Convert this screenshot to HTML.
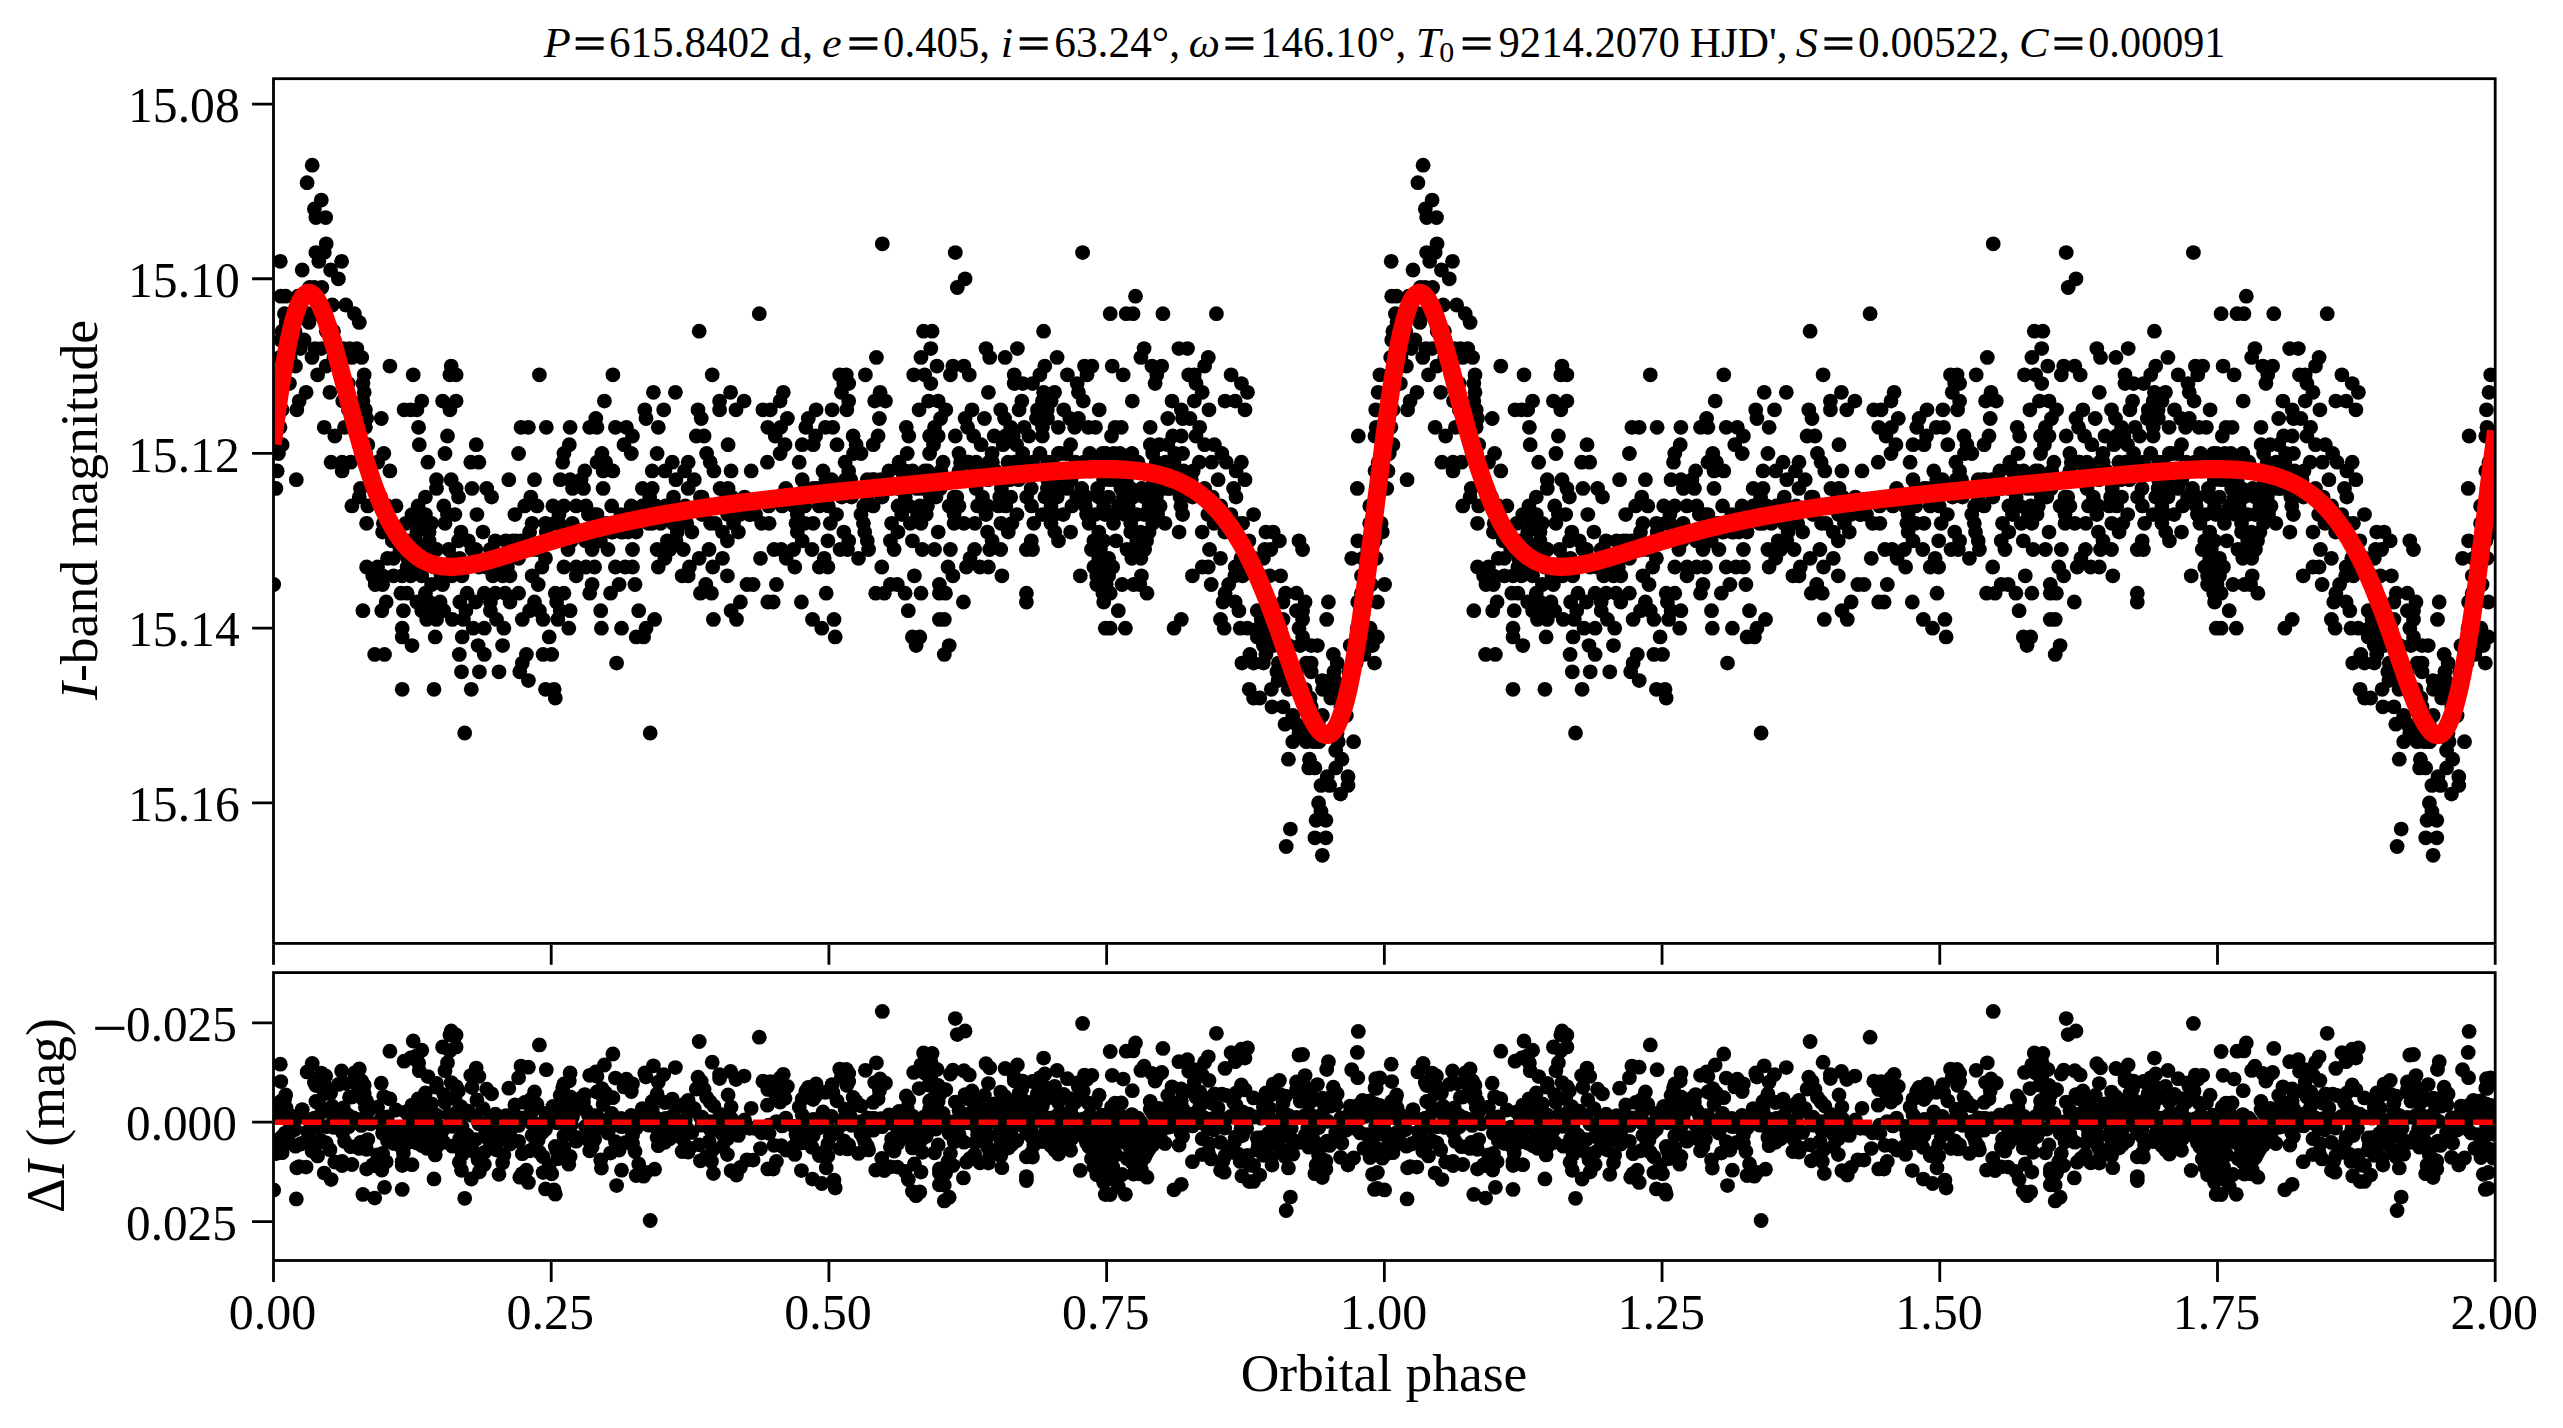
<!DOCTYPE html><html><head><meta charset="utf-8"><title>Light curve</title><style>html,body{margin:0;padding:0;background:#fff}svg{display:block}</style></head><body><svg width="2563" height="1428" viewBox="0 0 2563 1428">
<rect width="2563" height="1428" fill="#fff"/>
<defs><clipPath id="ct"><rect x="273.5" y="78.7" width="2221.7" height="864.6999999999999"/></clipPath><clipPath id="cb"><rect x="273.5" y="972.6" width="2221.7" height="287.9"/></clipPath></defs>
<g clip-path="url(#ct)" fill="#000"><circle cx="275.9" cy="488.4" r="7.4"/><circle cx="1386.8" cy="488.4" r="7.4"/><circle cx="273.7" cy="584.5" r="7.4"/><circle cx="1384.6" cy="584.5" r="7.4"/><circle cx="277.2" cy="470.9" r="7.4"/><circle cx="1388.0" cy="470.9" r="7.4"/><circle cx="278.4" cy="453.5" r="7.4"/><circle cx="1389.2" cy="453.5" r="7.4"/><circle cx="280.3" cy="261.3" r="7.4"/><circle cx="1391.2" cy="261.3" r="7.4"/><circle cx="280.8" cy="296.2" r="7.4"/><circle cx="1391.7" cy="296.2" r="7.4"/><circle cx="280.8" cy="339.9" r="7.4"/><circle cx="1391.7" cy="339.9" r="7.4"/><circle cx="282.1" cy="331.2" r="7.4"/><circle cx="1392.9" cy="331.2" r="7.4"/><circle cx="282.1" cy="444.7" r="7.4"/><circle cx="1392.9" cy="444.7" r="7.4"/><circle cx="284.5" cy="313.7" r="7.4"/><circle cx="1395.4" cy="313.7" r="7.4"/><circle cx="285.7" cy="296.2" r="7.4"/><circle cx="1396.6" cy="296.2" r="7.4"/><circle cx="289.4" cy="383.6" r="7.4"/><circle cx="1400.3" cy="383.6" r="7.4"/><circle cx="295.5" cy="366.1" r="7.4"/><circle cx="1406.4" cy="366.1" r="7.4"/><circle cx="296.3" cy="479.7" r="7.4"/><circle cx="1407.1" cy="479.7" r="7.4"/><circle cx="296.8" cy="409.8" r="7.4"/><circle cx="1407.6" cy="409.8" r="7.4"/><circle cx="299.2" cy="401.1" r="7.4"/><circle cx="1410.1" cy="401.1" r="7.4"/><circle cx="300.4" cy="348.6" r="7.4"/><circle cx="1411.3" cy="348.6" r="7.4"/><circle cx="302.2" cy="270.0" r="7.4"/><circle cx="1413.0" cy="270.0" r="7.4"/><circle cx="304.1" cy="339.9" r="7.4"/><circle cx="1415.0" cy="339.9" r="7.4"/><circle cx="306.1" cy="392.3" r="7.4"/><circle cx="1416.9" cy="392.3" r="7.4"/><circle cx="307.1" cy="182.7" r="7.4"/><circle cx="1417.9" cy="182.7" r="7.4"/><circle cx="307.8" cy="313.7" r="7.4"/><circle cx="1418.6" cy="313.7" r="7.4"/><circle cx="309.0" cy="322.4" r="7.4"/><circle cx="1419.9" cy="322.4" r="7.4"/><circle cx="312.0" cy="357.4" r="7.4"/><circle cx="1422.8" cy="357.4" r="7.4"/><circle cx="312.2" cy="165.2" r="7.4"/><circle cx="1423.1" cy="165.2" r="7.4"/><circle cx="314.4" cy="208.9" r="7.4"/><circle cx="1425.3" cy="208.9" r="7.4"/><circle cx="314.4" cy="287.5" r="7.4"/><circle cx="1425.3" cy="287.5" r="7.4"/><circle cx="315.1" cy="348.6" r="7.4"/><circle cx="1426.0" cy="348.6" r="7.4"/><circle cx="315.9" cy="217.6" r="7.4"/><circle cx="1426.7" cy="217.6" r="7.4"/><circle cx="315.9" cy="252.6" r="7.4"/><circle cx="1426.7" cy="252.6" r="7.4"/><circle cx="317.6" cy="374.8" r="7.4"/><circle cx="1428.5" cy="374.8" r="7.4"/><circle cx="318.8" cy="261.3" r="7.4"/><circle cx="1429.7" cy="261.3" r="7.4"/><circle cx="321.3" cy="200.1" r="7.4"/><circle cx="1432.1" cy="200.1" r="7.4"/><circle cx="321.3" cy="348.6" r="7.4"/><circle cx="1432.1" cy="348.6" r="7.4"/><circle cx="321.8" cy="287.5" r="7.4"/><circle cx="1432.6" cy="287.5" r="7.4"/><circle cx="324.2" cy="252.6" r="7.4"/><circle cx="1435.1" cy="252.6" r="7.4"/><circle cx="324.2" cy="427.3" r="7.4"/><circle cx="1435.1" cy="427.3" r="7.4"/><circle cx="325.7" cy="217.6" r="7.4"/><circle cx="1436.5" cy="217.6" r="7.4"/><circle cx="326.2" cy="243.8" r="7.4"/><circle cx="1437.0" cy="243.8" r="7.4"/><circle cx="326.2" cy="366.1" r="7.4"/><circle cx="1437.0" cy="366.1" r="7.4"/><circle cx="329.9" cy="392.3" r="7.4"/><circle cx="1440.7" cy="392.3" r="7.4"/><circle cx="330.6" cy="270.0" r="7.4"/><circle cx="1441.4" cy="270.0" r="7.4"/><circle cx="331.1" cy="462.2" r="7.4"/><circle cx="1441.9" cy="462.2" r="7.4"/><circle cx="332.3" cy="305.0" r="7.4"/><circle cx="1443.2" cy="305.0" r="7.4"/><circle cx="333.5" cy="331.2" r="7.4"/><circle cx="1444.4" cy="331.2" r="7.4"/><circle cx="334.8" cy="436.0" r="7.4"/><circle cx="1445.6" cy="436.0" r="7.4"/><circle cx="338.4" cy="278.8" r="7.4"/><circle cx="1449.3" cy="278.8" r="7.4"/><circle cx="341.6" cy="261.3" r="7.4"/><circle cx="1452.5" cy="261.3" r="7.4"/><circle cx="342.1" cy="462.2" r="7.4"/><circle cx="1453.0" cy="462.2" r="7.4"/><circle cx="342.1" cy="470.9" r="7.4"/><circle cx="1453.0" cy="470.9" r="7.4"/><circle cx="343.3" cy="348.6" r="7.4"/><circle cx="1454.2" cy="348.6" r="7.4"/><circle cx="344.6" cy="427.3" r="7.4"/><circle cx="1455.4" cy="427.3" r="7.4"/><circle cx="345.8" cy="305.0" r="7.4"/><circle cx="1456.6" cy="305.0" r="7.4"/><circle cx="348.2" cy="383.6" r="7.4"/><circle cx="1459.1" cy="383.6" r="7.4"/><circle cx="349.5" cy="348.6" r="7.4"/><circle cx="1460.3" cy="348.6" r="7.4"/><circle cx="350.7" cy="462.2" r="7.4"/><circle cx="1461.5" cy="462.2" r="7.4"/><circle cx="351.9" cy="357.4" r="7.4"/><circle cx="1462.8" cy="357.4" r="7.4"/><circle cx="351.9" cy="505.9" r="7.4"/><circle cx="1462.8" cy="505.9" r="7.4"/><circle cx="354.4" cy="313.7" r="7.4"/><circle cx="1465.2" cy="313.7" r="7.4"/><circle cx="356.8" cy="348.6" r="7.4"/><circle cx="1467.7" cy="348.6" r="7.4"/><circle cx="359.3" cy="322.4" r="7.4"/><circle cx="1470.1" cy="322.4" r="7.4"/><circle cx="359.3" cy="497.1" r="7.4"/><circle cx="1470.1" cy="497.1" r="7.4"/><circle cx="360.5" cy="488.4" r="7.4"/><circle cx="1471.3" cy="488.4" r="7.4"/><circle cx="361.7" cy="357.4" r="7.4"/><circle cx="1472.6" cy="357.4" r="7.4"/><circle cx="362.9" cy="383.6" r="7.4"/><circle cx="1473.8" cy="383.6" r="7.4"/><circle cx="362.9" cy="401.1" r="7.4"/><circle cx="1473.8" cy="401.1" r="7.4"/><circle cx="362.9" cy="610.7" r="7.4"/><circle cx="1473.8" cy="610.7" r="7.4"/><circle cx="364.2" cy="374.8" r="7.4"/><circle cx="1475.0" cy="374.8" r="7.4"/><circle cx="364.2" cy="392.3" r="7.4"/><circle cx="1475.0" cy="392.3" r="7.4"/><circle cx="365.4" cy="409.8" r="7.4"/><circle cx="1476.2" cy="409.8" r="7.4"/><circle cx="365.4" cy="427.3" r="7.4"/><circle cx="1476.2" cy="427.3" r="7.4"/><circle cx="366.6" cy="418.5" r="7.4"/><circle cx="1477.5" cy="418.5" r="7.4"/><circle cx="366.6" cy="523.3" r="7.4"/><circle cx="1477.5" cy="523.3" r="7.4"/><circle cx="366.6" cy="567.0" r="7.4"/><circle cx="1477.5" cy="567.0" r="7.4"/><circle cx="367.8" cy="444.7" r="7.4"/><circle cx="1478.7" cy="444.7" r="7.4"/><circle cx="367.8" cy="505.9" r="7.4"/><circle cx="1478.7" cy="505.9" r="7.4"/><circle cx="372.7" cy="575.8" r="7.4"/><circle cx="1483.6" cy="575.8" r="7.4"/><circle cx="374.7" cy="654.4" r="7.4"/><circle cx="1485.6" cy="654.4" r="7.4"/><circle cx="375.2" cy="584.5" r="7.4"/><circle cx="1486.0" cy="584.5" r="7.4"/><circle cx="377.6" cy="462.2" r="7.4"/><circle cx="1488.5" cy="462.2" r="7.4"/><circle cx="377.6" cy="567.0" r="7.4"/><circle cx="1488.5" cy="567.0" r="7.4"/><circle cx="381.3" cy="418.5" r="7.4"/><circle cx="1492.2" cy="418.5" r="7.4"/><circle cx="381.8" cy="610.7" r="7.4"/><circle cx="1492.7" cy="610.7" r="7.4"/><circle cx="382.6" cy="532.1" r="7.4"/><circle cx="1493.4" cy="532.1" r="7.4"/><circle cx="382.6" cy="575.8" r="7.4"/><circle cx="1493.4" cy="575.8" r="7.4"/><circle cx="382.6" cy="584.5" r="7.4"/><circle cx="1493.4" cy="584.5" r="7.4"/><circle cx="383.8" cy="453.5" r="7.4"/><circle cx="1494.6" cy="453.5" r="7.4"/><circle cx="384.5" cy="654.4" r="7.4"/><circle cx="1495.4" cy="654.4" r="7.4"/><circle cx="386.2" cy="602.0" r="7.4"/><circle cx="1497.1" cy="602.0" r="7.4"/><circle cx="387.5" cy="558.3" r="7.4"/><circle cx="1498.3" cy="558.3" r="7.4"/><circle cx="389.9" cy="366.1" r="7.4"/><circle cx="1500.8" cy="366.1" r="7.4"/><circle cx="389.9" cy="470.9" r="7.4"/><circle cx="1500.8" cy="470.9" r="7.4"/><circle cx="392.3" cy="540.8" r="7.4"/><circle cx="1503.2" cy="540.8" r="7.4"/><circle cx="393.6" cy="558.3" r="7.4"/><circle cx="1504.4" cy="558.3" r="7.4"/><circle cx="393.6" cy="575.8" r="7.4"/><circle cx="1504.4" cy="575.8" r="7.4"/><circle cx="396.0" cy="505.9" r="7.4"/><circle cx="1506.9" cy="505.9" r="7.4"/><circle cx="400.9" cy="593.2" r="7.4"/><circle cx="1511.8" cy="593.2" r="7.4"/><circle cx="402.2" cy="575.8" r="7.4"/><circle cx="1513.0" cy="575.8" r="7.4"/><circle cx="402.2" cy="628.2" r="7.4"/><circle cx="1513.0" cy="628.2" r="7.4"/><circle cx="402.2" cy="636.9" r="7.4"/><circle cx="1513.0" cy="636.9" r="7.4"/><circle cx="402.2" cy="689.3" r="7.4"/><circle cx="1513.0" cy="689.3" r="7.4"/><circle cx="403.4" cy="610.7" r="7.4"/><circle cx="1514.2" cy="610.7" r="7.4"/><circle cx="404.1" cy="409.8" r="7.4"/><circle cx="1515.0" cy="409.8" r="7.4"/><circle cx="405.8" cy="523.3" r="7.4"/><circle cx="1516.7" cy="523.3" r="7.4"/><circle cx="407.1" cy="567.0" r="7.4"/><circle cx="1517.9" cy="567.0" r="7.4"/><circle cx="407.1" cy="593.2" r="7.4"/><circle cx="1517.9" cy="593.2" r="7.4"/><circle cx="410.7" cy="409.8" r="7.4"/><circle cx="1521.6" cy="409.8" r="7.4"/><circle cx="410.7" cy="575.8" r="7.4"/><circle cx="1521.6" cy="575.8" r="7.4"/><circle cx="412.0" cy="514.6" r="7.4"/><circle cx="1522.8" cy="514.6" r="7.4"/><circle cx="412.0" cy="645.6" r="7.4"/><circle cx="1522.8" cy="645.6" r="7.4"/><circle cx="413.2" cy="374.8" r="7.4"/><circle cx="1524.0" cy="374.8" r="7.4"/><circle cx="416.9" cy="409.8" r="7.4"/><circle cx="1527.7" cy="409.8" r="7.4"/><circle cx="416.9" cy="532.1" r="7.4"/><circle cx="1527.7" cy="532.1" r="7.4"/><circle cx="416.9" cy="602.0" r="7.4"/><circle cx="1527.7" cy="602.0" r="7.4"/><circle cx="418.1" cy="505.9" r="7.4"/><circle cx="1528.9" cy="505.9" r="7.4"/><circle cx="418.6" cy="427.3" r="7.4"/><circle cx="1529.4" cy="427.3" r="7.4"/><circle cx="419.3" cy="444.7" r="7.4"/><circle cx="1530.2" cy="444.7" r="7.4"/><circle cx="419.3" cy="523.3" r="7.4"/><circle cx="1530.2" cy="523.3" r="7.4"/><circle cx="421.8" cy="401.1" r="7.4"/><circle cx="1532.6" cy="401.1" r="7.4"/><circle cx="421.8" cy="575.8" r="7.4"/><circle cx="1532.6" cy="575.8" r="7.4"/><circle cx="421.8" cy="610.7" r="7.4"/><circle cx="1532.6" cy="610.7" r="7.4"/><circle cx="425.4" cy="497.1" r="7.4"/><circle cx="1536.3" cy="497.1" r="7.4"/><circle cx="425.4" cy="514.6" r="7.4"/><circle cx="1536.3" cy="514.6" r="7.4"/><circle cx="425.4" cy="593.2" r="7.4"/><circle cx="1536.3" cy="593.2" r="7.4"/><circle cx="426.7" cy="619.4" r="7.4"/><circle cx="1537.5" cy="619.4" r="7.4"/><circle cx="427.9" cy="462.2" r="7.4"/><circle cx="1538.7" cy="462.2" r="7.4"/><circle cx="429.1" cy="532.1" r="7.4"/><circle cx="1540.0" cy="532.1" r="7.4"/><circle cx="429.1" cy="540.8" r="7.4"/><circle cx="1540.0" cy="540.8" r="7.4"/><circle cx="429.1" cy="602.0" r="7.4"/><circle cx="1540.0" cy="602.0" r="7.4"/><circle cx="431.6" cy="523.3" r="7.4"/><circle cx="1542.4" cy="523.3" r="7.4"/><circle cx="431.6" cy="584.5" r="7.4"/><circle cx="1542.4" cy="584.5" r="7.4"/><circle cx="432.8" cy="610.7" r="7.4"/><circle cx="1543.6" cy="610.7" r="7.4"/><circle cx="434.0" cy="689.3" r="7.4"/><circle cx="1544.9" cy="689.3" r="7.4"/><circle cx="435.2" cy="549.5" r="7.4"/><circle cx="1546.1" cy="549.5" r="7.4"/><circle cx="435.2" cy="636.9" r="7.4"/><circle cx="1546.1" cy="636.9" r="7.4"/><circle cx="436.5" cy="479.7" r="7.4"/><circle cx="1547.3" cy="479.7" r="7.4"/><circle cx="436.5" cy="488.4" r="7.4"/><circle cx="1547.3" cy="488.4" r="7.4"/><circle cx="436.5" cy="619.4" r="7.4"/><circle cx="1547.3" cy="619.4" r="7.4"/><circle cx="440.1" cy="602.0" r="7.4"/><circle cx="1551.0" cy="602.0" r="7.4"/><circle cx="442.6" cy="401.1" r="7.4"/><circle cx="1553.4" cy="401.1" r="7.4"/><circle cx="442.6" cy="584.5" r="7.4"/><circle cx="1553.4" cy="584.5" r="7.4"/><circle cx="443.8" cy="505.9" r="7.4"/><circle cx="1554.7" cy="505.9" r="7.4"/><circle cx="443.8" cy="610.7" r="7.4"/><circle cx="1554.7" cy="610.7" r="7.4"/><circle cx="445.0" cy="453.5" r="7.4"/><circle cx="1555.9" cy="453.5" r="7.4"/><circle cx="445.0" cy="523.3" r="7.4"/><circle cx="1555.9" cy="523.3" r="7.4"/><circle cx="447.5" cy="436.0" r="7.4"/><circle cx="1558.4" cy="436.0" r="7.4"/><circle cx="447.5" cy="514.6" r="7.4"/><circle cx="1558.4" cy="514.6" r="7.4"/><circle cx="448.7" cy="549.5" r="7.4"/><circle cx="1559.6" cy="549.5" r="7.4"/><circle cx="449.9" cy="374.8" r="7.4"/><circle cx="1560.8" cy="374.8" r="7.4"/><circle cx="449.9" cy="409.8" r="7.4"/><circle cx="1560.8" cy="409.8" r="7.4"/><circle cx="451.2" cy="366.1" r="7.4"/><circle cx="1562.0" cy="366.1" r="7.4"/><circle cx="451.2" cy="479.7" r="7.4"/><circle cx="1562.0" cy="479.7" r="7.4"/><circle cx="452.4" cy="619.4" r="7.4"/><circle cx="1563.3" cy="619.4" r="7.4"/><circle cx="454.9" cy="514.6" r="7.4"/><circle cx="1565.7" cy="514.6" r="7.4"/><circle cx="456.1" cy="374.8" r="7.4"/><circle cx="1566.9" cy="374.8" r="7.4"/><circle cx="456.1" cy="401.1" r="7.4"/><circle cx="1566.9" cy="401.1" r="7.4"/><circle cx="456.1" cy="488.4" r="7.4"/><circle cx="1566.9" cy="488.4" r="7.4"/><circle cx="458.5" cy="497.1" r="7.4"/><circle cx="1569.4" cy="497.1" r="7.4"/><circle cx="458.5" cy="540.8" r="7.4"/><circle cx="1569.4" cy="540.8" r="7.4"/><circle cx="459.3" cy="654.4" r="7.4"/><circle cx="1570.1" cy="654.4" r="7.4"/><circle cx="459.8" cy="602.0" r="7.4"/><circle cx="1570.6" cy="602.0" r="7.4"/><circle cx="461.0" cy="532.1" r="7.4"/><circle cx="1571.8" cy="532.1" r="7.4"/><circle cx="461.5" cy="671.8" r="7.4"/><circle cx="1572.3" cy="671.8" r="7.4"/><circle cx="462.2" cy="636.9" r="7.4"/><circle cx="1573.1" cy="636.9" r="7.4"/><circle cx="463.4" cy="619.4" r="7.4"/><circle cx="1574.3" cy="619.4" r="7.4"/><circle cx="464.7" cy="733.0" r="7.4"/><circle cx="1575.5" cy="733.0" r="7.4"/><circle cx="465.9" cy="610.7" r="7.4"/><circle cx="1576.7" cy="610.7" r="7.4"/><circle cx="467.1" cy="593.2" r="7.4"/><circle cx="1578.0" cy="593.2" r="7.4"/><circle cx="468.3" cy="540.8" r="7.4"/><circle cx="1579.2" cy="540.8" r="7.4"/><circle cx="470.8" cy="462.2" r="7.4"/><circle cx="1581.6" cy="462.2" r="7.4"/><circle cx="471.3" cy="689.3" r="7.4"/><circle cx="1582.1" cy="689.3" r="7.4"/><circle cx="472.0" cy="488.4" r="7.4"/><circle cx="1582.9" cy="488.4" r="7.4"/><circle cx="472.0" cy="549.5" r="7.4"/><circle cx="1582.9" cy="549.5" r="7.4"/><circle cx="473.2" cy="628.2" r="7.4"/><circle cx="1584.1" cy="628.2" r="7.4"/><circle cx="475.7" cy="602.0" r="7.4"/><circle cx="1586.5" cy="602.0" r="7.4"/><circle cx="476.2" cy="444.7" r="7.4"/><circle cx="1587.0" cy="444.7" r="7.4"/><circle cx="476.9" cy="514.6" r="7.4"/><circle cx="1587.8" cy="514.6" r="7.4"/><circle cx="478.1" cy="645.6" r="7.4"/><circle cx="1589.0" cy="645.6" r="7.4"/><circle cx="478.9" cy="462.2" r="7.4"/><circle cx="1589.7" cy="462.2" r="7.4"/><circle cx="479.4" cy="671.8" r="7.4"/><circle cx="1590.2" cy="671.8" r="7.4"/><circle cx="483.0" cy="532.1" r="7.4"/><circle cx="1593.9" cy="532.1" r="7.4"/><circle cx="484.3" cy="593.2" r="7.4"/><circle cx="1595.1" cy="593.2" r="7.4"/><circle cx="484.3" cy="628.2" r="7.4"/><circle cx="1595.1" cy="628.2" r="7.4"/><circle cx="484.3" cy="654.4" r="7.4"/><circle cx="1595.1" cy="654.4" r="7.4"/><circle cx="486.7" cy="488.4" r="7.4"/><circle cx="1597.6" cy="488.4" r="7.4"/><circle cx="490.4" cy="549.5" r="7.4"/><circle cx="1601.2" cy="549.5" r="7.4"/><circle cx="490.4" cy="602.0" r="7.4"/><circle cx="1601.2" cy="602.0" r="7.4"/><circle cx="490.4" cy="610.7" r="7.4"/><circle cx="1601.2" cy="610.7" r="7.4"/><circle cx="491.6" cy="497.1" r="7.4"/><circle cx="1602.5" cy="497.1" r="7.4"/><circle cx="492.8" cy="575.8" r="7.4"/><circle cx="1603.7" cy="575.8" r="7.4"/><circle cx="495.3" cy="540.8" r="7.4"/><circle cx="1606.1" cy="540.8" r="7.4"/><circle cx="495.3" cy="593.2" r="7.4"/><circle cx="1606.1" cy="593.2" r="7.4"/><circle cx="496.5" cy="619.4" r="7.4"/><circle cx="1607.4" cy="619.4" r="7.4"/><circle cx="499.0" cy="671.8" r="7.4"/><circle cx="1609.8" cy="671.8" r="7.4"/><circle cx="502.6" cy="575.8" r="7.4"/><circle cx="1613.5" cy="575.8" r="7.4"/><circle cx="502.6" cy="645.6" r="7.4"/><circle cx="1613.5" cy="645.6" r="7.4"/><circle cx="503.9" cy="628.2" r="7.4"/><circle cx="1614.7" cy="628.2" r="7.4"/><circle cx="505.1" cy="593.2" r="7.4"/><circle cx="1616.0" cy="593.2" r="7.4"/><circle cx="507.5" cy="567.0" r="7.4"/><circle cx="1618.4" cy="567.0" r="7.4"/><circle cx="508.8" cy="479.7" r="7.4"/><circle cx="1619.6" cy="479.7" r="7.4"/><circle cx="510.0" cy="575.8" r="7.4"/><circle cx="1620.8" cy="575.8" r="7.4"/><circle cx="510.0" cy="602.0" r="7.4"/><circle cx="1620.8" cy="602.0" r="7.4"/><circle cx="512.5" cy="540.8" r="7.4"/><circle cx="1623.3" cy="540.8" r="7.4"/><circle cx="514.9" cy="514.6" r="7.4"/><circle cx="1625.7" cy="514.6" r="7.4"/><circle cx="518.6" cy="453.5" r="7.4"/><circle cx="1629.4" cy="453.5" r="7.4"/><circle cx="518.6" cy="593.2" r="7.4"/><circle cx="1629.4" cy="593.2" r="7.4"/><circle cx="519.8" cy="671.8" r="7.4"/><circle cx="1630.7" cy="671.8" r="7.4"/><circle cx="521.0" cy="427.3" r="7.4"/><circle cx="1631.9" cy="427.3" r="7.4"/><circle cx="522.3" cy="619.4" r="7.4"/><circle cx="1633.1" cy="619.4" r="7.4"/><circle cx="522.3" cy="663.1" r="7.4"/><circle cx="1633.1" cy="663.1" r="7.4"/><circle cx="524.7" cy="505.9" r="7.4"/><circle cx="1635.6" cy="505.9" r="7.4"/><circle cx="526.4" cy="654.4" r="7.4"/><circle cx="1637.3" cy="654.4" r="7.4"/><circle cx="528.4" cy="427.3" r="7.4"/><circle cx="1639.2" cy="427.3" r="7.4"/><circle cx="528.4" cy="680.6" r="7.4"/><circle cx="1639.2" cy="680.6" r="7.4"/><circle cx="529.6" cy="532.1" r="7.4"/><circle cx="1640.5" cy="532.1" r="7.4"/><circle cx="529.6" cy="610.7" r="7.4"/><circle cx="1640.5" cy="610.7" r="7.4"/><circle cx="530.8" cy="497.1" r="7.4"/><circle cx="1641.7" cy="497.1" r="7.4"/><circle cx="532.1" cy="523.3" r="7.4"/><circle cx="1642.9" cy="523.3" r="7.4"/><circle cx="532.1" cy="575.8" r="7.4"/><circle cx="1642.9" cy="575.8" r="7.4"/><circle cx="534.5" cy="479.7" r="7.4"/><circle cx="1645.4" cy="479.7" r="7.4"/><circle cx="534.5" cy="602.0" r="7.4"/><circle cx="1645.4" cy="602.0" r="7.4"/><circle cx="537.0" cy="505.9" r="7.4"/><circle cx="1647.8" cy="505.9" r="7.4"/><circle cx="538.2" cy="584.5" r="7.4"/><circle cx="1649.0" cy="584.5" r="7.4"/><circle cx="539.4" cy="374.8" r="7.4"/><circle cx="1650.3" cy="374.8" r="7.4"/><circle cx="539.4" cy="610.7" r="7.4"/><circle cx="1650.3" cy="610.7" r="7.4"/><circle cx="541.9" cy="567.0" r="7.4"/><circle cx="1652.7" cy="567.0" r="7.4"/><circle cx="543.1" cy="619.4" r="7.4"/><circle cx="1653.9" cy="619.4" r="7.4"/><circle cx="543.1" cy="654.4" r="7.4"/><circle cx="1653.9" cy="654.4" r="7.4"/><circle cx="545.5" cy="523.3" r="7.4"/><circle cx="1656.4" cy="523.3" r="7.4"/><circle cx="545.5" cy="558.3" r="7.4"/><circle cx="1656.4" cy="558.3" r="7.4"/><circle cx="545.5" cy="689.3" r="7.4"/><circle cx="1656.4" cy="689.3" r="7.4"/><circle cx="546.3" cy="427.3" r="7.4"/><circle cx="1657.1" cy="427.3" r="7.4"/><circle cx="549.2" cy="636.9" r="7.4"/><circle cx="1660.1" cy="636.9" r="7.4"/><circle cx="551.7" cy="654.4" r="7.4"/><circle cx="1662.5" cy="654.4" r="7.4"/><circle cx="552.9" cy="505.9" r="7.4"/><circle cx="1663.7" cy="505.9" r="7.4"/><circle cx="554.1" cy="523.3" r="7.4"/><circle cx="1665.0" cy="523.3" r="7.4"/><circle cx="554.1" cy="689.3" r="7.4"/><circle cx="1665.0" cy="689.3" r="7.4"/><circle cx="555.3" cy="593.2" r="7.4"/><circle cx="1666.2" cy="593.2" r="7.4"/><circle cx="555.3" cy="698.0" r="7.4"/><circle cx="1666.2" cy="698.0" r="7.4"/><circle cx="556.6" cy="602.0" r="7.4"/><circle cx="1667.4" cy="602.0" r="7.4"/><circle cx="557.8" cy="619.4" r="7.4"/><circle cx="1668.6" cy="619.4" r="7.4"/><circle cx="559.0" cy="514.6" r="7.4"/><circle cx="1669.9" cy="514.6" r="7.4"/><circle cx="560.2" cy="479.7" r="7.4"/><circle cx="1671.1" cy="479.7" r="7.4"/><circle cx="560.2" cy="610.7" r="7.4"/><circle cx="1671.1" cy="610.7" r="7.4"/><circle cx="562.7" cy="462.2" r="7.4"/><circle cx="1673.5" cy="462.2" r="7.4"/><circle cx="563.9" cy="453.5" r="7.4"/><circle cx="1674.8" cy="453.5" r="7.4"/><circle cx="563.9" cy="505.9" r="7.4"/><circle cx="1674.8" cy="505.9" r="7.4"/><circle cx="563.9" cy="567.0" r="7.4"/><circle cx="1674.8" cy="567.0" r="7.4"/><circle cx="563.9" cy="593.2" r="7.4"/><circle cx="1674.8" cy="593.2" r="7.4"/><circle cx="568.8" cy="628.2" r="7.4"/><circle cx="1679.7" cy="628.2" r="7.4"/><circle cx="569.3" cy="444.7" r="7.4"/><circle cx="1680.2" cy="444.7" r="7.4"/><circle cx="570.1" cy="427.3" r="7.4"/><circle cx="1680.9" cy="427.3" r="7.4"/><circle cx="570.1" cy="479.7" r="7.4"/><circle cx="1680.9" cy="479.7" r="7.4"/><circle cx="570.1" cy="610.7" r="7.4"/><circle cx="1680.9" cy="610.7" r="7.4"/><circle cx="571.3" cy="540.8" r="7.4"/><circle cx="1682.1" cy="540.8" r="7.4"/><circle cx="572.5" cy="488.4" r="7.4"/><circle cx="1683.3" cy="488.4" r="7.4"/><circle cx="576.2" cy="505.9" r="7.4"/><circle cx="1687.0" cy="505.9" r="7.4"/><circle cx="576.2" cy="567.0" r="7.4"/><circle cx="1687.0" cy="567.0" r="7.4"/><circle cx="576.2" cy="575.8" r="7.4"/><circle cx="1687.0" cy="575.8" r="7.4"/><circle cx="581.1" cy="479.7" r="7.4"/><circle cx="1691.9" cy="479.7" r="7.4"/><circle cx="583.5" cy="488.4" r="7.4"/><circle cx="1694.4" cy="488.4" r="7.4"/><circle cx="584.8" cy="470.9" r="7.4"/><circle cx="1695.6" cy="470.9" r="7.4"/><circle cx="586.0" cy="505.9" r="7.4"/><circle cx="1696.8" cy="505.9" r="7.4"/><circle cx="586.0" cy="567.0" r="7.4"/><circle cx="1696.8" cy="567.0" r="7.4"/><circle cx="588.4" cy="514.6" r="7.4"/><circle cx="1699.3" cy="514.6" r="7.4"/><circle cx="588.4" cy="540.8" r="7.4"/><circle cx="1699.3" cy="540.8" r="7.4"/><circle cx="589.7" cy="427.3" r="7.4"/><circle cx="1700.5" cy="427.3" r="7.4"/><circle cx="589.7" cy="593.2" r="7.4"/><circle cx="1700.5" cy="593.2" r="7.4"/><circle cx="592.1" cy="549.5" r="7.4"/><circle cx="1703.0" cy="549.5" r="7.4"/><circle cx="592.1" cy="584.5" r="7.4"/><circle cx="1703.0" cy="584.5" r="7.4"/><circle cx="594.6" cy="567.0" r="7.4"/><circle cx="1705.4" cy="567.0" r="7.4"/><circle cx="595.8" cy="418.5" r="7.4"/><circle cx="1706.6" cy="418.5" r="7.4"/><circle cx="597.0" cy="427.3" r="7.4"/><circle cx="1707.9" cy="427.3" r="7.4"/><circle cx="597.0" cy="462.2" r="7.4"/><circle cx="1707.9" cy="462.2" r="7.4"/><circle cx="597.0" cy="514.6" r="7.4"/><circle cx="1707.9" cy="514.6" r="7.4"/><circle cx="600.7" cy="610.7" r="7.4"/><circle cx="1711.5" cy="610.7" r="7.4"/><circle cx="601.4" cy="628.2" r="7.4"/><circle cx="1712.3" cy="628.2" r="7.4"/><circle cx="601.9" cy="453.5" r="7.4"/><circle cx="1712.8" cy="453.5" r="7.4"/><circle cx="603.1" cy="470.9" r="7.4"/><circle cx="1714.0" cy="470.9" r="7.4"/><circle cx="603.1" cy="488.4" r="7.4"/><circle cx="1714.0" cy="488.4" r="7.4"/><circle cx="603.1" cy="532.1" r="7.4"/><circle cx="1714.0" cy="532.1" r="7.4"/><circle cx="604.4" cy="401.1" r="7.4"/><circle cx="1715.2" cy="401.1" r="7.4"/><circle cx="605.6" cy="462.2" r="7.4"/><circle cx="1716.4" cy="462.2" r="7.4"/><circle cx="608.0" cy="549.5" r="7.4"/><circle cx="1718.9" cy="549.5" r="7.4"/><circle cx="610.5" cy="593.2" r="7.4"/><circle cx="1721.3" cy="593.2" r="7.4"/><circle cx="611.7" cy="505.9" r="7.4"/><circle cx="1722.6" cy="505.9" r="7.4"/><circle cx="612.9" cy="374.8" r="7.4"/><circle cx="1723.8" cy="374.8" r="7.4"/><circle cx="612.9" cy="470.9" r="7.4"/><circle cx="1723.8" cy="470.9" r="7.4"/><circle cx="612.9" cy="532.1" r="7.4"/><circle cx="1723.8" cy="532.1" r="7.4"/><circle cx="615.4" cy="427.3" r="7.4"/><circle cx="1726.2" cy="427.3" r="7.4"/><circle cx="615.4" cy="567.0" r="7.4"/><circle cx="1726.2" cy="567.0" r="7.4"/><circle cx="616.6" cy="663.1" r="7.4"/><circle cx="1727.5" cy="663.1" r="7.4"/><circle cx="619.1" cy="584.5" r="7.4"/><circle cx="1729.9" cy="584.5" r="7.4"/><circle cx="621.5" cy="628.2" r="7.4"/><circle cx="1732.4" cy="628.2" r="7.4"/><circle cx="622.7" cy="532.1" r="7.4"/><circle cx="1733.6" cy="532.1" r="7.4"/><circle cx="624.0" cy="444.7" r="7.4"/><circle cx="1734.8" cy="444.7" r="7.4"/><circle cx="625.2" cy="567.0" r="7.4"/><circle cx="1736.0" cy="567.0" r="7.4"/><circle cx="626.4" cy="427.3" r="7.4"/><circle cx="1737.3" cy="427.3" r="7.4"/><circle cx="627.7" cy="514.6" r="7.4"/><circle cx="1738.5" cy="514.6" r="7.4"/><circle cx="631.3" cy="453.5" r="7.4"/><circle cx="1742.2" cy="453.5" r="7.4"/><circle cx="632.5" cy="436.0" r="7.4"/><circle cx="1743.4" cy="436.0" r="7.4"/><circle cx="632.5" cy="549.5" r="7.4"/><circle cx="1743.4" cy="549.5" r="7.4"/><circle cx="632.5" cy="567.0" r="7.4"/><circle cx="1743.4" cy="567.0" r="7.4"/><circle cx="635.0" cy="584.5" r="7.4"/><circle cx="1745.9" cy="584.5" r="7.4"/><circle cx="636.2" cy="532.1" r="7.4"/><circle cx="1747.1" cy="532.1" r="7.4"/><circle cx="636.2" cy="636.9" r="7.4"/><circle cx="1747.1" cy="636.9" r="7.4"/><circle cx="638.7" cy="610.7" r="7.4"/><circle cx="1749.5" cy="610.7" r="7.4"/><circle cx="642.4" cy="488.4" r="7.4"/><circle cx="1753.2" cy="488.4" r="7.4"/><circle cx="642.4" cy="505.9" r="7.4"/><circle cx="1753.2" cy="505.9" r="7.4"/><circle cx="643.6" cy="636.9" r="7.4"/><circle cx="1754.4" cy="636.9" r="7.4"/><circle cx="644.8" cy="409.8" r="7.4"/><circle cx="1755.7" cy="409.8" r="7.4"/><circle cx="646.0" cy="418.5" r="7.4"/><circle cx="1756.9" cy="418.5" r="7.4"/><circle cx="646.0" cy="628.2" r="7.4"/><circle cx="1756.9" cy="628.2" r="7.4"/><circle cx="649.7" cy="497.1" r="7.4"/><circle cx="1760.6" cy="497.1" r="7.4"/><circle cx="650.2" cy="733.0" r="7.4"/><circle cx="1761.1" cy="733.0" r="7.4"/><circle cx="652.2" cy="470.9" r="7.4"/><circle cx="1763.0" cy="470.9" r="7.4"/><circle cx="652.2" cy="488.4" r="7.4"/><circle cx="1763.0" cy="488.4" r="7.4"/><circle cx="652.2" cy="523.3" r="7.4"/><circle cx="1763.0" cy="523.3" r="7.4"/><circle cx="653.4" cy="392.3" r="7.4"/><circle cx="1764.2" cy="392.3" r="7.4"/><circle cx="654.6" cy="619.4" r="7.4"/><circle cx="1765.5" cy="619.4" r="7.4"/><circle cx="657.1" cy="453.5" r="7.4"/><circle cx="1767.9" cy="453.5" r="7.4"/><circle cx="657.1" cy="549.5" r="7.4"/><circle cx="1767.9" cy="549.5" r="7.4"/><circle cx="658.3" cy="427.3" r="7.4"/><circle cx="1769.1" cy="427.3" r="7.4"/><circle cx="658.3" cy="567.0" r="7.4"/><circle cx="1769.1" cy="567.0" r="7.4"/><circle cx="663.7" cy="409.8" r="7.4"/><circle cx="1774.5" cy="409.8" r="7.4"/><circle cx="664.9" cy="470.9" r="7.4"/><circle cx="1775.7" cy="470.9" r="7.4"/><circle cx="664.9" cy="558.3" r="7.4"/><circle cx="1775.7" cy="558.3" r="7.4"/><circle cx="667.4" cy="540.8" r="7.4"/><circle cx="1778.2" cy="540.8" r="7.4"/><circle cx="669.8" cy="549.5" r="7.4"/><circle cx="1780.7" cy="549.5" r="7.4"/><circle cx="672.3" cy="462.2" r="7.4"/><circle cx="1783.1" cy="462.2" r="7.4"/><circle cx="673.5" cy="497.1" r="7.4"/><circle cx="1784.3" cy="497.1" r="7.4"/><circle cx="675.4" cy="392.3" r="7.4"/><circle cx="1786.3" cy="392.3" r="7.4"/><circle cx="675.9" cy="479.7" r="7.4"/><circle cx="1786.8" cy="479.7" r="7.4"/><circle cx="675.9" cy="540.8" r="7.4"/><circle cx="1786.8" cy="540.8" r="7.4"/><circle cx="677.2" cy="532.1" r="7.4"/><circle cx="1788.0" cy="532.1" r="7.4"/><circle cx="682.1" cy="575.8" r="7.4"/><circle cx="1792.9" cy="575.8" r="7.4"/><circle cx="683.3" cy="549.5" r="7.4"/><circle cx="1794.1" cy="549.5" r="7.4"/><circle cx="684.5" cy="470.9" r="7.4"/><circle cx="1795.4" cy="470.9" r="7.4"/><circle cx="688.2" cy="462.2" r="7.4"/><circle cx="1799.0" cy="462.2" r="7.4"/><circle cx="688.2" cy="488.4" r="7.4"/><circle cx="1799.0" cy="488.4" r="7.4"/><circle cx="688.2" cy="575.8" r="7.4"/><circle cx="1799.0" cy="575.8" r="7.4"/><circle cx="689.4" cy="567.0" r="7.4"/><circle cx="1800.3" cy="567.0" r="7.4"/><circle cx="691.9" cy="532.1" r="7.4"/><circle cx="1802.7" cy="532.1" r="7.4"/><circle cx="694.3" cy="479.7" r="7.4"/><circle cx="1805.2" cy="479.7" r="7.4"/><circle cx="696.3" cy="436.0" r="7.4"/><circle cx="1807.1" cy="436.0" r="7.4"/><circle cx="698.0" cy="409.8" r="7.4"/><circle cx="1808.8" cy="409.8" r="7.4"/><circle cx="699.2" cy="331.2" r="7.4"/><circle cx="1810.1" cy="331.2" r="7.4"/><circle cx="699.2" cy="558.3" r="7.4"/><circle cx="1810.1" cy="558.3" r="7.4"/><circle cx="700.4" cy="497.1" r="7.4"/><circle cx="1811.3" cy="497.1" r="7.4"/><circle cx="700.4" cy="593.2" r="7.4"/><circle cx="1811.3" cy="593.2" r="7.4"/><circle cx="701.2" cy="418.5" r="7.4"/><circle cx="1812.0" cy="418.5" r="7.4"/><circle cx="704.1" cy="436.0" r="7.4"/><circle cx="1815.0" cy="436.0" r="7.4"/><circle cx="705.8" cy="584.5" r="7.4"/><circle cx="1816.7" cy="584.5" r="7.4"/><circle cx="706.6" cy="453.5" r="7.4"/><circle cx="1817.4" cy="453.5" r="7.4"/><circle cx="709.0" cy="549.5" r="7.4"/><circle cx="1819.9" cy="549.5" r="7.4"/><circle cx="710.2" cy="462.2" r="7.4"/><circle cx="1821.1" cy="462.2" r="7.4"/><circle cx="711.5" cy="593.2" r="7.4"/><circle cx="1822.3" cy="593.2" r="7.4"/><circle cx="712.2" cy="374.8" r="7.4"/><circle cx="1823.1" cy="374.8" r="7.4"/><circle cx="712.7" cy="567.0" r="7.4"/><circle cx="1823.5" cy="567.0" r="7.4"/><circle cx="713.4" cy="619.4" r="7.4"/><circle cx="1824.3" cy="619.4" r="7.4"/><circle cx="713.9" cy="470.9" r="7.4"/><circle cx="1824.8" cy="470.9" r="7.4"/><circle cx="715.2" cy="523.3" r="7.4"/><circle cx="1826.0" cy="523.3" r="7.4"/><circle cx="719.6" cy="401.1" r="7.4"/><circle cx="1830.4" cy="401.1" r="7.4"/><circle cx="719.6" cy="409.8" r="7.4"/><circle cx="1830.4" cy="409.8" r="7.4"/><circle cx="720.1" cy="488.4" r="7.4"/><circle cx="1830.9" cy="488.4" r="7.4"/><circle cx="722.5" cy="532.1" r="7.4"/><circle cx="1833.3" cy="532.1" r="7.4"/><circle cx="722.5" cy="558.3" r="7.4"/><circle cx="1833.3" cy="558.3" r="7.4"/><circle cx="727.4" cy="540.8" r="7.4"/><circle cx="1838.3" cy="540.8" r="7.4"/><circle cx="727.4" cy="575.8" r="7.4"/><circle cx="1838.3" cy="575.8" r="7.4"/><circle cx="728.1" cy="444.7" r="7.4"/><circle cx="1839.0" cy="444.7" r="7.4"/><circle cx="728.1" cy="488.4" r="7.4"/><circle cx="1839.0" cy="488.4" r="7.4"/><circle cx="730.6" cy="392.3" r="7.4"/><circle cx="1841.4" cy="392.3" r="7.4"/><circle cx="731.1" cy="470.9" r="7.4"/><circle cx="1841.9" cy="470.9" r="7.4"/><circle cx="731.1" cy="610.7" r="7.4"/><circle cx="1841.9" cy="610.7" r="7.4"/><circle cx="733.5" cy="523.3" r="7.4"/><circle cx="1844.4" cy="523.3" r="7.4"/><circle cx="736.0" cy="409.8" r="7.4"/><circle cx="1846.8" cy="409.8" r="7.4"/><circle cx="736.5" cy="619.4" r="7.4"/><circle cx="1847.3" cy="619.4" r="7.4"/><circle cx="738.4" cy="532.1" r="7.4"/><circle cx="1849.3" cy="532.1" r="7.4"/><circle cx="740.4" cy="602.0" r="7.4"/><circle cx="1851.2" cy="602.0" r="7.4"/><circle cx="744.1" cy="401.1" r="7.4"/><circle cx="1854.9" cy="401.1" r="7.4"/><circle cx="744.6" cy="497.1" r="7.4"/><circle cx="1855.4" cy="497.1" r="7.4"/><circle cx="747.0" cy="584.5" r="7.4"/><circle cx="1857.9" cy="584.5" r="7.4"/><circle cx="749.5" cy="514.6" r="7.4"/><circle cx="1860.3" cy="514.6" r="7.4"/><circle cx="751.2" cy="470.9" r="7.4"/><circle cx="1862.0" cy="470.9" r="7.4"/><circle cx="753.1" cy="584.5" r="7.4"/><circle cx="1864.0" cy="584.5" r="7.4"/><circle cx="759.3" cy="313.7" r="7.4"/><circle cx="1870.1" cy="313.7" r="7.4"/><circle cx="760.5" cy="558.3" r="7.4"/><circle cx="1871.3" cy="558.3" r="7.4"/><circle cx="761.7" cy="523.3" r="7.4"/><circle cx="1872.6" cy="523.3" r="7.4"/><circle cx="762.9" cy="409.8" r="7.4"/><circle cx="1873.8" cy="409.8" r="7.4"/><circle cx="767.4" cy="462.2" r="7.4"/><circle cx="1878.2" cy="462.2" r="7.4"/><circle cx="767.8" cy="427.3" r="7.4"/><circle cx="1878.7" cy="427.3" r="7.4"/><circle cx="767.8" cy="602.0" r="7.4"/><circle cx="1878.7" cy="602.0" r="7.4"/><circle cx="769.1" cy="523.3" r="7.4"/><circle cx="1879.9" cy="523.3" r="7.4"/><circle cx="770.3" cy="409.8" r="7.4"/><circle cx="1881.1" cy="409.8" r="7.4"/><circle cx="773.2" cy="602.0" r="7.4"/><circle cx="1884.1" cy="602.0" r="7.4"/><circle cx="774.0" cy="549.5" r="7.4"/><circle cx="1884.8" cy="549.5" r="7.4"/><circle cx="775.2" cy="436.0" r="7.4"/><circle cx="1886.0" cy="436.0" r="7.4"/><circle cx="776.4" cy="584.5" r="7.4"/><circle cx="1887.3" cy="584.5" r="7.4"/><circle cx="780.1" cy="401.1" r="7.4"/><circle cx="1891.0" cy="401.1" r="7.4"/><circle cx="780.1" cy="453.5" r="7.4"/><circle cx="1891.0" cy="453.5" r="7.4"/><circle cx="780.6" cy="427.3" r="7.4"/><circle cx="1891.4" cy="427.3" r="7.4"/><circle cx="781.3" cy="549.5" r="7.4"/><circle cx="1892.2" cy="549.5" r="7.4"/><circle cx="783.3" cy="392.3" r="7.4"/><circle cx="1894.1" cy="392.3" r="7.4"/><circle cx="785.0" cy="444.7" r="7.4"/><circle cx="1895.9" cy="444.7" r="7.4"/><circle cx="786.2" cy="558.3" r="7.4"/><circle cx="1897.1" cy="558.3" r="7.4"/><circle cx="787.4" cy="418.5" r="7.4"/><circle cx="1898.3" cy="418.5" r="7.4"/><circle cx="793.6" cy="549.5" r="7.4"/><circle cx="1904.4" cy="549.5" r="7.4"/><circle cx="794.8" cy="567.0" r="7.4"/><circle cx="1905.6" cy="567.0" r="7.4"/><circle cx="796.0" cy="523.3" r="7.4"/><circle cx="1906.9" cy="523.3" r="7.4"/><circle cx="797.3" cy="514.6" r="7.4"/><circle cx="1908.1" cy="514.6" r="7.4"/><circle cx="797.3" cy="532.1" r="7.4"/><circle cx="1908.1" cy="532.1" r="7.4"/><circle cx="799.2" cy="462.2" r="7.4"/><circle cx="1910.1" cy="462.2" r="7.4"/><circle cx="801.4" cy="602.0" r="7.4"/><circle cx="1912.3" cy="602.0" r="7.4"/><circle cx="802.2" cy="444.7" r="7.4"/><circle cx="1913.0" cy="444.7" r="7.4"/><circle cx="802.2" cy="479.7" r="7.4"/><circle cx="1913.0" cy="479.7" r="7.4"/><circle cx="802.2" cy="540.8" r="7.4"/><circle cx="1913.0" cy="540.8" r="7.4"/><circle cx="804.6" cy="523.3" r="7.4"/><circle cx="1915.5" cy="523.3" r="7.4"/><circle cx="805.8" cy="427.3" r="7.4"/><circle cx="1916.7" cy="427.3" r="7.4"/><circle cx="808.3" cy="418.5" r="7.4"/><circle cx="1919.1" cy="418.5" r="7.4"/><circle cx="812.0" cy="549.5" r="7.4"/><circle cx="1922.8" cy="549.5" r="7.4"/><circle cx="812.5" cy="619.4" r="7.4"/><circle cx="1923.3" cy="619.4" r="7.4"/><circle cx="813.2" cy="444.7" r="7.4"/><circle cx="1924.0" cy="444.7" r="7.4"/><circle cx="813.2" cy="523.3" r="7.4"/><circle cx="1924.0" cy="523.3" r="7.4"/><circle cx="815.6" cy="436.0" r="7.4"/><circle cx="1926.5" cy="436.0" r="7.4"/><circle cx="816.1" cy="409.8" r="7.4"/><circle cx="1927.0" cy="409.8" r="7.4"/><circle cx="816.9" cy="488.4" r="7.4"/><circle cx="1927.7" cy="488.4" r="7.4"/><circle cx="819.3" cy="505.9" r="7.4"/><circle cx="1930.2" cy="505.9" r="7.4"/><circle cx="819.3" cy="567.0" r="7.4"/><circle cx="1930.2" cy="567.0" r="7.4"/><circle cx="821.8" cy="628.2" r="7.4"/><circle cx="1932.6" cy="628.2" r="7.4"/><circle cx="823.0" cy="470.9" r="7.4"/><circle cx="1933.8" cy="470.9" r="7.4"/><circle cx="824.2" cy="558.3" r="7.4"/><circle cx="1935.1" cy="558.3" r="7.4"/><circle cx="825.4" cy="427.3" r="7.4"/><circle cx="1936.3" cy="427.3" r="7.4"/><circle cx="826.2" cy="593.2" r="7.4"/><circle cx="1937.0" cy="593.2" r="7.4"/><circle cx="827.9" cy="540.8" r="7.4"/><circle cx="1938.7" cy="540.8" r="7.4"/><circle cx="827.9" cy="567.0" r="7.4"/><circle cx="1938.7" cy="567.0" r="7.4"/><circle cx="830.3" cy="523.3" r="7.4"/><circle cx="1941.2" cy="523.3" r="7.4"/><circle cx="831.6" cy="479.7" r="7.4"/><circle cx="1942.4" cy="479.7" r="7.4"/><circle cx="832.1" cy="409.8" r="7.4"/><circle cx="1942.9" cy="409.8" r="7.4"/><circle cx="832.8" cy="427.3" r="7.4"/><circle cx="1943.6" cy="427.3" r="7.4"/><circle cx="834.0" cy="619.4" r="7.4"/><circle cx="1944.9" cy="619.4" r="7.4"/><circle cx="835.2" cy="636.9" r="7.4"/><circle cx="1946.1" cy="636.9" r="7.4"/><circle cx="836.5" cy="514.6" r="7.4"/><circle cx="1947.3" cy="514.6" r="7.4"/><circle cx="837.0" cy="444.7" r="7.4"/><circle cx="1947.8" cy="444.7" r="7.4"/><circle cx="839.7" cy="374.8" r="7.4"/><circle cx="1950.5" cy="374.8" r="7.4"/><circle cx="840.1" cy="549.5" r="7.4"/><circle cx="1951.0" cy="549.5" r="7.4"/><circle cx="841.4" cy="392.3" r="7.4"/><circle cx="1952.2" cy="392.3" r="7.4"/><circle cx="843.8" cy="383.6" r="7.4"/><circle cx="1954.7" cy="383.6" r="7.4"/><circle cx="843.8" cy="532.1" r="7.4"/><circle cx="1954.7" cy="532.1" r="7.4"/><circle cx="845.1" cy="462.2" r="7.4"/><circle cx="1955.9" cy="462.2" r="7.4"/><circle cx="846.3" cy="374.8" r="7.4"/><circle cx="1957.1" cy="374.8" r="7.4"/><circle cx="846.8" cy="409.8" r="7.4"/><circle cx="1957.6" cy="409.8" r="7.4"/><circle cx="847.5" cy="549.5" r="7.4"/><circle cx="1958.3" cy="549.5" r="7.4"/><circle cx="848.7" cy="383.6" r="7.4"/><circle cx="1959.6" cy="383.6" r="7.4"/><circle cx="848.7" cy="401.1" r="7.4"/><circle cx="1959.6" cy="401.1" r="7.4"/><circle cx="848.7" cy="470.9" r="7.4"/><circle cx="1959.6" cy="470.9" r="7.4"/><circle cx="848.7" cy="540.8" r="7.4"/><circle cx="1959.6" cy="540.8" r="7.4"/><circle cx="853.1" cy="436.0" r="7.4"/><circle cx="1964.0" cy="436.0" r="7.4"/><circle cx="853.6" cy="453.5" r="7.4"/><circle cx="1964.5" cy="453.5" r="7.4"/><circle cx="856.1" cy="444.7" r="7.4"/><circle cx="1966.9" cy="444.7" r="7.4"/><circle cx="858.5" cy="558.3" r="7.4"/><circle cx="1969.4" cy="558.3" r="7.4"/><circle cx="861.0" cy="453.5" r="7.4"/><circle cx="1971.8" cy="453.5" r="7.4"/><circle cx="861.0" cy="514.6" r="7.4"/><circle cx="1971.8" cy="514.6" r="7.4"/><circle cx="863.4" cy="523.3" r="7.4"/><circle cx="1974.3" cy="523.3" r="7.4"/><circle cx="863.7" cy="505.9" r="7.4"/><circle cx="1974.5" cy="505.9" r="7.4"/><circle cx="864.7" cy="532.1" r="7.4"/><circle cx="1975.5" cy="532.1" r="7.4"/><circle cx="865.4" cy="374.8" r="7.4"/><circle cx="1976.2" cy="374.8" r="7.4"/><circle cx="867.3" cy="479.7" r="7.4"/><circle cx="1978.2" cy="479.7" r="7.4"/><circle cx="867.3" cy="540.8" r="7.4"/><circle cx="1978.2" cy="540.8" r="7.4"/><circle cx="868.6" cy="549.5" r="7.4"/><circle cx="1979.4" cy="549.5" r="7.4"/><circle cx="872.3" cy="479.7" r="7.4"/><circle cx="1983.1" cy="479.7" r="7.4"/><circle cx="873.2" cy="444.7" r="7.4"/><circle cx="1984.1" cy="444.7" r="7.4"/><circle cx="873.2" cy="505.9" r="7.4"/><circle cx="1984.1" cy="505.9" r="7.4"/><circle cx="874.7" cy="401.1" r="7.4"/><circle cx="1985.6" cy="401.1" r="7.4"/><circle cx="875.7" cy="593.2" r="7.4"/><circle cx="1986.5" cy="593.2" r="7.4"/><circle cx="876.4" cy="357.4" r="7.4"/><circle cx="1987.3" cy="357.4" r="7.4"/><circle cx="878.1" cy="436.0" r="7.4"/><circle cx="1989.0" cy="436.0" r="7.4"/><circle cx="879.4" cy="418.5" r="7.4"/><circle cx="1990.2" cy="418.5" r="7.4"/><circle cx="880.1" cy="392.3" r="7.4"/><circle cx="1991.0" cy="392.3" r="7.4"/><circle cx="881.8" cy="567.0" r="7.4"/><circle cx="1992.7" cy="567.0" r="7.4"/><circle cx="882.1" cy="497.1" r="7.4"/><circle cx="1992.9" cy="497.1" r="7.4"/><circle cx="882.3" cy="243.8" r="7.4"/><circle cx="1993.2" cy="243.8" r="7.4"/><circle cx="884.3" cy="593.2" r="7.4"/><circle cx="1995.1" cy="593.2" r="7.4"/><circle cx="885.5" cy="401.1" r="7.4"/><circle cx="1996.3" cy="401.1" r="7.4"/><circle cx="885.5" cy="479.7" r="7.4"/><circle cx="1996.3" cy="479.7" r="7.4"/><circle cx="890.4" cy="540.8" r="7.4"/><circle cx="2001.2" cy="540.8" r="7.4"/><circle cx="890.4" cy="584.5" r="7.4"/><circle cx="2001.2" cy="584.5" r="7.4"/><circle cx="891.6" cy="523.3" r="7.4"/><circle cx="2002.5" cy="523.3" r="7.4"/><circle cx="894.1" cy="549.5" r="7.4"/><circle cx="2004.9" cy="549.5" r="7.4"/><circle cx="897.3" cy="584.5" r="7.4"/><circle cx="2008.1" cy="584.5" r="7.4"/><circle cx="898.0" cy="505.9" r="7.4"/><circle cx="2008.8" cy="505.9" r="7.4"/><circle cx="898.0" cy="532.1" r="7.4"/><circle cx="2008.8" cy="532.1" r="7.4"/><circle cx="899.0" cy="462.2" r="7.4"/><circle cx="2009.8" cy="462.2" r="7.4"/><circle cx="901.4" cy="470.9" r="7.4"/><circle cx="2012.3" cy="470.9" r="7.4"/><circle cx="901.7" cy="514.6" r="7.4"/><circle cx="2012.5" cy="514.6" r="7.4"/><circle cx="905.1" cy="593.2" r="7.4"/><circle cx="2015.9" cy="593.2" r="7.4"/><circle cx="905.3" cy="497.1" r="7.4"/><circle cx="2016.2" cy="497.1" r="7.4"/><circle cx="906.3" cy="427.3" r="7.4"/><circle cx="2017.2" cy="427.3" r="7.4"/><circle cx="907.2" cy="453.5" r="7.4"/><circle cx="2018.0" cy="453.5" r="7.4"/><circle cx="908.3" cy="610.7" r="7.4"/><circle cx="2019.1" cy="610.7" r="7.4"/><circle cx="908.8" cy="436.0" r="7.4"/><circle cx="2019.6" cy="436.0" r="7.4"/><circle cx="909.0" cy="505.9" r="7.4"/><circle cx="2019.9" cy="505.9" r="7.4"/><circle cx="910.3" cy="523.3" r="7.4"/><circle cx="2021.1" cy="523.3" r="7.4"/><circle cx="912.4" cy="540.8" r="7.4"/><circle cx="2023.3" cy="540.8" r="7.4"/><circle cx="912.4" cy="636.9" r="7.4"/><circle cx="2023.3" cy="636.9" r="7.4"/><circle cx="913.7" cy="374.8" r="7.4"/><circle cx="2024.5" cy="374.8" r="7.4"/><circle cx="914.4" cy="575.8" r="7.4"/><circle cx="2025.3" cy="575.8" r="7.4"/><circle cx="916.1" cy="645.6" r="7.4"/><circle cx="2027.0" cy="645.6" r="7.4"/><circle cx="917.6" cy="514.6" r="7.4"/><circle cx="2028.4" cy="514.6" r="7.4"/><circle cx="919.1" cy="409.8" r="7.4"/><circle cx="2029.9" cy="409.8" r="7.4"/><circle cx="919.8" cy="505.9" r="7.4"/><circle cx="2030.7" cy="505.9" r="7.4"/><circle cx="919.8" cy="636.9" r="7.4"/><circle cx="2030.7" cy="636.9" r="7.4"/><circle cx="921.0" cy="357.4" r="7.4"/><circle cx="2031.9" cy="357.4" r="7.4"/><circle cx="921.0" cy="523.3" r="7.4"/><circle cx="2031.9" cy="523.3" r="7.4"/><circle cx="921.0" cy="593.2" r="7.4"/><circle cx="2031.9" cy="593.2" r="7.4"/><circle cx="922.3" cy="549.5" r="7.4"/><circle cx="2033.1" cy="549.5" r="7.4"/><circle cx="923.5" cy="331.2" r="7.4"/><circle cx="2034.3" cy="331.2" r="7.4"/><circle cx="924.7" cy="374.8" r="7.4"/><circle cx="2035.6" cy="374.8" r="7.4"/><circle cx="924.7" cy="470.9" r="7.4"/><circle cx="2035.6" cy="470.9" r="7.4"/><circle cx="926.2" cy="514.6" r="7.4"/><circle cx="2037.0" cy="514.6" r="7.4"/><circle cx="927.4" cy="505.9" r="7.4"/><circle cx="2038.3" cy="505.9" r="7.4"/><circle cx="928.6" cy="401.1" r="7.4"/><circle cx="2039.5" cy="401.1" r="7.4"/><circle cx="929.6" cy="436.0" r="7.4"/><circle cx="2040.5" cy="436.0" r="7.4"/><circle cx="929.6" cy="453.5" r="7.4"/><circle cx="2040.5" cy="453.5" r="7.4"/><circle cx="930.8" cy="348.6" r="7.4"/><circle cx="2041.7" cy="348.6" r="7.4"/><circle cx="930.8" cy="383.6" r="7.4"/><circle cx="2041.7" cy="383.6" r="7.4"/><circle cx="932.1" cy="331.2" r="7.4"/><circle cx="2042.9" cy="331.2" r="7.4"/><circle cx="933.5" cy="444.7" r="7.4"/><circle cx="2044.4" cy="444.7" r="7.4"/><circle cx="934.5" cy="427.3" r="7.4"/><circle cx="2045.4" cy="427.3" r="7.4"/><circle cx="934.5" cy="549.5" r="7.4"/><circle cx="2045.4" cy="549.5" r="7.4"/><circle cx="936.0" cy="497.1" r="7.4"/><circle cx="2046.8" cy="497.1" r="7.4"/><circle cx="937.0" cy="366.1" r="7.4"/><circle cx="2047.8" cy="366.1" r="7.4"/><circle cx="938.2" cy="401.1" r="7.4"/><circle cx="2049.0" cy="401.1" r="7.4"/><circle cx="938.2" cy="436.0" r="7.4"/><circle cx="2049.0" cy="436.0" r="7.4"/><circle cx="938.2" cy="532.1" r="7.4"/><circle cx="2049.0" cy="532.1" r="7.4"/><circle cx="939.4" cy="584.5" r="7.4"/><circle cx="2050.3" cy="584.5" r="7.4"/><circle cx="939.4" cy="593.2" r="7.4"/><circle cx="2050.3" cy="593.2" r="7.4"/><circle cx="939.4" cy="619.4" r="7.4"/><circle cx="2050.3" cy="619.4" r="7.4"/><circle cx="940.6" cy="418.5" r="7.4"/><circle cx="2051.5" cy="418.5" r="7.4"/><circle cx="943.1" cy="462.2" r="7.4"/><circle cx="2053.9" cy="462.2" r="7.4"/><circle cx="944.3" cy="619.4" r="7.4"/><circle cx="2055.2" cy="619.4" r="7.4"/><circle cx="944.3" cy="654.4" r="7.4"/><circle cx="2055.2" cy="654.4" r="7.4"/><circle cx="945.5" cy="593.2" r="7.4"/><circle cx="2056.4" cy="593.2" r="7.4"/><circle cx="945.8" cy="409.8" r="7.4"/><circle cx="2056.6" cy="409.8" r="7.4"/><circle cx="948.0" cy="567.0" r="7.4"/><circle cx="2058.8" cy="567.0" r="7.4"/><circle cx="949.2" cy="505.9" r="7.4"/><circle cx="2060.1" cy="505.9" r="7.4"/><circle cx="949.2" cy="645.6" r="7.4"/><circle cx="2060.1" cy="645.6" r="7.4"/><circle cx="950.4" cy="374.8" r="7.4"/><circle cx="2061.3" cy="374.8" r="7.4"/><circle cx="950.4" cy="549.5" r="7.4"/><circle cx="2061.3" cy="549.5" r="7.4"/><circle cx="952.9" cy="366.1" r="7.4"/><circle cx="2063.7" cy="366.1" r="7.4"/><circle cx="952.9" cy="575.8" r="7.4"/><circle cx="2063.7" cy="575.8" r="7.4"/><circle cx="954.1" cy="514.6" r="7.4"/><circle cx="2065.0" cy="514.6" r="7.4"/><circle cx="954.1" cy="523.3" r="7.4"/><circle cx="2065.0" cy="523.3" r="7.4"/><circle cx="955.3" cy="252.6" r="7.4"/><circle cx="2066.2" cy="252.6" r="7.4"/><circle cx="955.3" cy="436.0" r="7.4"/><circle cx="2066.2" cy="436.0" r="7.4"/><circle cx="956.8" cy="497.1" r="7.4"/><circle cx="2067.7" cy="497.1" r="7.4"/><circle cx="957.3" cy="287.5" r="7.4"/><circle cx="2068.2" cy="287.5" r="7.4"/><circle cx="959.0" cy="453.5" r="7.4"/><circle cx="2069.9" cy="453.5" r="7.4"/><circle cx="959.0" cy="505.9" r="7.4"/><circle cx="2069.9" cy="505.9" r="7.4"/><circle cx="960.5" cy="462.2" r="7.4"/><circle cx="2071.3" cy="462.2" r="7.4"/><circle cx="963.4" cy="602.0" r="7.4"/><circle cx="2074.3" cy="602.0" r="7.4"/><circle cx="963.9" cy="366.1" r="7.4"/><circle cx="2074.8" cy="366.1" r="7.4"/><circle cx="963.9" cy="523.3" r="7.4"/><circle cx="2074.8" cy="523.3" r="7.4"/><circle cx="965.1" cy="278.8" r="7.4"/><circle cx="2076.0" cy="278.8" r="7.4"/><circle cx="965.1" cy="418.5" r="7.4"/><circle cx="2076.0" cy="418.5" r="7.4"/><circle cx="966.4" cy="479.7" r="7.4"/><circle cx="2077.2" cy="479.7" r="7.4"/><circle cx="966.4" cy="567.0" r="7.4"/><circle cx="2077.2" cy="567.0" r="7.4"/><circle cx="967.6" cy="427.3" r="7.4"/><circle cx="2078.5" cy="427.3" r="7.4"/><circle cx="967.8" cy="462.2" r="7.4"/><circle cx="2078.7" cy="462.2" r="7.4"/><circle cx="969.3" cy="374.8" r="7.4"/><circle cx="2080.2" cy="374.8" r="7.4"/><circle cx="970.0" cy="558.3" r="7.4"/><circle cx="2080.9" cy="558.3" r="7.4"/><circle cx="972.0" cy="409.8" r="7.4"/><circle cx="2082.9" cy="409.8" r="7.4"/><circle cx="973.7" cy="436.0" r="7.4"/><circle cx="2084.6" cy="436.0" r="7.4"/><circle cx="974.6" cy="549.5" r="7.4"/><circle cx="2085.4" cy="549.5" r="7.4"/><circle cx="974.9" cy="523.3" r="7.4"/><circle cx="2085.8" cy="523.3" r="7.4"/><circle cx="976.2" cy="462.2" r="7.4"/><circle cx="2087.0" cy="462.2" r="7.4"/><circle cx="977.6" cy="505.9" r="7.4"/><circle cx="2088.5" cy="505.9" r="7.4"/><circle cx="979.9" cy="567.0" r="7.4"/><circle cx="2090.7" cy="567.0" r="7.4"/><circle cx="981.1" cy="444.7" r="7.4"/><circle cx="2091.9" cy="444.7" r="7.4"/><circle cx="982.5" cy="497.1" r="7.4"/><circle cx="2093.4" cy="497.1" r="7.4"/><circle cx="984.4" cy="418.5" r="7.4"/><circle cx="2095.2" cy="418.5" r="7.4"/><circle cx="986.0" cy="348.6" r="7.4"/><circle cx="2096.8" cy="348.6" r="7.4"/><circle cx="986.0" cy="470.9" r="7.4"/><circle cx="2096.8" cy="470.9" r="7.4"/><circle cx="986.0" cy="514.6" r="7.4"/><circle cx="2096.8" cy="514.6" r="7.4"/><circle cx="987.5" cy="505.9" r="7.4"/><circle cx="2098.3" cy="505.9" r="7.4"/><circle cx="987.5" cy="532.1" r="7.4"/><circle cx="2098.3" cy="532.1" r="7.4"/><circle cx="988.4" cy="392.3" r="7.4"/><circle cx="2099.3" cy="392.3" r="7.4"/><circle cx="988.4" cy="567.0" r="7.4"/><circle cx="2099.3" cy="567.0" r="7.4"/><circle cx="989.7" cy="357.4" r="7.4"/><circle cx="2100.5" cy="357.4" r="7.4"/><circle cx="989.7" cy="549.5" r="7.4"/><circle cx="2100.5" cy="549.5" r="7.4"/><circle cx="992.1" cy="453.5" r="7.4"/><circle cx="2103.0" cy="453.5" r="7.4"/><circle cx="992.1" cy="540.8" r="7.4"/><circle cx="2103.0" cy="540.8" r="7.4"/><circle cx="992.4" cy="462.2" r="7.4"/><circle cx="2103.2" cy="462.2" r="7.4"/><circle cx="994.2" cy="436.0" r="7.4"/><circle cx="2105.0" cy="436.0" r="7.4"/><circle cx="998.5" cy="505.9" r="7.4"/><circle cx="2109.3" cy="505.9" r="7.4"/><circle cx="999.7" cy="497.1" r="7.4"/><circle cx="2110.6" cy="497.1" r="7.4"/><circle cx="1000.7" cy="409.8" r="7.4"/><circle cx="2111.5" cy="409.8" r="7.4"/><circle cx="1000.7" cy="549.5" r="7.4"/><circle cx="2111.5" cy="549.5" r="7.4"/><circle cx="1000.9" cy="523.3" r="7.4"/><circle cx="2111.8" cy="523.3" r="7.4"/><circle cx="1001.9" cy="575.8" r="7.4"/><circle cx="2112.8" cy="575.8" r="7.4"/><circle cx="1003.1" cy="444.7" r="7.4"/><circle cx="2114.0" cy="444.7" r="7.4"/><circle cx="1004.6" cy="418.5" r="7.4"/><circle cx="2115.5" cy="418.5" r="7.4"/><circle cx="1005.1" cy="357.4" r="7.4"/><circle cx="2115.9" cy="357.4" r="7.4"/><circle cx="1005.6" cy="436.0" r="7.4"/><circle cx="2116.4" cy="436.0" r="7.4"/><circle cx="1005.8" cy="505.9" r="7.4"/><circle cx="2116.7" cy="505.9" r="7.4"/><circle cx="1008.0" cy="462.2" r="7.4"/><circle cx="2118.9" cy="462.2" r="7.4"/><circle cx="1008.3" cy="532.1" r="7.4"/><circle cx="2119.1" cy="532.1" r="7.4"/><circle cx="1010.7" cy="427.3" r="7.4"/><circle cx="2121.6" cy="427.3" r="7.4"/><circle cx="1010.7" cy="497.1" r="7.4"/><circle cx="2121.6" cy="497.1" r="7.4"/><circle cx="1012.0" cy="523.3" r="7.4"/><circle cx="2122.8" cy="523.3" r="7.4"/><circle cx="1013.2" cy="436.0" r="7.4"/><circle cx="2124.0" cy="436.0" r="7.4"/><circle cx="1014.2" cy="374.8" r="7.4"/><circle cx="2125.0" cy="374.8" r="7.4"/><circle cx="1014.2" cy="383.6" r="7.4"/><circle cx="2125.0" cy="383.6" r="7.4"/><circle cx="1016.6" cy="444.7" r="7.4"/><circle cx="2127.5" cy="444.7" r="7.4"/><circle cx="1016.9" cy="514.6" r="7.4"/><circle cx="2127.7" cy="514.6" r="7.4"/><circle cx="1017.4" cy="348.6" r="7.4"/><circle cx="2128.2" cy="348.6" r="7.4"/><circle cx="1017.8" cy="470.9" r="7.4"/><circle cx="2128.7" cy="470.9" r="7.4"/><circle cx="1019.1" cy="409.8" r="7.4"/><circle cx="2129.9" cy="409.8" r="7.4"/><circle cx="1021.8" cy="401.1" r="7.4"/><circle cx="2132.6" cy="401.1" r="7.4"/><circle cx="1022.7" cy="383.6" r="7.4"/><circle cx="2133.6" cy="383.6" r="7.4"/><circle cx="1022.7" cy="453.5" r="7.4"/><circle cx="2133.6" cy="453.5" r="7.4"/><circle cx="1023.0" cy="462.2" r="7.4"/><circle cx="2133.8" cy="462.2" r="7.4"/><circle cx="1024.2" cy="427.3" r="7.4"/><circle cx="2135.1" cy="427.3" r="7.4"/><circle cx="1026.4" cy="549.5" r="7.4"/><circle cx="2137.3" cy="549.5" r="7.4"/><circle cx="1026.4" cy="593.2" r="7.4"/><circle cx="2137.3" cy="593.2" r="7.4"/><circle cx="1026.4" cy="602.0" r="7.4"/><circle cx="2137.3" cy="602.0" r="7.4"/><circle cx="1026.7" cy="497.1" r="7.4"/><circle cx="2137.5" cy="497.1" r="7.4"/><circle cx="1028.9" cy="436.0" r="7.4"/><circle cx="2139.7" cy="436.0" r="7.4"/><circle cx="1031.3" cy="540.8" r="7.4"/><circle cx="2142.2" cy="540.8" r="7.4"/><circle cx="1031.6" cy="505.9" r="7.4"/><circle cx="2142.4" cy="505.9" r="7.4"/><circle cx="1032.5" cy="383.6" r="7.4"/><circle cx="2143.4" cy="383.6" r="7.4"/><circle cx="1032.5" cy="549.5" r="7.4"/><circle cx="2143.4" cy="549.5" r="7.4"/><circle cx="1033.8" cy="523.3" r="7.4"/><circle cx="2144.6" cy="523.3" r="7.4"/><circle cx="1036.5" cy="418.5" r="7.4"/><circle cx="2147.3" cy="418.5" r="7.4"/><circle cx="1037.5" cy="409.8" r="7.4"/><circle cx="2148.3" cy="409.8" r="7.4"/><circle cx="1039.9" cy="374.8" r="7.4"/><circle cx="2150.7" cy="374.8" r="7.4"/><circle cx="1039.9" cy="453.5" r="7.4"/><circle cx="2150.7" cy="453.5" r="7.4"/><circle cx="1042.4" cy="401.1" r="7.4"/><circle cx="2153.2" cy="401.1" r="7.4"/><circle cx="1042.4" cy="427.3" r="7.4"/><circle cx="2153.2" cy="427.3" r="7.4"/><circle cx="1042.4" cy="436.0" r="7.4"/><circle cx="2153.2" cy="436.0" r="7.4"/><circle cx="1042.4" cy="514.6" r="7.4"/><circle cx="2153.2" cy="514.6" r="7.4"/><circle cx="1043.6" cy="331.2" r="7.4"/><circle cx="2154.4" cy="331.2" r="7.4"/><circle cx="1043.6" cy="392.3" r="7.4"/><circle cx="2154.4" cy="392.3" r="7.4"/><circle cx="1044.8" cy="366.1" r="7.4"/><circle cx="2155.7" cy="366.1" r="7.4"/><circle cx="1044.9" cy="497.1" r="7.4"/><circle cx="2155.7" cy="497.1" r="7.4"/><circle cx="1047.3" cy="409.8" r="7.4"/><circle cx="2158.1" cy="409.8" r="7.4"/><circle cx="1047.4" cy="488.4" r="7.4"/><circle cx="2158.2" cy="488.4" r="7.4"/><circle cx="1047.5" cy="418.5" r="7.4"/><circle cx="2158.3" cy="418.5" r="7.4"/><circle cx="1051.0" cy="505.9" r="7.4"/><circle cx="2161.9" cy="505.9" r="7.4"/><circle cx="1051.0" cy="523.3" r="7.4"/><circle cx="2161.9" cy="523.3" r="7.4"/><circle cx="1051.2" cy="401.1" r="7.4"/><circle cx="2162.0" cy="401.1" r="7.4"/><circle cx="1052.4" cy="462.2" r="7.4"/><circle cx="2163.3" cy="462.2" r="7.4"/><circle cx="1054.6" cy="392.3" r="7.4"/><circle cx="2165.5" cy="392.3" r="7.4"/><circle cx="1054.7" cy="514.6" r="7.4"/><circle cx="2165.6" cy="514.6" r="7.4"/><circle cx="1054.8" cy="532.1" r="7.4"/><circle cx="2165.7" cy="532.1" r="7.4"/><circle cx="1057.1" cy="357.4" r="7.4"/><circle cx="2167.9" cy="357.4" r="7.4"/><circle cx="1057.2" cy="497.1" r="7.4"/><circle cx="2168.0" cy="497.1" r="7.4"/><circle cx="1058.3" cy="427.3" r="7.4"/><circle cx="2169.1" cy="427.3" r="7.4"/><circle cx="1058.4" cy="488.4" r="7.4"/><circle cx="2169.2" cy="488.4" r="7.4"/><circle cx="1058.5" cy="453.5" r="7.4"/><circle cx="2169.4" cy="453.5" r="7.4"/><circle cx="1058.5" cy="540.8" r="7.4"/><circle cx="2169.4" cy="540.8" r="7.4"/><circle cx="1063.3" cy="514.6" r="7.4"/><circle cx="2174.1" cy="514.6" r="7.4"/><circle cx="1063.7" cy="409.8" r="7.4"/><circle cx="2174.5" cy="409.8" r="7.4"/><circle cx="1067.0" cy="488.4" r="7.4"/><circle cx="2177.8" cy="488.4" r="7.4"/><circle cx="1067.4" cy="374.8" r="7.4"/><circle cx="2178.2" cy="374.8" r="7.4"/><circle cx="1069.8" cy="418.5" r="7.4"/><circle cx="2180.7" cy="418.5" r="7.4"/><circle cx="1070.6" cy="444.7" r="7.4"/><circle cx="2181.5" cy="444.7" r="7.4"/><circle cx="1070.6" cy="532.1" r="7.4"/><circle cx="2181.5" cy="532.1" r="7.4"/><circle cx="1071.9" cy="505.9" r="7.4"/><circle cx="2182.7" cy="505.9" r="7.4"/><circle cx="1074.7" cy="427.3" r="7.4"/><circle cx="2185.6" cy="427.3" r="7.4"/><circle cx="1075.5" cy="462.2" r="7.4"/><circle cx="2186.4" cy="462.2" r="7.4"/><circle cx="1076.8" cy="497.1" r="7.4"/><circle cx="2187.6" cy="497.1" r="7.4"/><circle cx="1077.2" cy="383.6" r="7.4"/><circle cx="2188.0" cy="383.6" r="7.4"/><circle cx="1078.4" cy="392.3" r="7.4"/><circle cx="2189.2" cy="392.3" r="7.4"/><circle cx="1078.4" cy="418.5" r="7.4"/><circle cx="2189.2" cy="418.5" r="7.4"/><circle cx="1080.3" cy="575.8" r="7.4"/><circle cx="2191.2" cy="575.8" r="7.4"/><circle cx="1081.7" cy="488.4" r="7.4"/><circle cx="2192.5" cy="488.4" r="7.4"/><circle cx="1082.6" cy="252.6" r="7.4"/><circle cx="2193.4" cy="252.6" r="7.4"/><circle cx="1083.3" cy="401.1" r="7.4"/><circle cx="2194.1" cy="401.1" r="7.4"/><circle cx="1084.5" cy="366.1" r="7.4"/><circle cx="2195.4" cy="366.1" r="7.4"/><circle cx="1085.3" cy="505.9" r="7.4"/><circle cx="2196.2" cy="505.9" r="7.4"/><circle cx="1086.6" cy="497.1" r="7.4"/><circle cx="2197.4" cy="497.1" r="7.4"/><circle cx="1086.6" cy="514.6" r="7.4"/><circle cx="2197.4" cy="514.6" r="7.4"/><circle cx="1087.0" cy="374.8" r="7.4"/><circle cx="2197.8" cy="374.8" r="7.4"/><circle cx="1088.2" cy="427.3" r="7.4"/><circle cx="2199.0" cy="427.3" r="7.4"/><circle cx="1089.0" cy="523.3" r="7.4"/><circle cx="2199.9" cy="523.3" r="7.4"/><circle cx="1091.5" cy="549.5" r="7.4"/><circle cx="2202.3" cy="549.5" r="7.4"/><circle cx="1091.9" cy="366.1" r="7.4"/><circle cx="2202.7" cy="366.1" r="7.4"/><circle cx="1093.9" cy="540.8" r="7.4"/><circle cx="2204.8" cy="540.8" r="7.4"/><circle cx="1093.9" cy="567.0" r="7.4"/><circle cx="2204.8" cy="567.0" r="7.4"/><circle cx="1095.2" cy="514.6" r="7.4"/><circle cx="2206.0" cy="514.6" r="7.4"/><circle cx="1095.5" cy="427.3" r="7.4"/><circle cx="2206.4" cy="427.3" r="7.4"/><circle cx="1096.8" cy="575.8" r="7.4"/><circle cx="2207.6" cy="575.8" r="7.4"/><circle cx="1096.8" cy="584.5" r="7.4"/><circle cx="2207.6" cy="584.5" r="7.4"/><circle cx="1097.6" cy="488.4" r="7.4"/><circle cx="2208.4" cy="488.4" r="7.4"/><circle cx="1098.8" cy="497.1" r="7.4"/><circle cx="2209.7" cy="497.1" r="7.4"/><circle cx="1098.8" cy="532.1" r="7.4"/><circle cx="2209.7" cy="532.1" r="7.4"/><circle cx="1098.8" cy="558.3" r="7.4"/><circle cx="2209.7" cy="558.3" r="7.4"/><circle cx="1099.2" cy="409.8" r="7.4"/><circle cx="2210.1" cy="409.8" r="7.4"/><circle cx="1100.4" cy="549.5" r="7.4"/><circle cx="2211.3" cy="549.5" r="7.4"/><circle cx="1102.5" cy="453.5" r="7.4"/><circle cx="2213.4" cy="453.5" r="7.4"/><circle cx="1102.9" cy="593.2" r="7.4"/><circle cx="2213.7" cy="593.2" r="7.4"/><circle cx="1103.7" cy="505.9" r="7.4"/><circle cx="2214.6" cy="505.9" r="7.4"/><circle cx="1103.7" cy="540.8" r="7.4"/><circle cx="2214.6" cy="540.8" r="7.4"/><circle cx="1103.7" cy="567.0" r="7.4"/><circle cx="2214.6" cy="567.0" r="7.4"/><circle cx="1103.7" cy="602.0" r="7.4"/><circle cx="2214.6" cy="602.0" r="7.4"/><circle cx="1104.9" cy="514.6" r="7.4"/><circle cx="2215.8" cy="514.6" r="7.4"/><circle cx="1105.3" cy="628.2" r="7.4"/><circle cx="2216.2" cy="628.2" r="7.4"/><circle cx="1106.2" cy="584.5" r="7.4"/><circle cx="2217.0" cy="584.5" r="7.4"/><circle cx="1108.6" cy="497.1" r="7.4"/><circle cx="2219.5" cy="497.1" r="7.4"/><circle cx="1108.6" cy="558.3" r="7.4"/><circle cx="2219.5" cy="558.3" r="7.4"/><circle cx="1108.6" cy="575.8" r="7.4"/><circle cx="2219.5" cy="575.8" r="7.4"/><circle cx="1110.2" cy="313.7" r="7.4"/><circle cx="2221.1" cy="313.7" r="7.4"/><circle cx="1110.2" cy="593.2" r="7.4"/><circle cx="2221.1" cy="593.2" r="7.4"/><circle cx="1110.2" cy="628.2" r="7.4"/><circle cx="2221.1" cy="628.2" r="7.4"/><circle cx="1111.5" cy="436.0" r="7.4"/><circle cx="2222.3" cy="436.0" r="7.4"/><circle cx="1112.2" cy="366.1" r="7.4"/><circle cx="2223.1" cy="366.1" r="7.4"/><circle cx="1112.7" cy="567.0" r="7.4"/><circle cx="2223.5" cy="567.0" r="7.4"/><circle cx="1113.5" cy="514.6" r="7.4"/><circle cx="2224.4" cy="514.6" r="7.4"/><circle cx="1113.5" cy="523.3" r="7.4"/><circle cx="2224.4" cy="523.3" r="7.4"/><circle cx="1113.9" cy="453.5" r="7.4"/><circle cx="2224.8" cy="453.5" r="7.4"/><circle cx="1115.1" cy="427.3" r="7.4"/><circle cx="2226.0" cy="427.3" r="7.4"/><circle cx="1116.0" cy="540.8" r="7.4"/><circle cx="2226.8" cy="540.8" r="7.4"/><circle cx="1118.3" cy="610.7" r="7.4"/><circle cx="2229.2" cy="610.7" r="7.4"/><circle cx="1118.4" cy="505.9" r="7.4"/><circle cx="2229.3" cy="505.9" r="7.4"/><circle cx="1120.0" cy="453.5" r="7.4"/><circle cx="2230.9" cy="453.5" r="7.4"/><circle cx="1120.9" cy="488.4" r="7.4"/><circle cx="2231.7" cy="488.4" r="7.4"/><circle cx="1121.3" cy="427.3" r="7.4"/><circle cx="2232.1" cy="427.3" r="7.4"/><circle cx="1122.1" cy="584.5" r="7.4"/><circle cx="2233.0" cy="584.5" r="7.4"/><circle cx="1123.2" cy="374.8" r="7.4"/><circle cx="2234.1" cy="374.8" r="7.4"/><circle cx="1123.3" cy="497.1" r="7.4"/><circle cx="2234.2" cy="497.1" r="7.4"/><circle cx="1124.6" cy="514.6" r="7.4"/><circle cx="2235.4" cy="514.6" r="7.4"/><circle cx="1125.4" cy="628.2" r="7.4"/><circle cx="2236.3" cy="628.2" r="7.4"/><circle cx="1126.2" cy="313.7" r="7.4"/><circle cx="2237.0" cy="313.7" r="7.4"/><circle cx="1127.0" cy="549.5" r="7.4"/><circle cx="2237.9" cy="549.5" r="7.4"/><circle cx="1128.2" cy="505.9" r="7.4"/><circle cx="2239.1" cy="505.9" r="7.4"/><circle cx="1130.7" cy="488.4" r="7.4"/><circle cx="2241.5" cy="488.4" r="7.4"/><circle cx="1130.7" cy="523.3" r="7.4"/><circle cx="2241.5" cy="523.3" r="7.4"/><circle cx="1130.7" cy="532.1" r="7.4"/><circle cx="2241.5" cy="532.1" r="7.4"/><circle cx="1131.9" cy="453.5" r="7.4"/><circle cx="2242.8" cy="453.5" r="7.4"/><circle cx="1131.9" cy="558.3" r="7.4"/><circle cx="2242.8" cy="558.3" r="7.4"/><circle cx="1132.3" cy="401.1" r="7.4"/><circle cx="2243.2" cy="401.1" r="7.4"/><circle cx="1133.0" cy="313.7" r="7.4"/><circle cx="2243.9" cy="313.7" r="7.4"/><circle cx="1133.1" cy="497.1" r="7.4"/><circle cx="2244.0" cy="497.1" r="7.4"/><circle cx="1133.5" cy="584.5" r="7.4"/><circle cx="2244.4" cy="584.5" r="7.4"/><circle cx="1135.5" cy="296.2" r="7.4"/><circle cx="2246.3" cy="296.2" r="7.4"/><circle cx="1136.0" cy="549.5" r="7.4"/><circle cx="2246.8" cy="549.5" r="7.4"/><circle cx="1136.8" cy="514.6" r="7.4"/><circle cx="2247.7" cy="514.6" r="7.4"/><circle cx="1136.8" cy="540.8" r="7.4"/><circle cx="2247.7" cy="540.8" r="7.4"/><circle cx="1138.0" cy="462.2" r="7.4"/><circle cx="2248.9" cy="462.2" r="7.4"/><circle cx="1139.7" cy="584.5" r="7.4"/><circle cx="2250.5" cy="584.5" r="7.4"/><circle cx="1140.5" cy="532.1" r="7.4"/><circle cx="2251.3" cy="532.1" r="7.4"/><circle cx="1140.9" cy="357.4" r="7.4"/><circle cx="2251.7" cy="357.4" r="7.4"/><circle cx="1140.9" cy="558.3" r="7.4"/><circle cx="2251.7" cy="558.3" r="7.4"/><circle cx="1141.4" cy="575.8" r="7.4"/><circle cx="2252.2" cy="575.8" r="7.4"/><circle cx="1141.7" cy="488.4" r="7.4"/><circle cx="2252.6" cy="488.4" r="7.4"/><circle cx="1144.1" cy="348.6" r="7.4"/><circle cx="2254.9" cy="348.6" r="7.4"/><circle cx="1144.2" cy="497.1" r="7.4"/><circle cx="2255.0" cy="497.1" r="7.4"/><circle cx="1144.2" cy="514.6" r="7.4"/><circle cx="2255.0" cy="514.6" r="7.4"/><circle cx="1144.6" cy="549.5" r="7.4"/><circle cx="2255.4" cy="549.5" r="7.4"/><circle cx="1146.6" cy="540.8" r="7.4"/><circle cx="2257.5" cy="540.8" r="7.4"/><circle cx="1147.0" cy="593.2" r="7.4"/><circle cx="2257.9" cy="593.2" r="7.4"/><circle cx="1149.1" cy="505.9" r="7.4"/><circle cx="2259.9" cy="505.9" r="7.4"/><circle cx="1149.1" cy="532.1" r="7.4"/><circle cx="2259.9" cy="532.1" r="7.4"/><circle cx="1150.2" cy="427.3" r="7.4"/><circle cx="2261.0" cy="427.3" r="7.4"/><circle cx="1150.3" cy="444.7" r="7.4"/><circle cx="2261.1" cy="444.7" r="7.4"/><circle cx="1150.3" cy="488.4" r="7.4"/><circle cx="2261.1" cy="488.4" r="7.4"/><circle cx="1151.9" cy="366.1" r="7.4"/><circle cx="2262.8" cy="366.1" r="7.4"/><circle cx="1152.7" cy="453.5" r="7.4"/><circle cx="2263.6" cy="453.5" r="7.4"/><circle cx="1152.7" cy="523.3" r="7.4"/><circle cx="2263.6" cy="523.3" r="7.4"/><circle cx="1155.1" cy="383.6" r="7.4"/><circle cx="2265.9" cy="383.6" r="7.4"/><circle cx="1156.4" cy="497.1" r="7.4"/><circle cx="2267.3" cy="497.1" r="7.4"/><circle cx="1156.8" cy="374.8" r="7.4"/><circle cx="2267.7" cy="374.8" r="7.4"/><circle cx="1157.6" cy="514.6" r="7.4"/><circle cx="2268.5" cy="514.6" r="7.4"/><circle cx="1159.3" cy="444.7" r="7.4"/><circle cx="2270.1" cy="444.7" r="7.4"/><circle cx="1160.1" cy="505.9" r="7.4"/><circle cx="2271.0" cy="505.9" r="7.4"/><circle cx="1161.7" cy="366.1" r="7.4"/><circle cx="2272.6" cy="366.1" r="7.4"/><circle cx="1162.9" cy="313.7" r="7.4"/><circle cx="2273.8" cy="313.7" r="7.4"/><circle cx="1165.0" cy="523.3" r="7.4"/><circle cx="2275.9" cy="523.3" r="7.4"/><circle cx="1165.4" cy="462.2" r="7.4"/><circle cx="2276.2" cy="462.2" r="7.4"/><circle cx="1167.4" cy="488.4" r="7.4"/><circle cx="2278.3" cy="488.4" r="7.4"/><circle cx="1167.8" cy="418.5" r="7.4"/><circle cx="2278.7" cy="418.5" r="7.4"/><circle cx="1167.8" cy="444.7" r="7.4"/><circle cx="2278.7" cy="444.7" r="7.4"/><circle cx="1172.0" cy="401.1" r="7.4"/><circle cx="2282.9" cy="401.1" r="7.4"/><circle cx="1172.7" cy="436.0" r="7.4"/><circle cx="2283.6" cy="436.0" r="7.4"/><circle cx="1174.0" cy="462.2" r="7.4"/><circle cx="2284.8" cy="462.2" r="7.4"/><circle cx="1174.0" cy="628.2" r="7.4"/><circle cx="2284.8" cy="628.2" r="7.4"/><circle cx="1174.8" cy="453.5" r="7.4"/><circle cx="2285.6" cy="453.5" r="7.4"/><circle cx="1178.9" cy="348.6" r="7.4"/><circle cx="2289.7" cy="348.6" r="7.4"/><circle cx="1179.1" cy="532.1" r="7.4"/><circle cx="2289.9" cy="532.1" r="7.4"/><circle cx="1180.1" cy="497.1" r="7.4"/><circle cx="2290.9" cy="497.1" r="7.4"/><circle cx="1180.9" cy="505.9" r="7.4"/><circle cx="2291.8" cy="505.9" r="7.4"/><circle cx="1181.3" cy="409.8" r="7.4"/><circle cx="2292.2" cy="409.8" r="7.4"/><circle cx="1181.3" cy="436.0" r="7.4"/><circle cx="2292.2" cy="436.0" r="7.4"/><circle cx="1181.3" cy="619.4" r="7.4"/><circle cx="2292.2" cy="619.4" r="7.4"/><circle cx="1182.6" cy="418.5" r="7.4"/><circle cx="2293.4" cy="418.5" r="7.4"/><circle cx="1182.6" cy="453.5" r="7.4"/><circle cx="2293.4" cy="453.5" r="7.4"/><circle cx="1182.6" cy="514.6" r="7.4"/><circle cx="2293.4" cy="514.6" r="7.4"/><circle cx="1187.5" cy="348.6" r="7.4"/><circle cx="2298.3" cy="348.6" r="7.4"/><circle cx="1188.7" cy="374.8" r="7.4"/><circle cx="2299.5" cy="374.8" r="7.4"/><circle cx="1189.9" cy="418.5" r="7.4"/><circle cx="2300.8" cy="418.5" r="7.4"/><circle cx="1192.4" cy="575.8" r="7.4"/><circle cx="2303.2" cy="575.8" r="7.4"/><circle cx="1193.2" cy="470.9" r="7.4"/><circle cx="2304.0" cy="470.9" r="7.4"/><circle cx="1194.3" cy="374.8" r="7.4"/><circle cx="2305.2" cy="374.8" r="7.4"/><circle cx="1194.3" cy="401.1" r="7.4"/><circle cx="2305.2" cy="401.1" r="7.4"/><circle cx="1196.0" cy="383.6" r="7.4"/><circle cx="2306.9" cy="383.6" r="7.4"/><circle cx="1196.0" cy="436.0" r="7.4"/><circle cx="2306.9" cy="436.0" r="7.4"/><circle cx="1199.3" cy="462.2" r="7.4"/><circle cx="2310.2" cy="462.2" r="7.4"/><circle cx="1199.7" cy="427.3" r="7.4"/><circle cx="2310.6" cy="427.3" r="7.4"/><circle cx="1202.2" cy="392.3" r="7.4"/><circle cx="2313.0" cy="392.3" r="7.4"/><circle cx="1202.2" cy="532.1" r="7.4"/><circle cx="2313.0" cy="532.1" r="7.4"/><circle cx="1202.2" cy="567.0" r="7.4"/><circle cx="2313.0" cy="567.0" r="7.4"/><circle cx="1204.6" cy="366.1" r="7.4"/><circle cx="2315.5" cy="366.1" r="7.4"/><circle cx="1204.6" cy="444.7" r="7.4"/><circle cx="2315.5" cy="444.7" r="7.4"/><circle cx="1204.6" cy="488.4" r="7.4"/><circle cx="2315.5" cy="488.4" r="7.4"/><circle cx="1207.9" cy="514.6" r="7.4"/><circle cx="2318.7" cy="514.6" r="7.4"/><circle cx="1208.3" cy="357.4" r="7.4"/><circle cx="2319.1" cy="357.4" r="7.4"/><circle cx="1208.3" cy="567.0" r="7.4"/><circle cx="2319.1" cy="567.0" r="7.4"/><circle cx="1209.0" cy="409.8" r="7.4"/><circle cx="2319.9" cy="409.8" r="7.4"/><circle cx="1209.5" cy="549.5" r="7.4"/><circle cx="2320.4" cy="549.5" r="7.4"/><circle cx="1211.2" cy="584.5" r="7.4"/><circle cx="2322.1" cy="584.5" r="7.4"/><circle cx="1211.6" cy="462.2" r="7.4"/><circle cx="2322.4" cy="462.2" r="7.4"/><circle cx="1214.0" cy="523.3" r="7.4"/><circle cx="2324.9" cy="523.3" r="7.4"/><circle cx="1214.4" cy="444.7" r="7.4"/><circle cx="2325.3" cy="444.7" r="7.4"/><circle cx="1216.4" cy="313.7" r="7.4"/><circle cx="2327.2" cy="313.7" r="7.4"/><circle cx="1218.1" cy="479.7" r="7.4"/><circle cx="2328.9" cy="479.7" r="7.4"/><circle cx="1220.5" cy="558.3" r="7.4"/><circle cx="2331.4" cy="558.3" r="7.4"/><circle cx="1220.5" cy="619.4" r="7.4"/><circle cx="2331.4" cy="619.4" r="7.4"/><circle cx="1221.8" cy="453.5" r="7.4"/><circle cx="2332.6" cy="453.5" r="7.4"/><circle cx="1223.0" cy="602.0" r="7.4"/><circle cx="2333.8" cy="602.0" r="7.4"/><circle cx="1224.2" cy="628.2" r="7.4"/><circle cx="2335.1" cy="628.2" r="7.4"/><circle cx="1225.0" cy="401.1" r="7.4"/><circle cx="2335.8" cy="401.1" r="7.4"/><circle cx="1225.1" cy="593.2" r="7.4"/><circle cx="2335.9" cy="593.2" r="7.4"/><circle cx="1226.3" cy="462.2" r="7.4"/><circle cx="2337.1" cy="462.2" r="7.4"/><circle cx="1228.7" cy="584.5" r="7.4"/><circle cx="2339.6" cy="584.5" r="7.4"/><circle cx="1231.1" cy="374.8" r="7.4"/><circle cx="2341.9" cy="374.8" r="7.4"/><circle cx="1233.6" cy="488.4" r="7.4"/><circle cx="2344.5" cy="488.4" r="7.4"/><circle cx="1234.9" cy="575.8" r="7.4"/><circle cx="2345.7" cy="575.8" r="7.4"/><circle cx="1235.2" cy="401.1" r="7.4"/><circle cx="2346.1" cy="401.1" r="7.4"/><circle cx="1235.2" cy="567.0" r="7.4"/><circle cx="2346.1" cy="567.0" r="7.4"/><circle cx="1235.2" cy="602.0" r="7.4"/><circle cx="2346.1" cy="602.0" r="7.4"/><circle cx="1236.0" cy="497.1" r="7.4"/><circle cx="2346.8" cy="497.1" r="7.4"/><circle cx="1236.1" cy="470.9" r="7.4"/><circle cx="2346.9" cy="470.9" r="7.4"/><circle cx="1238.9" cy="610.7" r="7.4"/><circle cx="2349.8" cy="610.7" r="7.4"/><circle cx="1240.2" cy="628.2" r="7.4"/><circle cx="2351.0" cy="628.2" r="7.4"/><circle cx="1241.4" cy="383.6" r="7.4"/><circle cx="2352.2" cy="383.6" r="7.4"/><circle cx="1241.4" cy="462.2" r="7.4"/><circle cx="2352.2" cy="462.2" r="7.4"/><circle cx="1241.9" cy="663.1" r="7.4"/><circle cx="2352.7" cy="663.1" r="7.4"/><circle cx="1242.6" cy="523.3" r="7.4"/><circle cx="2353.4" cy="523.3" r="7.4"/><circle cx="1242.6" cy="575.8" r="7.4"/><circle cx="2353.4" cy="575.8" r="7.4"/><circle cx="1245.0" cy="409.8" r="7.4"/><circle cx="2355.9" cy="409.8" r="7.4"/><circle cx="1245.0" cy="479.7" r="7.4"/><circle cx="2355.9" cy="479.7" r="7.4"/><circle cx="1247.5" cy="392.3" r="7.4"/><circle cx="2358.4" cy="392.3" r="7.4"/><circle cx="1247.5" cy="628.2" r="7.4"/><circle cx="2358.4" cy="628.2" r="7.4"/><circle cx="1249.2" cy="689.3" r="7.4"/><circle cx="2360.1" cy="689.3" r="7.4"/><circle cx="1249.9" cy="654.4" r="7.4"/><circle cx="2360.8" cy="654.4" r="7.4"/><circle cx="1253.6" cy="514.6" r="7.4"/><circle cx="2364.5" cy="514.6" r="7.4"/><circle cx="1253.6" cy="663.1" r="7.4"/><circle cx="2364.5" cy="663.1" r="7.4"/><circle cx="1253.6" cy="698.0" r="7.4"/><circle cx="2364.5" cy="698.0" r="7.4"/><circle cx="1257.3" cy="610.7" r="7.4"/><circle cx="2368.2" cy="610.7" r="7.4"/><circle cx="1257.3" cy="636.9" r="7.4"/><circle cx="2368.2" cy="636.9" r="7.4"/><circle cx="1258.5" cy="628.2" r="7.4"/><circle cx="2369.4" cy="628.2" r="7.4"/><circle cx="1259.8" cy="698.0" r="7.4"/><circle cx="2370.6" cy="698.0" r="7.4"/><circle cx="1261.3" cy="619.4" r="7.4"/><circle cx="2372.1" cy="619.4" r="7.4"/><circle cx="1263.4" cy="558.3" r="7.4"/><circle cx="2374.3" cy="558.3" r="7.4"/><circle cx="1263.4" cy="645.6" r="7.4"/><circle cx="2374.3" cy="645.6" r="7.4"/><circle cx="1263.4" cy="663.1" r="7.4"/><circle cx="2374.3" cy="663.1" r="7.4"/><circle cx="1264.7" cy="549.5" r="7.4"/><circle cx="2375.5" cy="549.5" r="7.4"/><circle cx="1265.9" cy="532.1" r="7.4"/><circle cx="2376.7" cy="532.1" r="7.4"/><circle cx="1265.9" cy="654.4" r="7.4"/><circle cx="2376.7" cy="654.4" r="7.4"/><circle cx="1266.2" cy="636.9" r="7.4"/><circle cx="2377.0" cy="636.9" r="7.4"/><circle cx="1268.6" cy="628.2" r="7.4"/><circle cx="2379.5" cy="628.2" r="7.4"/><circle cx="1269.6" cy="575.8" r="7.4"/><circle cx="2380.4" cy="575.8" r="7.4"/><circle cx="1270.8" cy="549.5" r="7.4"/><circle cx="2381.6" cy="549.5" r="7.4"/><circle cx="1271.3" cy="689.3" r="7.4"/><circle cx="2382.1" cy="689.3" r="7.4"/><circle cx="1272.0" cy="706.8" r="7.4"/><circle cx="2382.9" cy="706.8" r="7.4"/><circle cx="1273.2" cy="532.1" r="7.4"/><circle cx="2384.1" cy="532.1" r="7.4"/><circle cx="1273.5" cy="645.6" r="7.4"/><circle cx="2384.4" cy="645.6" r="7.4"/><circle cx="1276.9" cy="671.8" r="7.4"/><circle cx="2387.8" cy="671.8" r="7.4"/><circle cx="1278.1" cy="680.6" r="7.4"/><circle cx="2389.0" cy="680.6" r="7.4"/><circle cx="1278.4" cy="663.1" r="7.4"/><circle cx="2389.3" cy="663.1" r="7.4"/><circle cx="1279.4" cy="540.8" r="7.4"/><circle cx="2390.2" cy="540.8" r="7.4"/><circle cx="1280.6" cy="575.8" r="7.4"/><circle cx="2391.4" cy="575.8" r="7.4"/><circle cx="1283.0" cy="602.0" r="7.4"/><circle cx="2393.9" cy="602.0" r="7.4"/><circle cx="1283.0" cy="619.4" r="7.4"/><circle cx="2393.9" cy="619.4" r="7.4"/><circle cx="1283.0" cy="706.8" r="7.4"/><circle cx="2393.9" cy="706.8" r="7.4"/><circle cx="1284.6" cy="671.8" r="7.4"/><circle cx="2395.4" cy="671.8" r="7.4"/><circle cx="1285.0" cy="724.2" r="7.4"/><circle cx="2395.8" cy="724.2" r="7.4"/><circle cx="1285.5" cy="593.2" r="7.4"/><circle cx="2396.3" cy="593.2" r="7.4"/><circle cx="1285.8" cy="680.6" r="7.4"/><circle cx="2396.6" cy="680.6" r="7.4"/><circle cx="1286.2" cy="846.5" r="7.4"/><circle cx="2397.1" cy="846.5" r="7.4"/><circle cx="1288.2" cy="689.3" r="7.4"/><circle cx="2399.1" cy="689.3" r="7.4"/><circle cx="1288.4" cy="759.2" r="7.4"/><circle cx="2399.3" cy="759.2" r="7.4"/><circle cx="1290.4" cy="829.1" r="7.4"/><circle cx="2401.2" cy="829.1" r="7.4"/><circle cx="1292.8" cy="715.5" r="7.4"/><circle cx="2403.7" cy="715.5" r="7.4"/><circle cx="1292.8" cy="741.7" r="7.4"/><circle cx="2403.7" cy="741.7" r="7.4"/><circle cx="1296.5" cy="593.2" r="7.4"/><circle cx="2407.4" cy="593.2" r="7.4"/><circle cx="1296.5" cy="610.7" r="7.4"/><circle cx="2407.4" cy="610.7" r="7.4"/><circle cx="1296.5" cy="724.2" r="7.4"/><circle cx="2407.4" cy="724.2" r="7.4"/><circle cx="1299.0" cy="540.8" r="7.4"/><circle cx="2409.8" cy="540.8" r="7.4"/><circle cx="1299.0" cy="628.2" r="7.4"/><circle cx="2409.8" cy="628.2" r="7.4"/><circle cx="1299.0" cy="733.0" r="7.4"/><circle cx="2409.8" cy="733.0" r="7.4"/><circle cx="1300.2" cy="645.6" r="7.4"/><circle cx="2411.0" cy="645.6" r="7.4"/><circle cx="1302.6" cy="549.5" r="7.4"/><circle cx="2413.5" cy="549.5" r="7.4"/><circle cx="1302.6" cy="610.7" r="7.4"/><circle cx="2413.5" cy="610.7" r="7.4"/><circle cx="1302.6" cy="619.4" r="7.4"/><circle cx="2413.5" cy="619.4" r="7.4"/><circle cx="1302.6" cy="636.9" r="7.4"/><circle cx="2413.5" cy="636.9" r="7.4"/><circle cx="1305.1" cy="602.0" r="7.4"/><circle cx="2416.0" cy="602.0" r="7.4"/><circle cx="1305.1" cy="689.3" r="7.4"/><circle cx="2416.0" cy="689.3" r="7.4"/><circle cx="1305.1" cy="733.0" r="7.4"/><circle cx="2416.0" cy="733.0" r="7.4"/><circle cx="1306.3" cy="663.1" r="7.4"/><circle cx="2417.2" cy="663.1" r="7.4"/><circle cx="1306.3" cy="741.7" r="7.4"/><circle cx="2417.2" cy="741.7" r="7.4"/><circle cx="1308.8" cy="767.9" r="7.4"/><circle cx="2419.6" cy="767.9" r="7.4"/><circle cx="1309.5" cy="759.2" r="7.4"/><circle cx="2420.4" cy="759.2" r="7.4"/><circle cx="1311.2" cy="645.6" r="7.4"/><circle cx="2422.1" cy="645.6" r="7.4"/><circle cx="1311.2" cy="663.1" r="7.4"/><circle cx="2422.1" cy="663.1" r="7.4"/><circle cx="1311.2" cy="671.8" r="7.4"/><circle cx="2422.1" cy="671.8" r="7.4"/><circle cx="1311.2" cy="706.8" r="7.4"/><circle cx="2422.1" cy="706.8" r="7.4"/><circle cx="1313.7" cy="741.7" r="7.4"/><circle cx="2424.5" cy="741.7" r="7.4"/><circle cx="1314.9" cy="767.9" r="7.4"/><circle cx="2425.7" cy="767.9" r="7.4"/><circle cx="1314.9" cy="837.8" r="7.4"/><circle cx="2425.7" cy="837.8" r="7.4"/><circle cx="1316.1" cy="820.3" r="7.4"/><circle cx="2427.0" cy="820.3" r="7.4"/><circle cx="1317.4" cy="645.6" r="7.4"/><circle cx="2428.2" cy="645.6" r="7.4"/><circle cx="1318.6" cy="802.9" r="7.4"/><circle cx="2429.4" cy="802.9" r="7.4"/><circle cx="1321.0" cy="785.4" r="7.4"/><circle cx="2431.9" cy="785.4" r="7.4"/><circle cx="1321.0" cy="811.6" r="7.4"/><circle cx="2431.9" cy="811.6" r="7.4"/><circle cx="1322.3" cy="680.6" r="7.4"/><circle cx="2433.1" cy="680.6" r="7.4"/><circle cx="1322.3" cy="715.5" r="7.4"/><circle cx="2433.1" cy="715.5" r="7.4"/><circle cx="1322.3" cy="855.3" r="7.4"/><circle cx="2433.1" cy="855.3" r="7.4"/><circle cx="1322.6" cy="689.3" r="7.4"/><circle cx="2433.4" cy="689.3" r="7.4"/><circle cx="1325.9" cy="820.3" r="7.4"/><circle cx="2436.8" cy="820.3" r="7.4"/><circle cx="1325.9" cy="837.8" r="7.4"/><circle cx="2436.8" cy="837.8" r="7.4"/><circle cx="1326.7" cy="619.4" r="7.4"/><circle cx="2437.5" cy="619.4" r="7.4"/><circle cx="1327.2" cy="776.7" r="7.4"/><circle cx="2438.0" cy="776.7" r="7.4"/><circle cx="1328.4" cy="602.0" r="7.4"/><circle cx="2439.2" cy="602.0" r="7.4"/><circle cx="1329.6" cy="785.4" r="7.4"/><circle cx="2440.5" cy="785.4" r="7.4"/><circle cx="1329.9" cy="680.6" r="7.4"/><circle cx="2440.8" cy="680.6" r="7.4"/><circle cx="1330.8" cy="698.0" r="7.4"/><circle cx="2441.7" cy="698.0" r="7.4"/><circle cx="1333.3" cy="654.4" r="7.4"/><circle cx="2444.1" cy="654.4" r="7.4"/><circle cx="1334.0" cy="671.8" r="7.4"/><circle cx="2444.9" cy="671.8" r="7.4"/><circle cx="1334.8" cy="680.6" r="7.4"/><circle cx="2445.7" cy="680.6" r="7.4"/><circle cx="1335.7" cy="750.4" r="7.4"/><circle cx="2446.6" cy="750.4" r="7.4"/><circle cx="1335.7" cy="767.9" r="7.4"/><circle cx="2446.6" cy="767.9" r="7.4"/><circle cx="1336.0" cy="689.3" r="7.4"/><circle cx="2446.9" cy="689.3" r="7.4"/><circle cx="1337.2" cy="663.1" r="7.4"/><circle cx="2448.1" cy="663.1" r="7.4"/><circle cx="1338.2" cy="741.7" r="7.4"/><circle cx="2449.0" cy="741.7" r="7.4"/><circle cx="1340.6" cy="794.1" r="7.4"/><circle cx="2451.5" cy="794.1" r="7.4"/><circle cx="1341.9" cy="759.2" r="7.4"/><circle cx="2452.7" cy="759.2" r="7.4"/><circle cx="1348.0" cy="776.7" r="7.4"/><circle cx="2458.8" cy="776.7" r="7.4"/><circle cx="1348.0" cy="785.4" r="7.4"/><circle cx="2458.8" cy="785.4" r="7.4"/><circle cx="1351.7" cy="558.3" r="7.4"/><circle cx="2462.5" cy="558.3" r="7.4"/><circle cx="1353.6" cy="741.7" r="7.4"/><circle cx="2464.5" cy="741.7" r="7.4"/><circle cx="1357.3" cy="488.4" r="7.4"/><circle cx="2468.2" cy="488.4" r="7.4"/><circle cx="1357.8" cy="540.8" r="7.4"/><circle cx="2468.6" cy="540.8" r="7.4"/><circle cx="1357.8" cy="602.0" r="7.4"/><circle cx="2468.6" cy="602.0" r="7.4"/><circle cx="1358.3" cy="436.0" r="7.4"/><circle cx="2469.1" cy="436.0" r="7.4"/><circle cx="1361.5" cy="575.8" r="7.4"/><circle cx="2472.3" cy="575.8" r="7.4"/><circle cx="1363.9" cy="654.4" r="7.4"/><circle cx="2474.8" cy="654.4" r="7.4"/><circle cx="1366.4" cy="636.9" r="7.4"/><circle cx="2477.2" cy="636.9" r="7.4"/><circle cx="1370.1" cy="628.2" r="7.4"/><circle cx="2480.9" cy="628.2" r="7.4"/><circle cx="1371.3" cy="584.5" r="7.4"/><circle cx="2482.1" cy="584.5" r="7.4"/><circle cx="1372.5" cy="645.6" r="7.4"/><circle cx="2483.3" cy="645.6" r="7.4"/><circle cx="1374.5" cy="663.1" r="7.4"/><circle cx="2485.3" cy="663.1" r="7.4"/><circle cx="1375.0" cy="436.0" r="7.4"/><circle cx="2485.8" cy="436.0" r="7.4"/><circle cx="1375.0" cy="470.9" r="7.4"/><circle cx="2485.8" cy="470.9" r="7.4"/><circle cx="1375.7" cy="409.8" r="7.4"/><circle cx="2486.5" cy="409.8" r="7.4"/><circle cx="1376.2" cy="427.3" r="7.4"/><circle cx="2487.0" cy="427.3" r="7.4"/><circle cx="1376.2" cy="558.3" r="7.4"/><circle cx="2487.0" cy="558.3" r="7.4"/><circle cx="1377.4" cy="602.0" r="7.4"/><circle cx="2488.3" cy="602.0" r="7.4"/><circle cx="1377.4" cy="636.9" r="7.4"/><circle cx="2488.3" cy="636.9" r="7.4"/><circle cx="1378.1" cy="392.3" r="7.4"/><circle cx="2489.0" cy="392.3" r="7.4"/><circle cx="1379.9" cy="374.8" r="7.4"/><circle cx="2490.7" cy="374.8" r="7.4"/><circle cx="1381.1" cy="523.3" r="7.4"/><circle cx="2491.9" cy="523.3" r="7.4"/><circle cx="1382.3" cy="532.1" r="7.4"/><circle cx="2493.2" cy="532.1" r="7.4"/><circle cx="1383.5" cy="470.9" r="7.4"/><circle cx="2494.4" cy="470.9" r="7.4"/><circle cx="1313.4" cy="715.5" r="7.4"/><circle cx="2424.2" cy="715.5" r="7.4"/><circle cx="1009.9" cy="479.7" r="7.4"/><circle cx="2120.7" cy="479.7" r="7.4"/><circle cx="1071.0" cy="479.7" r="7.4"/><circle cx="2181.8" cy="479.7" r="7.4"/><circle cx="1273.5" cy="628.2" r="7.4"/><circle cx="2384.3" cy="628.2" r="7.4"/><circle cx="968.7" cy="462.2" r="7.4"/><circle cx="2079.5" cy="462.2" r="7.4"/><circle cx="1140.7" cy="470.9" r="7.4"/><circle cx="2251.6" cy="470.9" r="7.4"/><circle cx="1201.8" cy="497.1" r="7.4"/><circle cx="2312.7" cy="497.1" r="7.4"/><circle cx="537.2" cy="549.5" r="7.4"/><circle cx="1648.0" cy="549.5" r="7.4"/><circle cx="621.0" cy="514.6" r="7.4"/><circle cx="1731.9" cy="514.6" r="7.4"/><circle cx="606.3" cy="523.3" r="7.4"/><circle cx="1717.2" cy="523.3" r="7.4"/><circle cx="1248.9" cy="540.8" r="7.4"/><circle cx="2359.8" cy="540.8" r="7.4"/><circle cx="1288.8" cy="645.6" r="7.4"/><circle cx="2399.7" cy="645.6" r="7.4"/><circle cx="890.7" cy="488.4" r="7.4"/><circle cx="2001.5" cy="488.4" r="7.4"/><circle cx="1191.2" cy="479.7" r="7.4"/><circle cx="2302.0" cy="479.7" r="7.4"/><circle cx="426.3" cy="549.5" r="7.4"/><circle cx="1537.2" cy="549.5" r="7.4"/><circle cx="1165.2" cy="470.9" r="7.4"/><circle cx="2276.1" cy="470.9" r="7.4"/><circle cx="420.9" cy="549.5" r="7.4"/><circle cx="1531.7" cy="549.5" r="7.4"/><circle cx="850.7" cy="479.7" r="7.4"/><circle cx="1961.5" cy="479.7" r="7.4"/><circle cx="1182.1" cy="497.1" r="7.4"/><circle cx="2292.9" cy="497.1" r="7.4"/><circle cx="675.2" cy="505.9" r="7.4"/><circle cx="1786.1" cy="505.9" r="7.4"/><circle cx="591.6" cy="532.1" r="7.4"/><circle cx="1702.5" cy="532.1" r="7.4"/><circle cx="1105.9" cy="453.5" r="7.4"/><circle cx="2216.8" cy="453.5" r="7.4"/><circle cx="564.3" cy="532.1" r="7.4"/><circle cx="1675.1" cy="532.1" r="7.4"/><circle cx="828.3" cy="505.9" r="7.4"/><circle cx="1939.2" cy="505.9" r="7.4"/><circle cx="867.4" cy="497.1" r="7.4"/><circle cx="1978.2" cy="497.1" r="7.4"/><circle cx="897.9" cy="488.4" r="7.4"/><circle cx="2008.8" cy="488.4" r="7.4"/><circle cx="948.0" cy="479.7" r="7.4"/><circle cx="2058.9" cy="479.7" r="7.4"/><circle cx="905.3" cy="470.9" r="7.4"/><circle cx="2016.2" cy="470.9" r="7.4"/><circle cx="1177.1" cy="470.9" r="7.4"/><circle cx="2288.0" cy="470.9" r="7.4"/><circle cx="1083.8" cy="462.2" r="7.4"/><circle cx="2194.7" cy="462.2" r="7.4"/><circle cx="845.4" cy="479.7" r="7.4"/><circle cx="1956.2" cy="479.7" r="7.4"/><circle cx="518.6" cy="558.3" r="7.4"/><circle cx="1629.5" cy="558.3" r="7.4"/><circle cx="1220.7" cy="505.9" r="7.4"/><circle cx="2331.6" cy="505.9" r="7.4"/><circle cx="452.7" cy="558.3" r="7.4"/><circle cx="1563.5" cy="558.3" r="7.4"/><circle cx="1230.8" cy="514.6" r="7.4"/><circle cx="2341.6" cy="514.6" r="7.4"/><circle cx="1001.4" cy="488.4" r="7.4"/><circle cx="2112.2" cy="488.4" r="7.4"/><circle cx="434.0" cy="567.0" r="7.4"/><circle cx="1544.8" cy="567.0" r="7.4"/><circle cx="912.6" cy="470.9" r="7.4"/><circle cx="2023.5" cy="470.9" r="7.4"/><circle cx="1291.2" cy="680.6" r="7.4"/><circle cx="2402.0" cy="680.6" r="7.4"/><circle cx="1192.6" cy="497.1" r="7.4"/><circle cx="2303.5" cy="497.1" r="7.4"/><circle cx="1018.6" cy="479.7" r="7.4"/><circle cx="2129.4" cy="479.7" r="7.4"/><circle cx="822.6" cy="497.1" r="7.4"/><circle cx="1933.4" cy="497.1" r="7.4"/><circle cx="585.5" cy="540.8" r="7.4"/><circle cx="1696.3" cy="540.8" r="7.4"/><circle cx="888.9" cy="470.9" r="7.4"/><circle cx="1999.8" cy="470.9" r="7.4"/><circle cx="731.8" cy="497.1" r="7.4"/><circle cx="1842.7" cy="497.1" r="7.4"/><circle cx="556.8" cy="540.8" r="7.4"/><circle cx="1667.6" cy="540.8" r="7.4"/><circle cx="390.3" cy="532.1" r="7.4"/><circle cx="1501.1" cy="532.1" r="7.4"/><circle cx="486.2" cy="567.0" r="7.4"/><circle cx="1597.1" cy="567.0" r="7.4"/><circle cx="1077.0" cy="470.9" r="7.4"/><circle cx="2187.8" cy="470.9" r="7.4"/><circle cx="1254.4" cy="558.3" r="7.4"/><circle cx="2365.3" cy="558.3" r="7.4"/><circle cx="505.8" cy="540.8" r="7.4"/><circle cx="1616.7" cy="540.8" r="7.4"/><circle cx="1103.6" cy="479.7" r="7.4"/><circle cx="2214.4" cy="479.7" r="7.4"/><circle cx="710.6" cy="523.3" r="7.4"/><circle cx="1821.5" cy="523.3" r="7.4"/><circle cx="880.9" cy="479.7" r="7.4"/><circle cx="1991.7" cy="479.7" r="7.4"/><circle cx="1047.6" cy="462.2" r="7.4"/><circle cx="2158.5" cy="462.2" r="7.4"/><circle cx="927.7" cy="470.9" r="7.4"/><circle cx="2038.6" cy="470.9" r="7.4"/><circle cx="903.1" cy="488.4" r="7.4"/><circle cx="2013.9" cy="488.4" r="7.4"/><circle cx="1307.8" cy="724.2" r="7.4"/><circle cx="2418.6" cy="724.2" r="7.4"/><circle cx="1224.8" cy="532.1" r="7.4"/><circle cx="2335.6" cy="532.1" r="7.4"/><circle cx="1099.1" cy="462.2" r="7.4"/><circle cx="2209.9" cy="462.2" r="7.4"/><circle cx="1024.0" cy="470.9" r="7.4"/><circle cx="2134.9" cy="470.9" r="7.4"/><circle cx="1115.7" cy="479.7" r="7.4"/><circle cx="2226.6" cy="479.7" r="7.4"/><circle cx="861.0" cy="488.4" r="7.4"/><circle cx="1971.9" cy="488.4" r="7.4"/><circle cx="387.4" cy="505.9" r="7.4"/><circle cx="1498.3" cy="505.9" r="7.4"/><circle cx="559.0" cy="523.3" r="7.4"/><circle cx="1669.9" cy="523.3" r="7.4"/><circle cx="930.4" cy="497.1" r="7.4"/><circle cx="2041.3" cy="497.1" r="7.4"/><circle cx="1240.3" cy="540.8" r="7.4"/><circle cx="2351.1" cy="540.8" r="7.4"/><circle cx="1031.2" cy="488.4" r="7.4"/><circle cx="2142.0" cy="488.4" r="7.4"/><circle cx="988.9" cy="462.2" r="7.4"/><circle cx="2099.7" cy="462.2" r="7.4"/><circle cx="409.4" cy="540.8" r="7.4"/><circle cx="1520.2" cy="540.8" r="7.4"/><circle cx="740.0" cy="514.6" r="7.4"/><circle cx="1850.9" cy="514.6" r="7.4"/><circle cx="988.1" cy="479.7" r="7.4"/><circle cx="2098.9" cy="479.7" r="7.4"/><circle cx="648.4" cy="523.3" r="7.4"/><circle cx="1759.3" cy="523.3" r="7.4"/><circle cx="531.6" cy="549.5" r="7.4"/><circle cx="1642.4" cy="549.5" r="7.4"/><circle cx="727.6" cy="514.6" r="7.4"/><circle cx="1838.5" cy="514.6" r="7.4"/><circle cx="768.7" cy="505.9" r="7.4"/><circle cx="1879.6" cy="505.9" r="7.4"/><circle cx="726.6" cy="497.1" r="7.4"/><circle cx="1837.5" cy="497.1" r="7.4"/><circle cx="967.8" cy="479.7" r="7.4"/><circle cx="2078.7" cy="479.7" r="7.4"/><circle cx="749.6" cy="514.6" r="7.4"/><circle cx="1860.4" cy="514.6" r="7.4"/><circle cx="825.9" cy="479.7" r="7.4"/><circle cx="1936.8" cy="479.7" r="7.4"/><circle cx="940.9" cy="470.9" r="7.4"/><circle cx="2051.7" cy="470.9" r="7.4"/><circle cx="1060.3" cy="453.5" r="7.4"/><circle cx="2171.2" cy="453.5" r="7.4"/><circle cx="1327.9" cy="733.0" r="7.4"/><circle cx="2438.8" cy="733.0" r="7.4"/><circle cx="702.1" cy="514.6" r="7.4"/><circle cx="1813.0" cy="514.6" r="7.4"/><circle cx="776.4" cy="497.1" r="7.4"/><circle cx="1887.2" cy="497.1" r="7.4"/><circle cx="621.0" cy="532.1" r="7.4"/><circle cx="1731.9" cy="532.1" r="7.4"/><circle cx="1212.3" cy="497.1" r="7.4"/><circle cx="2323.1" cy="497.1" r="7.4"/><circle cx="874.4" cy="479.7" r="7.4"/><circle cx="1985.3" cy="479.7" r="7.4"/><circle cx="1280.2" cy="628.2" r="7.4"/><circle cx="2391.0" cy="628.2" r="7.4"/><circle cx="954.1" cy="497.1" r="7.4"/><circle cx="2065.0" cy="497.1" r="7.4"/><circle cx="600.4" cy="540.8" r="7.4"/><circle cx="1711.2" cy="540.8" r="7.4"/><circle cx="441.1" cy="575.8" r="7.4"/><circle cx="1552.0" cy="575.8" r="7.4"/><circle cx="492.6" cy="549.5" r="7.4"/><circle cx="1603.5" cy="549.5" r="7.4"/><circle cx="1126.4" cy="479.7" r="7.4"/><circle cx="2237.2" cy="479.7" r="7.4"/><circle cx="1303.1" cy="689.3" r="7.4"/><circle cx="2414.0" cy="689.3" r="7.4"/><circle cx="940.3" cy="488.4" r="7.4"/><circle cx="2051.2" cy="488.4" r="7.4"/><circle cx="479.0" cy="567.0" r="7.4"/><circle cx="1589.9" cy="567.0" r="7.4"/><circle cx="1261.0" cy="575.8" r="7.4"/><circle cx="2371.9" cy="575.8" r="7.4"/><circle cx="959.0" cy="470.9" r="7.4"/><circle cx="2069.8" cy="470.9" r="7.4"/><circle cx="1132.1" cy="470.9" r="7.4"/><circle cx="2242.9" cy="470.9" r="7.4"/><circle cx="650.2" cy="505.9" r="7.4"/><circle cx="1761.1" cy="505.9" r="7.4"/><circle cx="1127.0" cy="462.2" r="7.4"/><circle cx="2237.9" cy="462.2" r="7.4"/><circle cx="717.7" cy="505.9" r="7.4"/><circle cx="1828.6" cy="505.9" r="7.4"/><circle cx="1170.2" cy="488.4" r="7.4"/><circle cx="2281.0" cy="488.4" r="7.4"/><circle cx="420.5" cy="567.0" r="7.4"/><circle cx="1531.3" cy="567.0" r="7.4"/><circle cx="785.8" cy="488.4" r="7.4"/><circle cx="1896.6" cy="488.4" r="7.4"/><circle cx="407.8" cy="558.3" r="7.4"/><circle cx="1518.6" cy="558.3" r="7.4"/><circle cx="804.7" cy="505.9" r="7.4"/><circle cx="1915.6" cy="505.9" r="7.4"/><circle cx="370.7" cy="479.7" r="7.4"/><circle cx="1481.5" cy="479.7" r="7.4"/><circle cx="813.1" cy="488.4" r="7.4"/><circle cx="1924.0" cy="488.4" r="7.4"/><circle cx="1246.7" cy="567.0" r="7.4"/><circle cx="2357.5" cy="567.0" r="7.4"/><circle cx="1066.0" cy="453.5" r="7.4"/><circle cx="2176.9" cy="453.5" r="7.4"/><circle cx="685.3" cy="505.9" r="7.4"/><circle cx="1796.2" cy="505.9" r="7.4"/><circle cx="976.1" cy="488.4" r="7.4"/><circle cx="2087.0" cy="488.4" r="7.4"/><circle cx="594.3" cy="514.6" r="7.4"/><circle cx="1705.2" cy="514.6" r="7.4"/><circle cx="702.1" cy="497.1" r="7.4"/><circle cx="1813.0" cy="497.1" r="7.4"/><circle cx="916.8" cy="488.4" r="7.4"/><circle cx="2027.6" cy="488.4" r="7.4"/><circle cx="1153.1" cy="479.7" r="7.4"/><circle cx="2264.0" cy="479.7" r="7.4"/><circle cx="1281.9" cy="645.6" r="7.4"/><circle cx="2392.8" cy="645.6" r="7.4"/><circle cx="633.4" cy="523.3" r="7.4"/><circle cx="1744.2" cy="523.3" r="7.4"/><circle cx="1120.1" cy="462.2" r="7.4"/><circle cx="2230.9" cy="462.2" r="7.4"/><circle cx="1032.6" cy="462.2" r="7.4"/><circle cx="2143.4" cy="462.2" r="7.4"/><circle cx="793.9" cy="505.9" r="7.4"/><circle cx="1904.7" cy="505.9" r="7.4"/><circle cx="1318.4" cy="724.2" r="7.4"/><circle cx="2429.3" cy="724.2" r="7.4"/><circle cx="1284.9" cy="663.1" r="7.4"/><circle cx="2395.7" cy="663.1" r="7.4"/><circle cx="710.3" cy="505.9" r="7.4"/><circle cx="1821.2" cy="505.9" r="7.4"/><circle cx="755.5" cy="514.6" r="7.4"/><circle cx="1866.4" cy="514.6" r="7.4"/><circle cx="686.7" cy="523.3" r="7.4"/><circle cx="1797.6" cy="523.3" r="7.4"/><circle cx="631.2" cy="505.9" r="7.4"/><circle cx="1742.0" cy="505.9" r="7.4"/><circle cx="1318.9" cy="741.7" r="7.4"/><circle cx="2429.7" cy="741.7" r="7.4"/><circle cx="436.5" cy="549.5" r="7.4"/><circle cx="1547.3" cy="549.5" r="7.4"/><circle cx="380.6" cy="497.1" r="7.4"/><circle cx="1491.4" cy="497.1" r="7.4"/><circle cx="526.5" cy="540.8" r="7.4"/><circle cx="1637.3" cy="540.8" r="7.4"/><circle cx="499.7" cy="567.0" r="7.4"/><circle cx="1610.5" cy="567.0" r="7.4"/><circle cx="451.9" cy="575.8" r="7.4"/><circle cx="1562.7" cy="575.8" r="7.4"/><circle cx="1270.2" cy="602.0" r="7.4"/><circle cx="2381.1" cy="602.0" r="7.4"/><circle cx="805.0" cy="488.4" r="7.4"/><circle cx="1915.8" cy="488.4" r="7.4"/><circle cx="782.1" cy="505.9" r="7.4"/><circle cx="1892.9" cy="505.9" r="7.4"/><circle cx="365.4" cy="453.5" r="7.4"/><circle cx="1476.2" cy="453.5" r="7.4"/><circle cx="462.0" cy="575.8" r="7.4"/><circle cx="1572.8" cy="575.8" r="7.4"/><circle cx="1156.3" cy="462.2" r="7.4"/><circle cx="2267.1" cy="462.2" r="7.4"/><circle cx="1060.1" cy="479.7" r="7.4"/><circle cx="2171.0" cy="479.7" r="7.4"/><circle cx="1296.6" cy="671.8" r="7.4"/><circle cx="2407.5" cy="671.8" r="7.4"/><circle cx="665.4" cy="505.9" r="7.4"/><circle cx="1776.2" cy="505.9" r="7.4"/><circle cx="459.7" cy="558.3" r="7.4"/><circle cx="1570.5" cy="558.3" r="7.4"/><circle cx="982.7" cy="470.9" r="7.4"/><circle cx="2093.5" cy="470.9" r="7.4"/><circle cx="415.1" cy="540.8" r="7.4"/><circle cx="1526.0" cy="540.8" r="7.4"/><circle cx="841.8" cy="497.1" r="7.4"/><circle cx="1952.6" cy="497.1" r="7.4"/><circle cx="1042.3" cy="470.9" r="7.4"/><circle cx="2153.1" cy="470.9" r="7.4"/><circle cx="851.5" cy="497.1" r="7.4"/><circle cx="1962.4" cy="497.1" r="7.4"/><circle cx="475.7" cy="549.5" r="7.4"/><circle cx="1586.5" cy="549.5" r="7.4"/><circle cx="1110.2" cy="479.7" r="7.4"/><circle cx="2221.1" cy="479.7" r="7.4"/><circle cx="1089.8" cy="453.5" r="7.4"/><circle cx="2200.6" cy="453.5" r="7.4"/><circle cx="1213.4" cy="514.6" r="7.4"/><circle cx="2324.2" cy="514.6" r="7.4"/><circle cx="921.9" cy="488.4" r="7.4"/><circle cx="2032.7" cy="488.4" r="7.4"/><circle cx="568.0" cy="549.5" r="7.4"/><circle cx="1678.9" cy="549.5" r="7.4"/><circle cx="1090.0" cy="470.9" r="7.4"/><circle cx="2200.9" cy="470.9" r="7.4"/><circle cx="953.3" cy="479.7" r="7.4"/><circle cx="2064.2" cy="479.7" r="7.4"/><circle cx="974.3" cy="470.9" r="7.4"/><circle cx="2085.2" cy="470.9" r="7.4"/><circle cx="383.4" cy="523.3" r="7.4"/><circle cx="1494.2" cy="523.3" r="7.4"/><circle cx="628.2" cy="532.1" r="7.4"/><circle cx="1739.0" cy="532.1" r="7.4"/><circle cx="1310.1" cy="698.0" r="7.4"/><circle cx="2420.9" cy="698.0" r="7.4"/><circle cx="1183.7" cy="470.9" r="7.4"/><circle cx="2294.6" cy="470.9" r="7.4"/><circle cx="546.2" cy="532.1" r="7.4"/><circle cx="1657.1" cy="532.1" r="7.4"/><circle cx="673.0" cy="523.3" r="7.4"/><circle cx="1783.8" cy="523.3" r="7.4"/><circle cx="640.6" cy="514.6" r="7.4"/><circle cx="1751.5" cy="514.6" r="7.4"/><circle cx="1014.6" cy="462.2" r="7.4"/><circle cx="2125.4" cy="462.2" r="7.4"/><circle cx="1162.1" cy="488.4" r="7.4"/><circle cx="2272.9" cy="488.4" r="7.4"/><circle cx="1047.7" cy="479.7" r="7.4"/><circle cx="2158.6" cy="479.7" r="7.4"/><circle cx="1237.6" cy="523.3" r="7.4"/><circle cx="2348.5" cy="523.3" r="7.4"/><circle cx="492.5" cy="567.0" r="7.4"/><circle cx="1603.3" cy="567.0" r="7.4"/><circle cx="572.4" cy="523.3" r="7.4"/><circle cx="1683.2" cy="523.3" r="7.4"/><circle cx="995.6" cy="470.9" r="7.4"/><circle cx="2106.4" cy="470.9" r="7.4"/><circle cx="655.9" cy="505.9" r="7.4"/><circle cx="1766.7" cy="505.9" r="7.4"/><circle cx="1241.0" cy="558.3" r="7.4"/><circle cx="2351.8" cy="558.3" r="7.4"/><circle cx="521.0" cy="540.8" r="7.4"/><circle cx="1631.8" cy="540.8" r="7.4"/><circle cx="400.0" cy="549.5" r="7.4"/><circle cx="1510.8" cy="549.5" r="7.4"/><circle cx="611.4" cy="532.1" r="7.4"/><circle cx="1722.3" cy="532.1" r="7.4"/><circle cx="515.9" cy="540.8" r="7.4"/><circle cx="1626.7" cy="540.8" r="7.4"/><circle cx="660.6" cy="523.3" r="7.4"/><circle cx="1771.4" cy="523.3" r="7.4"/><circle cx="1375.0" cy="540.8" r="7.4"/><circle cx="2485.8" cy="540.8" r="7.4"/><circle cx="361.3" cy="453.5" r="7.4"/><circle cx="1472.2" cy="453.5" r="7.4"/><circle cx="326.3" cy="331.2" r="7.4"/><circle cx="1437.2" cy="331.2" r="7.4"/><circle cx="1365.1" cy="575.8" r="7.4"/><circle cx="2475.9" cy="575.8" r="7.4"/><circle cx="1376.3" cy="488.4" r="7.4"/><circle cx="2487.1" cy="488.4" r="7.4"/><circle cx="285.1" cy="383.6" r="7.4"/><circle cx="1396.0" cy="383.6" r="7.4"/><circle cx="317.0" cy="296.2" r="7.4"/><circle cx="1427.8" cy="296.2" r="7.4"/><circle cx="1360.6" cy="610.7" r="7.4"/><circle cx="2471.4" cy="610.7" r="7.4"/><circle cx="1346.9" cy="689.3" r="7.4"/><circle cx="2457.7" cy="689.3" r="7.4"/><circle cx="1366.9" cy="602.0" r="7.4"/><circle cx="2477.8" cy="602.0" r="7.4"/><circle cx="340.1" cy="374.8" r="7.4"/><circle cx="1451.0" cy="374.8" r="7.4"/><circle cx="1360.3" cy="645.6" r="7.4"/><circle cx="2471.2" cy="645.6" r="7.4"/><circle cx="1375.7" cy="514.6" r="7.4"/><circle cx="2486.6" cy="514.6" r="7.4"/><circle cx="1379.7" cy="436.0" r="7.4"/><circle cx="2490.6" cy="436.0" r="7.4"/><circle cx="291.8" cy="313.7" r="7.4"/><circle cx="1402.6" cy="313.7" r="7.4"/><circle cx="282.0" cy="409.8" r="7.4"/><circle cx="1392.9" cy="409.8" r="7.4"/><circle cx="318.1" cy="313.7" r="7.4"/><circle cx="1429.0" cy="313.7" r="7.4"/><circle cx="278.1" cy="444.7" r="7.4"/><circle cx="1388.9" cy="444.7" r="7.4"/><circle cx="1346.3" cy="715.5" r="7.4"/><circle cx="2457.1" cy="715.5" r="7.4"/><circle cx="334.3" cy="339.9" r="7.4"/><circle cx="1445.1" cy="339.9" r="7.4"/><circle cx="1361.4" cy="593.2" r="7.4"/><circle cx="2472.2" cy="593.2" r="7.4"/><circle cx="1348.8" cy="671.8" r="7.4"/><circle cx="2459.6" cy="671.8" r="7.4"/><circle cx="280.0" cy="427.3" r="7.4"/><circle cx="1390.9" cy="427.3" r="7.4"/><circle cx="297.9" cy="296.2" r="7.4"/><circle cx="1408.7" cy="296.2" r="7.4"/><circle cx="277.8" cy="392.3" r="7.4"/><circle cx="1388.7" cy="392.3" r="7.4"/><circle cx="1383.7" cy="453.5" r="7.4"/><circle cx="2494.5" cy="453.5" r="7.4"/><circle cx="343.5" cy="357.4" r="7.4"/><circle cx="1454.4" cy="357.4" r="7.4"/><circle cx="334.0" cy="357.4" r="7.4"/><circle cx="1444.8" cy="357.4" r="7.4"/><circle cx="286.2" cy="322.4" r="7.4"/><circle cx="1397.1" cy="322.4" r="7.4"/><circle cx="357.6" cy="427.3" r="7.4"/><circle cx="1468.5" cy="427.3" r="7.4"/><circle cx="342.7" cy="401.1" r="7.4"/><circle cx="1453.5" cy="401.1" r="7.4"/><circle cx="1357.2" cy="628.2" r="7.4"/><circle cx="2468.0" cy="628.2" r="7.4"/><circle cx="1378.2" cy="462.2" r="7.4"/><circle cx="2489.0" cy="462.2" r="7.4"/><circle cx="309.5" cy="287.5" r="7.4"/><circle cx="1420.3" cy="287.5" r="7.4"/><circle cx="1356.2" cy="663.1" r="7.4"/><circle cx="2467.0" cy="663.1" r="7.4"/><circle cx="1369.7" cy="523.3" r="7.4"/><circle cx="2480.5" cy="523.3" r="7.4"/><circle cx="1337.1" cy="733.0" r="7.4"/><circle cx="2448.0" cy="733.0" r="7.4"/><circle cx="295.0" cy="331.2" r="7.4"/><circle cx="1405.8" cy="331.2" r="7.4"/><circle cx="1340.9" cy="706.8" r="7.4"/><circle cx="2451.8" cy="706.8" r="7.4"/><circle cx="1369.8" cy="505.9" r="7.4"/><circle cx="2480.6" cy="505.9" r="7.4"/><circle cx="290.1" cy="357.4" r="7.4"/><circle cx="1400.9" cy="357.4" r="7.4"/><circle cx="287.8" cy="339.9" r="7.4"/><circle cx="1398.7" cy="339.9" r="7.4"/><circle cx="279.9" cy="357.4" r="7.4"/><circle cx="1390.7" cy="357.4" r="7.4"/><circle cx="1350.2" cy="645.6" r="7.4"/><circle cx="2461.0" cy="645.6" r="7.4"/><circle cx="1367.7" cy="549.5" r="7.4"/><circle cx="2478.6" cy="549.5" r="7.4"/><circle cx="353.6" cy="409.8" r="7.4"/><circle cx="1464.5" cy="409.8" r="7.4"/><circle cx="1362.6" cy="558.3" r="7.4"/><circle cx="2473.4" cy="558.3" r="7.4"/><circle cx="348.5" cy="409.8" r="7.4"/><circle cx="1459.3" cy="409.8" r="7.4"/></g>
<g clip-path="url(#cb)" fill="#000"><circle cx="275.9" cy="1153.6" r="7.4"/><circle cx="1386.8" cy="1153.6" r="7.4"/><circle cx="273.7" cy="1189.9" r="7.4"/><circle cx="1384.6" cy="1189.9" r="7.4"/><circle cx="277.2" cy="1149.7" r="7.4"/><circle cx="1388.0" cy="1149.7" r="7.4"/><circle cx="278.4" cy="1145.6" r="7.4"/><circle cx="1389.2" cy="1145.6" r="7.4"/><circle cx="280.3" cy="1064.2" r="7.4"/><circle cx="1391.2" cy="1064.2" r="7.4"/><circle cx="280.8" cy="1081.6" r="7.4"/><circle cx="1391.7" cy="1081.6" r="7.4"/><circle cx="280.8" cy="1101.4" r="7.4"/><circle cx="1391.7" cy="1101.4" r="7.4"/><circle cx="282.1" cy="1101.0" r="7.4"/><circle cx="1392.9" cy="1101.0" r="7.4"/><circle cx="282.1" cy="1152.7" r="7.4"/><circle cx="1392.9" cy="1152.7" r="7.4"/><circle cx="284.5" cy="1099.8" r="7.4"/><circle cx="1395.4" cy="1099.8" r="7.4"/><circle cx="285.7" cy="1094.9" r="7.4"/><circle cx="1396.6" cy="1094.9" r="7.4"/><circle cx="289.4" cy="1143.2" r="7.4"/><circle cx="1400.3" cy="1143.2" r="7.4"/><circle cx="295.5" cy="1146.2" r="7.4"/><circle cx="1406.4" cy="1146.2" r="7.4"/><circle cx="296.3" cy="1198.9" r="7.4"/><circle cx="1407.1" cy="1198.9" r="7.4"/><circle cx="296.8" cy="1167.8" r="7.4"/><circle cx="1407.6" cy="1167.8" r="7.4"/><circle cx="299.2" cy="1166.6" r="7.4"/><circle cx="1410.1" cy="1166.6" r="7.4"/><circle cx="300.4" cy="1144.0" r="7.4"/><circle cx="1411.3" cy="1144.0" r="7.4"/><circle cx="302.2" cy="1109.6" r="7.4"/><circle cx="1413.0" cy="1109.6" r="7.4"/><circle cx="304.1" cy="1142.5" r="7.4"/><circle cx="1415.0" cy="1142.5" r="7.4"/><circle cx="306.1" cy="1167.1" r="7.4"/><circle cx="1416.9" cy="1167.1" r="7.4"/><circle cx="307.1" cy="1071.9" r="7.4"/><circle cx="1417.9" cy="1071.9" r="7.4"/><circle cx="307.8" cy="1131.6" r="7.4"/><circle cx="1418.6" cy="1131.6" r="7.4"/><circle cx="309.0" cy="1135.6" r="7.4"/><circle cx="1419.9" cy="1135.6" r="7.4"/><circle cx="312.0" cy="1151.1" r="7.4"/><circle cx="1422.8" cy="1151.1" r="7.4"/><circle cx="312.2" cy="1063.5" r="7.4"/><circle cx="1423.1" cy="1063.5" r="7.4"/><circle cx="314.4" cy="1082.5" r="7.4"/><circle cx="1425.3" cy="1082.5" r="7.4"/><circle cx="314.4" cy="1118.2" r="7.4"/><circle cx="1425.3" cy="1118.2" r="7.4"/><circle cx="315.1" cy="1145.7" r="7.4"/><circle cx="1426.0" cy="1145.7" r="7.4"/><circle cx="315.9" cy="1085.6" r="7.4"/><circle cx="1426.7" cy="1085.6" r="7.4"/><circle cx="315.9" cy="1101.5" r="7.4"/><circle cx="1426.7" cy="1101.5" r="7.4"/><circle cx="317.6" cy="1155.9" r="7.4"/><circle cx="1428.5" cy="1155.9" r="7.4"/><circle cx="318.8" cy="1103.2" r="7.4"/><circle cx="1429.7" cy="1103.2" r="7.4"/><circle cx="321.3" cy="1073.1" r="7.4"/><circle cx="1432.1" cy="1073.1" r="7.4"/><circle cx="321.3" cy="1140.7" r="7.4"/><circle cx="1432.1" cy="1140.7" r="7.4"/><circle cx="321.8" cy="1112.3" r="7.4"/><circle cx="1432.6" cy="1112.3" r="7.4"/><circle cx="324.2" cy="1093.7" r="7.4"/><circle cx="1435.1" cy="1093.7" r="7.4"/><circle cx="324.2" cy="1173.1" r="7.4"/><circle cx="1435.1" cy="1173.1" r="7.4"/><circle cx="325.7" cy="1075.9" r="7.4"/><circle cx="1436.5" cy="1075.9" r="7.4"/><circle cx="326.2" cy="1087.2" r="7.4"/><circle cx="1437.0" cy="1087.2" r="7.4"/><circle cx="326.2" cy="1142.9" r="7.4"/><circle cx="1437.0" cy="1142.9" r="7.4"/><circle cx="329.9" cy="1149.7" r="7.4"/><circle cx="1440.7" cy="1149.7" r="7.4"/><circle cx="330.6" cy="1092.9" r="7.4"/><circle cx="1441.4" cy="1092.9" r="7.4"/><circle cx="331.1" cy="1179.6" r="7.4"/><circle cx="1441.9" cy="1179.6" r="7.4"/><circle cx="332.3" cy="1106.2" r="7.4"/><circle cx="1443.2" cy="1106.2" r="7.4"/><circle cx="333.5" cy="1116.2" r="7.4"/><circle cx="1444.4" cy="1116.2" r="7.4"/><circle cx="334.8" cy="1162.0" r="7.4"/><circle cx="1445.6" cy="1162.0" r="7.4"/><circle cx="338.4" cy="1084.4" r="7.4"/><circle cx="1449.3" cy="1084.4" r="7.4"/><circle cx="341.6" cy="1071.0" r="7.4"/><circle cx="1452.5" cy="1071.0" r="7.4"/><circle cx="342.1" cy="1161.5" r="7.4"/><circle cx="1453.0" cy="1161.5" r="7.4"/><circle cx="342.1" cy="1165.5" r="7.4"/><circle cx="1453.0" cy="1165.5" r="7.4"/><circle cx="343.3" cy="1107.8" r="7.4"/><circle cx="1454.2" cy="1107.8" r="7.4"/><circle cx="344.6" cy="1141.4" r="7.4"/><circle cx="1455.4" cy="1141.4" r="7.4"/><circle cx="345.8" cy="1083.6" r="7.4"/><circle cx="1456.6" cy="1083.6" r="7.4"/><circle cx="348.2" cy="1115.2" r="7.4"/><circle cx="1459.1" cy="1115.2" r="7.4"/><circle cx="349.5" cy="1097.2" r="7.4"/><circle cx="1460.3" cy="1097.2" r="7.4"/><circle cx="350.7" cy="1146.7" r="7.4"/><circle cx="1461.5" cy="1146.7" r="7.4"/><circle cx="351.9" cy="1096.9" r="7.4"/><circle cx="1462.8" cy="1096.9" r="7.4"/><circle cx="351.9" cy="1164.5" r="7.4"/><circle cx="1462.8" cy="1164.5" r="7.4"/><circle cx="354.4" cy="1073.0" r="7.4"/><circle cx="1465.2" cy="1073.0" r="7.4"/><circle cx="356.8" cy="1084.8" r="7.4"/><circle cx="1467.7" cy="1084.8" r="7.4"/><circle cx="359.3" cy="1069.0" r="7.4"/><circle cx="1470.1" cy="1069.0" r="7.4"/><circle cx="359.3" cy="1148.4" r="7.4"/><circle cx="1470.1" cy="1148.4" r="7.4"/><circle cx="360.5" cy="1142.5" r="7.4"/><circle cx="1471.3" cy="1142.5" r="7.4"/><circle cx="361.7" cy="1081.0" r="7.4"/><circle cx="1472.6" cy="1081.0" r="7.4"/><circle cx="362.9" cy="1091.1" r="7.4"/><circle cx="1473.8" cy="1091.1" r="7.4"/><circle cx="362.9" cy="1099.0" r="7.4"/><circle cx="1473.8" cy="1099.0" r="7.4"/><circle cx="362.9" cy="1194.4" r="7.4"/><circle cx="1473.8" cy="1194.4" r="7.4"/><circle cx="364.2" cy="1085.3" r="7.4"/><circle cx="1475.0" cy="1085.3" r="7.4"/><circle cx="364.2" cy="1093.2" r="7.4"/><circle cx="1475.0" cy="1093.2" r="7.4"/><circle cx="365.4" cy="1099.4" r="7.4"/><circle cx="1476.2" cy="1099.4" r="7.4"/><circle cx="365.4" cy="1107.3" r="7.4"/><circle cx="1476.2" cy="1107.3" r="7.4"/><circle cx="366.6" cy="1101.6" r="7.4"/><circle cx="1477.5" cy="1101.6" r="7.4"/><circle cx="366.6" cy="1149.3" r="7.4"/><circle cx="1477.5" cy="1149.3" r="7.4"/><circle cx="366.6" cy="1169.1" r="7.4"/><circle cx="1477.5" cy="1169.1" r="7.4"/><circle cx="367.8" cy="1111.8" r="7.4"/><circle cx="1478.7" cy="1111.8" r="7.4"/><circle cx="367.8" cy="1139.6" r="7.4"/><circle cx="1478.7" cy="1139.6" r="7.4"/><circle cx="372.7" cy="1164.8" r="7.4"/><circle cx="1483.6" cy="1164.8" r="7.4"/><circle cx="374.7" cy="1198.1" r="7.4"/><circle cx="1485.6" cy="1198.1" r="7.4"/><circle cx="375.2" cy="1165.7" r="7.4"/><circle cx="1486.0" cy="1165.7" r="7.4"/><circle cx="377.6" cy="1107.2" r="7.4"/><circle cx="1488.5" cy="1107.2" r="7.4"/><circle cx="377.6" cy="1154.9" r="7.4"/><circle cx="1488.5" cy="1154.9" r="7.4"/><circle cx="381.3" cy="1083.2" r="7.4"/><circle cx="1492.2" cy="1083.2" r="7.4"/><circle cx="381.8" cy="1170.1" r="7.4"/><circle cx="1492.7" cy="1170.1" r="7.4"/><circle cx="382.6" cy="1133.6" r="7.4"/><circle cx="1493.4" cy="1133.6" r="7.4"/><circle cx="382.6" cy="1153.5" r="7.4"/><circle cx="1493.4" cy="1153.5" r="7.4"/><circle cx="382.6" cy="1157.5" r="7.4"/><circle cx="1493.4" cy="1157.5" r="7.4"/><circle cx="383.8" cy="1096.6" r="7.4"/><circle cx="1494.6" cy="1096.6" r="7.4"/><circle cx="384.5" cy="1187.3" r="7.4"/><circle cx="1495.4" cy="1187.3" r="7.4"/><circle cx="386.2" cy="1161.8" r="7.4"/><circle cx="1497.1" cy="1161.8" r="7.4"/><circle cx="387.5" cy="1140.8" r="7.4"/><circle cx="1498.3" cy="1140.8" r="7.4"/><circle cx="389.9" cy="1051.2" r="7.4"/><circle cx="1500.8" cy="1051.2" r="7.4"/><circle cx="389.9" cy="1098.9" r="7.4"/><circle cx="1500.8" cy="1098.9" r="7.4"/><circle cx="392.3" cy="1128.6" r="7.4"/><circle cx="1503.2" cy="1128.6" r="7.4"/><circle cx="393.6" cy="1135.6" r="7.4"/><circle cx="1504.4" cy="1135.6" r="7.4"/><circle cx="393.6" cy="1143.6" r="7.4"/><circle cx="1504.4" cy="1143.6" r="7.4"/><circle cx="396.0" cy="1110.0" r="7.4"/><circle cx="1506.9" cy="1110.0" r="7.4"/><circle cx="400.9" cy="1146.5" r="7.4"/><circle cx="1511.8" cy="1146.5" r="7.4"/><circle cx="402.2" cy="1137.8" r="7.4"/><circle cx="1513.0" cy="1137.8" r="7.4"/><circle cx="402.2" cy="1161.6" r="7.4"/><circle cx="1513.0" cy="1161.6" r="7.4"/><circle cx="402.2" cy="1165.6" r="7.4"/><circle cx="1513.0" cy="1165.6" r="7.4"/><circle cx="402.2" cy="1189.4" r="7.4"/><circle cx="1513.0" cy="1189.4" r="7.4"/><circle cx="403.4" cy="1153.0" r="7.4"/><circle cx="1514.2" cy="1153.0" r="7.4"/><circle cx="404.1" cy="1061.2" r="7.4"/><circle cx="1515.0" cy="1061.2" r="7.4"/><circle cx="405.8" cy="1111.9" r="7.4"/><circle cx="1516.7" cy="1111.9" r="7.4"/><circle cx="407.1" cy="1131.2" r="7.4"/><circle cx="1517.9" cy="1131.2" r="7.4"/><circle cx="407.1" cy="1143.1" r="7.4"/><circle cx="1517.9" cy="1143.1" r="7.4"/><circle cx="410.7" cy="1057.9" r="7.4"/><circle cx="1521.6" cy="1057.9" r="7.4"/><circle cx="410.7" cy="1133.4" r="7.4"/><circle cx="1521.6" cy="1133.4" r="7.4"/><circle cx="412.0" cy="1105.1" r="7.4"/><circle cx="1522.8" cy="1105.1" r="7.4"/><circle cx="412.0" cy="1164.7" r="7.4"/><circle cx="1522.8" cy="1164.7" r="7.4"/><circle cx="413.2" cy="1041.0" r="7.4"/><circle cx="1524.0" cy="1041.0" r="7.4"/><circle cx="416.9" cy="1055.6" r="7.4"/><circle cx="1527.7" cy="1055.6" r="7.4"/><circle cx="416.9" cy="1111.2" r="7.4"/><circle cx="1527.7" cy="1111.2" r="7.4"/><circle cx="416.9" cy="1143.0" r="7.4"/><circle cx="1527.7" cy="1143.0" r="7.4"/><circle cx="418.1" cy="1098.9" r="7.4"/><circle cx="1528.9" cy="1098.9" r="7.4"/><circle cx="418.6" cy="1063.0" r="7.4"/><circle cx="1529.4" cy="1063.0" r="7.4"/><circle cx="419.3" cy="1070.7" r="7.4"/><circle cx="1530.2" cy="1070.7" r="7.4"/><circle cx="419.3" cy="1106.5" r="7.4"/><circle cx="1530.2" cy="1106.5" r="7.4"/><circle cx="421.8" cy="1050.2" r="7.4"/><circle cx="1532.6" cy="1050.2" r="7.4"/><circle cx="421.8" cy="1129.6" r="7.4"/><circle cx="1532.6" cy="1129.6" r="7.4"/><circle cx="421.8" cy="1145.5" r="7.4"/><circle cx="1532.6" cy="1145.5" r="7.4"/><circle cx="425.4" cy="1093.0" r="7.4"/><circle cx="1536.3" cy="1093.0" r="7.4"/><circle cx="425.4" cy="1100.9" r="7.4"/><circle cx="1536.3" cy="1100.9" r="7.4"/><circle cx="425.4" cy="1136.7" r="7.4"/><circle cx="1536.3" cy="1136.7" r="7.4"/><circle cx="426.7" cy="1148.3" r="7.4"/><circle cx="1537.5" cy="1148.3" r="7.4"/><circle cx="427.9" cy="1076.6" r="7.4"/><circle cx="1538.7" cy="1076.6" r="7.4"/><circle cx="429.1" cy="1108.1" r="7.4"/><circle cx="1540.0" cy="1108.1" r="7.4"/><circle cx="429.1" cy="1112.1" r="7.4"/><circle cx="1540.0" cy="1112.1" r="7.4"/><circle cx="429.1" cy="1139.9" r="7.4"/><circle cx="1540.0" cy="1139.9" r="7.4"/><circle cx="431.6" cy="1103.8" r="7.4"/><circle cx="1542.4" cy="1103.8" r="7.4"/><circle cx="431.6" cy="1131.6" r="7.4"/><circle cx="1542.4" cy="1131.6" r="7.4"/><circle cx="432.8" cy="1143.3" r="7.4"/><circle cx="1543.6" cy="1143.3" r="7.4"/><circle cx="434.0" cy="1178.9" r="7.4"/><circle cx="1544.9" cy="1178.9" r="7.4"/><circle cx="435.2" cy="1115.2" r="7.4"/><circle cx="1546.1" cy="1115.2" r="7.4"/><circle cx="435.2" cy="1154.9" r="7.4"/><circle cx="1546.1" cy="1154.9" r="7.4"/><circle cx="436.5" cy="1083.3" r="7.4"/><circle cx="1547.3" cy="1083.3" r="7.4"/><circle cx="436.5" cy="1087.2" r="7.4"/><circle cx="1547.3" cy="1087.2" r="7.4"/><circle cx="436.5" cy="1146.8" r="7.4"/><circle cx="1547.3" cy="1146.8" r="7.4"/><circle cx="440.1" cy="1138.6" r="7.4"/><circle cx="1551.0" cy="1138.6" r="7.4"/><circle cx="442.6" cy="1047.0" r="7.4"/><circle cx="1553.4" cy="1047.0" r="7.4"/><circle cx="442.6" cy="1130.5" r="7.4"/><circle cx="1553.4" cy="1130.5" r="7.4"/><circle cx="443.8" cy="1094.6" r="7.4"/><circle cx="1554.7" cy="1094.6" r="7.4"/><circle cx="443.8" cy="1142.3" r="7.4"/><circle cx="1554.7" cy="1142.3" r="7.4"/><circle cx="445.0" cy="1070.7" r="7.4"/><circle cx="1555.9" cy="1070.7" r="7.4"/><circle cx="445.0" cy="1102.5" r="7.4"/><circle cx="1555.9" cy="1102.5" r="7.4"/><circle cx="447.5" cy="1062.7" r="7.4"/><circle cx="1558.4" cy="1062.7" r="7.4"/><circle cx="447.5" cy="1098.5" r="7.4"/><circle cx="1558.4" cy="1098.5" r="7.4"/><circle cx="448.7" cy="1114.4" r="7.4"/><circle cx="1559.6" cy="1114.4" r="7.4"/><circle cx="449.9" cy="1034.9" r="7.4"/><circle cx="1560.8" cy="1034.9" r="7.4"/><circle cx="449.9" cy="1050.8" r="7.4"/><circle cx="1560.8" cy="1050.8" r="7.4"/><circle cx="451.2" cy="1030.9" r="7.4"/><circle cx="1562.0" cy="1030.9" r="7.4"/><circle cx="451.2" cy="1082.6" r="7.4"/><circle cx="1562.0" cy="1082.6" r="7.4"/><circle cx="452.4" cy="1146.2" r="7.4"/><circle cx="1563.3" cy="1146.2" r="7.4"/><circle cx="454.9" cy="1098.5" r="7.4"/><circle cx="1565.7" cy="1098.5" r="7.4"/><circle cx="456.1" cy="1035.0" r="7.4"/><circle cx="1566.9" cy="1035.0" r="7.4"/><circle cx="456.1" cy="1046.9" r="7.4"/><circle cx="1566.9" cy="1046.9" r="7.4"/><circle cx="456.1" cy="1086.6" r="7.4"/><circle cx="1566.9" cy="1086.6" r="7.4"/><circle cx="458.5" cy="1090.7" r="7.4"/><circle cx="1569.4" cy="1090.7" r="7.4"/><circle cx="458.5" cy="1110.5" r="7.4"/><circle cx="1569.4" cy="1110.5" r="7.4"/><circle cx="459.3" cy="1162.2" r="7.4"/><circle cx="1570.1" cy="1162.2" r="7.4"/><circle cx="459.8" cy="1138.4" r="7.4"/><circle cx="1570.6" cy="1138.4" r="7.4"/><circle cx="461.0" cy="1106.7" r="7.4"/><circle cx="1571.8" cy="1106.7" r="7.4"/><circle cx="461.5" cy="1170.3" r="7.4"/><circle cx="1572.3" cy="1170.3" r="7.4"/><circle cx="462.2" cy="1154.4" r="7.4"/><circle cx="1573.1" cy="1154.4" r="7.4"/><circle cx="463.4" cy="1146.6" r="7.4"/><circle cx="1574.3" cy="1146.6" r="7.4"/><circle cx="464.7" cy="1198.3" r="7.4"/><circle cx="1575.5" cy="1198.3" r="7.4"/><circle cx="465.9" cy="1142.8" r="7.4"/><circle cx="1576.7" cy="1142.8" r="7.4"/><circle cx="467.1" cy="1134.9" r="7.4"/><circle cx="1578.0" cy="1134.9" r="7.4"/><circle cx="468.3" cy="1111.1" r="7.4"/><circle cx="1579.2" cy="1111.1" r="7.4"/><circle cx="470.8" cy="1075.6" r="7.4"/><circle cx="1581.6" cy="1075.6" r="7.4"/><circle cx="471.3" cy="1179.0" r="7.4"/><circle cx="1582.1" cy="1179.0" r="7.4"/><circle cx="472.0" cy="1087.6" r="7.4"/><circle cx="1582.9" cy="1087.6" r="7.4"/><circle cx="472.0" cy="1115.4" r="7.4"/><circle cx="1582.9" cy="1115.4" r="7.4"/><circle cx="473.2" cy="1151.3" r="7.4"/><circle cx="1584.1" cy="1151.3" r="7.4"/><circle cx="475.7" cy="1139.6" r="7.4"/><circle cx="1586.5" cy="1139.6" r="7.4"/><circle cx="476.2" cy="1068.1" r="7.4"/><circle cx="1587.0" cy="1068.1" r="7.4"/><circle cx="476.9" cy="1100.0" r="7.4"/><circle cx="1587.8" cy="1100.0" r="7.4"/><circle cx="478.1" cy="1159.8" r="7.4"/><circle cx="1589.0" cy="1159.8" r="7.4"/><circle cx="478.9" cy="1076.4" r="7.4"/><circle cx="1589.7" cy="1076.4" r="7.4"/><circle cx="479.4" cy="1171.8" r="7.4"/><circle cx="1590.2" cy="1171.8" r="7.4"/><circle cx="483.0" cy="1108.6" r="7.4"/><circle cx="1593.9" cy="1108.6" r="7.4"/><circle cx="484.3" cy="1136.6" r="7.4"/><circle cx="1595.1" cy="1136.6" r="7.4"/><circle cx="484.3" cy="1152.5" r="7.4"/><circle cx="1595.1" cy="1152.5" r="7.4"/><circle cx="484.3" cy="1164.4" r="7.4"/><circle cx="1595.1" cy="1164.4" r="7.4"/><circle cx="486.7" cy="1089.2" r="7.4"/><circle cx="1597.6" cy="1089.2" r="7.4"/><circle cx="490.4" cy="1117.5" r="7.4"/><circle cx="1601.2" cy="1117.5" r="7.4"/><circle cx="490.4" cy="1141.3" r="7.4"/><circle cx="1601.2" cy="1141.3" r="7.4"/><circle cx="490.4" cy="1145.3" r="7.4"/><circle cx="1601.2" cy="1145.3" r="7.4"/><circle cx="491.6" cy="1093.8" r="7.4"/><circle cx="1602.5" cy="1093.8" r="7.4"/><circle cx="492.8" cy="1129.7" r="7.4"/><circle cx="1603.7" cy="1129.7" r="7.4"/><circle cx="495.3" cy="1114.2" r="7.4"/><circle cx="1606.1" cy="1114.2" r="7.4"/><circle cx="495.3" cy="1138.0" r="7.4"/><circle cx="1606.1" cy="1138.0" r="7.4"/><circle cx="496.5" cy="1150.1" r="7.4"/><circle cx="1607.4" cy="1150.1" r="7.4"/><circle cx="499.0" cy="1174.3" r="7.4"/><circle cx="1609.8" cy="1174.3" r="7.4"/><circle cx="502.6" cy="1131.1" r="7.4"/><circle cx="1613.5" cy="1131.1" r="7.4"/><circle cx="502.6" cy="1162.8" r="7.4"/><circle cx="1613.5" cy="1162.8" r="7.4"/><circle cx="503.9" cy="1155.1" r="7.4"/><circle cx="1614.7" cy="1155.1" r="7.4"/><circle cx="505.1" cy="1139.3" r="7.4"/><circle cx="1616.0" cy="1139.3" r="7.4"/><circle cx="507.5" cy="1127.8" r="7.4"/><circle cx="1618.4" cy="1127.8" r="7.4"/><circle cx="508.8" cy="1088.2" r="7.4"/><circle cx="1619.6" cy="1088.2" r="7.4"/><circle cx="510.0" cy="1132.1" r="7.4"/><circle cx="1620.8" cy="1132.1" r="7.4"/><circle cx="510.0" cy="1144.0" r="7.4"/><circle cx="1620.8" cy="1144.0" r="7.4"/><circle cx="512.5" cy="1116.6" r="7.4"/><circle cx="1623.3" cy="1116.6" r="7.4"/><circle cx="514.9" cy="1105.0" r="7.4"/><circle cx="1625.7" cy="1105.0" r="7.4"/><circle cx="518.6" cy="1077.7" r="7.4"/><circle cx="1629.4" cy="1077.7" r="7.4"/><circle cx="518.6" cy="1141.3" r="7.4"/><circle cx="1629.4" cy="1141.3" r="7.4"/><circle cx="519.8" cy="1177.2" r="7.4"/><circle cx="1630.7" cy="1177.2" r="7.4"/><circle cx="521.0" cy="1066.1" r="7.4"/><circle cx="1631.9" cy="1066.1" r="7.4"/><circle cx="522.3" cy="1153.7" r="7.4"/><circle cx="1633.1" cy="1153.7" r="7.4"/><circle cx="522.3" cy="1173.6" r="7.4"/><circle cx="1633.1" cy="1173.6" r="7.4"/><circle cx="524.7" cy="1102.4" r="7.4"/><circle cx="1635.6" cy="1102.4" r="7.4"/><circle cx="526.4" cy="1170.2" r="7.4"/><circle cx="1637.3" cy="1170.2" r="7.4"/><circle cx="528.4" cy="1067.2" r="7.4"/><circle cx="1639.2" cy="1067.2" r="7.4"/><circle cx="528.4" cy="1182.4" r="7.4"/><circle cx="1639.2" cy="1182.4" r="7.4"/><circle cx="529.6" cy="1115.1" r="7.4"/><circle cx="1640.5" cy="1115.1" r="7.4"/><circle cx="529.6" cy="1150.8" r="7.4"/><circle cx="1640.5" cy="1150.8" r="7.4"/><circle cx="530.8" cy="1099.3" r="7.4"/><circle cx="1641.7" cy="1099.3" r="7.4"/><circle cx="532.1" cy="1111.4" r="7.4"/><circle cx="1642.9" cy="1111.4" r="7.4"/><circle cx="532.1" cy="1135.3" r="7.4"/><circle cx="1642.9" cy="1135.3" r="7.4"/><circle cx="534.5" cy="1091.9" r="7.4"/><circle cx="1645.4" cy="1091.9" r="7.4"/><circle cx="534.5" cy="1147.6" r="7.4"/><circle cx="1645.4" cy="1147.6" r="7.4"/><circle cx="537.0" cy="1104.2" r="7.4"/><circle cx="1647.8" cy="1104.2" r="7.4"/><circle cx="538.2" cy="1140.1" r="7.4"/><circle cx="1649.0" cy="1140.1" r="7.4"/><circle cx="539.4" cy="1044.9" r="7.4"/><circle cx="1650.3" cy="1044.9" r="7.4"/><circle cx="539.4" cy="1152.2" r="7.4"/><circle cx="1650.3" cy="1152.2" r="7.4"/><circle cx="541.9" cy="1132.7" r="7.4"/><circle cx="1652.7" cy="1132.7" r="7.4"/><circle cx="543.1" cy="1156.7" r="7.4"/><circle cx="1653.9" cy="1156.7" r="7.4"/><circle cx="543.1" cy="1172.6" r="7.4"/><circle cx="1653.9" cy="1172.6" r="7.4"/><circle cx="545.5" cy="1113.3" r="7.4"/><circle cx="1656.4" cy="1113.3" r="7.4"/><circle cx="545.5" cy="1129.2" r="7.4"/><circle cx="1656.4" cy="1129.2" r="7.4"/><circle cx="545.5" cy="1188.9" r="7.4"/><circle cx="1656.4" cy="1188.9" r="7.4"/><circle cx="546.3" cy="1069.7" r="7.4"/><circle cx="1657.1" cy="1069.7" r="7.4"/><circle cx="549.2" cy="1165.5" r="7.4"/><circle cx="1660.1" cy="1165.5" r="7.4"/><circle cx="551.7" cy="1173.8" r="7.4"/><circle cx="1662.5" cy="1173.8" r="7.4"/><circle cx="552.9" cy="1106.4" r="7.4"/><circle cx="1663.7" cy="1106.4" r="7.4"/><circle cx="554.1" cy="1114.5" r="7.4"/><circle cx="1665.0" cy="1114.5" r="7.4"/><circle cx="554.1" cy="1190.0" r="7.4"/><circle cx="1665.0" cy="1190.0" r="7.4"/><circle cx="555.3" cy="1146.5" r="7.4"/><circle cx="1666.2" cy="1146.5" r="7.4"/><circle cx="555.3" cy="1194.2" r="7.4"/><circle cx="1666.2" cy="1194.2" r="7.4"/><circle cx="556.6" cy="1150.6" r="7.4"/><circle cx="1667.4" cy="1150.6" r="7.4"/><circle cx="557.8" cy="1158.7" r="7.4"/><circle cx="1668.6" cy="1158.7" r="7.4"/><circle cx="559.0" cy="1111.2" r="7.4"/><circle cx="1669.9" cy="1111.2" r="7.4"/><circle cx="560.2" cy="1095.5" r="7.4"/><circle cx="1671.1" cy="1095.5" r="7.4"/><circle cx="560.2" cy="1155.1" r="7.4"/><circle cx="1671.1" cy="1155.1" r="7.4"/><circle cx="562.7" cy="1087.9" r="7.4"/><circle cx="1673.5" cy="1087.9" r="7.4"/><circle cx="563.9" cy="1084.0" r="7.4"/><circle cx="1674.8" cy="1084.0" r="7.4"/><circle cx="563.9" cy="1107.9" r="7.4"/><circle cx="1674.8" cy="1107.9" r="7.4"/><circle cx="563.9" cy="1135.7" r="7.4"/><circle cx="1674.8" cy="1135.7" r="7.4"/><circle cx="563.9" cy="1147.6" r="7.4"/><circle cx="1674.8" cy="1147.6" r="7.4"/><circle cx="568.8" cy="1164.2" r="7.4"/><circle cx="1679.7" cy="1164.2" r="7.4"/><circle cx="569.3" cy="1080.8" r="7.4"/><circle cx="1680.2" cy="1080.8" r="7.4"/><circle cx="570.1" cy="1072.9" r="7.4"/><circle cx="1680.9" cy="1072.9" r="7.4"/><circle cx="570.1" cy="1096.8" r="7.4"/><circle cx="1680.9" cy="1096.8" r="7.4"/><circle cx="570.1" cy="1156.4" r="7.4"/><circle cx="1680.9" cy="1156.4" r="7.4"/><circle cx="571.3" cy="1124.7" r="7.4"/><circle cx="1682.1" cy="1124.7" r="7.4"/><circle cx="572.5" cy="1101.0" r="7.4"/><circle cx="1683.3" cy="1101.0" r="7.4"/><circle cx="576.2" cy="1109.4" r="7.4"/><circle cx="1687.0" cy="1109.4" r="7.4"/><circle cx="576.2" cy="1137.3" r="7.4"/><circle cx="1687.0" cy="1137.3" r="7.4"/><circle cx="576.2" cy="1141.2" r="7.4"/><circle cx="1687.0" cy="1141.2" r="7.4"/><circle cx="581.1" cy="1098.1" r="7.4"/><circle cx="1691.9" cy="1098.1" r="7.4"/><circle cx="583.5" cy="1102.4" r="7.4"/><circle cx="1694.4" cy="1102.4" r="7.4"/><circle cx="584.8" cy="1094.6" r="7.4"/><circle cx="1695.6" cy="1094.6" r="7.4"/><circle cx="586.0" cy="1110.6" r="7.4"/><circle cx="1696.8" cy="1110.6" r="7.4"/><circle cx="586.0" cy="1138.5" r="7.4"/><circle cx="1696.8" cy="1138.5" r="7.4"/><circle cx="588.4" cy="1114.9" r="7.4"/><circle cx="1699.3" cy="1114.9" r="7.4"/><circle cx="588.4" cy="1126.8" r="7.4"/><circle cx="1699.3" cy="1126.8" r="7.4"/><circle cx="589.7" cy="1075.3" r="7.4"/><circle cx="1700.5" cy="1075.3" r="7.4"/><circle cx="589.7" cy="1150.8" r="7.4"/><circle cx="1700.5" cy="1150.8" r="7.4"/><circle cx="592.1" cy="1131.2" r="7.4"/><circle cx="1703.0" cy="1131.2" r="7.4"/><circle cx="592.1" cy="1147.1" r="7.4"/><circle cx="1703.0" cy="1147.1" r="7.4"/><circle cx="594.6" cy="1139.5" r="7.4"/><circle cx="1705.4" cy="1139.5" r="7.4"/><circle cx="595.8" cy="1072.0" r="7.4"/><circle cx="1706.6" cy="1072.0" r="7.4"/><circle cx="597.0" cy="1076.2" r="7.4"/><circle cx="1707.9" cy="1076.2" r="7.4"/><circle cx="597.0" cy="1092.0" r="7.4"/><circle cx="1707.9" cy="1092.0" r="7.4"/><circle cx="597.0" cy="1115.9" r="7.4"/><circle cx="1707.9" cy="1115.9" r="7.4"/><circle cx="600.7" cy="1160.0" r="7.4"/><circle cx="1711.5" cy="1160.0" r="7.4"/><circle cx="601.4" cy="1168.0" r="7.4"/><circle cx="1712.3" cy="1168.0" r="7.4"/><circle cx="601.9" cy="1088.6" r="7.4"/><circle cx="1712.8" cy="1088.6" r="7.4"/><circle cx="603.1" cy="1096.7" r="7.4"/><circle cx="1714.0" cy="1096.7" r="7.4"/><circle cx="603.1" cy="1104.6" r="7.4"/><circle cx="1714.0" cy="1104.6" r="7.4"/><circle cx="603.1" cy="1124.5" r="7.4"/><circle cx="1714.0" cy="1124.5" r="7.4"/><circle cx="604.4" cy="1065.0" r="7.4"/><circle cx="1715.2" cy="1065.0" r="7.4"/><circle cx="605.6" cy="1093.0" r="7.4"/><circle cx="1716.4" cy="1093.0" r="7.4"/><circle cx="608.0" cy="1133.0" r="7.4"/><circle cx="1718.9" cy="1133.0" r="7.4"/><circle cx="610.5" cy="1153.1" r="7.4"/><circle cx="1721.3" cy="1153.1" r="7.4"/><circle cx="611.7" cy="1113.5" r="7.4"/><circle cx="1722.6" cy="1113.5" r="7.4"/><circle cx="612.9" cy="1054.0" r="7.4"/><circle cx="1723.8" cy="1054.0" r="7.4"/><circle cx="612.9" cy="1097.7" r="7.4"/><circle cx="1723.8" cy="1097.7" r="7.4"/><circle cx="612.9" cy="1125.6" r="7.4"/><circle cx="1723.8" cy="1125.6" r="7.4"/><circle cx="615.4" cy="1078.1" r="7.4"/><circle cx="1726.2" cy="1078.1" r="7.4"/><circle cx="615.4" cy="1141.7" r="7.4"/><circle cx="1726.2" cy="1141.7" r="7.4"/><circle cx="616.6" cy="1185.6" r="7.4"/><circle cx="1727.5" cy="1185.6" r="7.4"/><circle cx="619.1" cy="1150.0" r="7.4"/><circle cx="1729.9" cy="1150.0" r="7.4"/><circle cx="621.5" cy="1170.2" r="7.4"/><circle cx="1732.4" cy="1170.2" r="7.4"/><circle cx="622.7" cy="1126.6" r="7.4"/><circle cx="1733.6" cy="1126.6" r="7.4"/><circle cx="624.0" cy="1086.9" r="7.4"/><circle cx="1734.8" cy="1086.9" r="7.4"/><circle cx="625.2" cy="1142.7" r="7.4"/><circle cx="1736.0" cy="1142.7" r="7.4"/><circle cx="626.4" cy="1079.2" r="7.4"/><circle cx="1737.3" cy="1079.2" r="7.4"/><circle cx="627.7" cy="1119.1" r="7.4"/><circle cx="1738.5" cy="1119.1" r="7.4"/><circle cx="631.3" cy="1091.6" r="7.4"/><circle cx="1742.2" cy="1091.6" r="7.4"/><circle cx="632.5" cy="1083.8" r="7.4"/><circle cx="1743.4" cy="1083.8" r="7.4"/><circle cx="632.5" cy="1135.5" r="7.4"/><circle cx="1743.4" cy="1135.5" r="7.4"/><circle cx="632.5" cy="1143.4" r="7.4"/><circle cx="1743.4" cy="1143.4" r="7.4"/><circle cx="635.0" cy="1151.6" r="7.4"/><circle cx="1745.9" cy="1151.6" r="7.4"/><circle cx="636.2" cy="1127.9" r="7.4"/><circle cx="1747.1" cy="1127.9" r="7.4"/><circle cx="636.2" cy="1175.5" r="7.4"/><circle cx="1747.1" cy="1175.5" r="7.4"/><circle cx="638.7" cy="1163.9" r="7.4"/><circle cx="1749.5" cy="1163.9" r="7.4"/><circle cx="642.4" cy="1108.6" r="7.4"/><circle cx="1753.2" cy="1108.6" r="7.4"/><circle cx="642.4" cy="1116.5" r="7.4"/><circle cx="1753.2" cy="1116.5" r="7.4"/><circle cx="643.6" cy="1176.2" r="7.4"/><circle cx="1754.4" cy="1176.2" r="7.4"/><circle cx="644.8" cy="1073.0" r="7.4"/><circle cx="1755.7" cy="1073.0" r="7.4"/><circle cx="646.0" cy="1077.1" r="7.4"/><circle cx="1756.9" cy="1077.1" r="7.4"/><circle cx="646.0" cy="1172.5" r="7.4"/><circle cx="1756.9" cy="1172.5" r="7.4"/><circle cx="649.7" cy="1113.2" r="7.4"/><circle cx="1760.6" cy="1113.2" r="7.4"/><circle cx="650.2" cy="1220.5" r="7.4"/><circle cx="1761.1" cy="1220.5" r="7.4"/><circle cx="652.2" cy="1101.5" r="7.4"/><circle cx="1763.0" cy="1101.5" r="7.4"/><circle cx="652.2" cy="1109.4" r="7.4"/><circle cx="1763.0" cy="1109.4" r="7.4"/><circle cx="652.2" cy="1125.3" r="7.4"/><circle cx="1763.0" cy="1125.3" r="7.4"/><circle cx="653.4" cy="1065.8" r="7.4"/><circle cx="1764.2" cy="1065.8" r="7.4"/><circle cx="654.6" cy="1169.2" r="7.4"/><circle cx="1765.5" cy="1169.2" r="7.4"/><circle cx="657.1" cy="1093.9" r="7.4"/><circle cx="1767.9" cy="1093.9" r="7.4"/><circle cx="657.1" cy="1137.6" r="7.4"/><circle cx="1767.9" cy="1137.6" r="7.4"/><circle cx="658.3" cy="1082.1" r="7.4"/><circle cx="1769.1" cy="1082.1" r="7.4"/><circle cx="658.3" cy="1145.7" r="7.4"/><circle cx="1769.1" cy="1145.7" r="7.4"/><circle cx="663.7" cy="1074.6" r="7.4"/><circle cx="1774.5" cy="1074.6" r="7.4"/><circle cx="664.9" cy="1102.5" r="7.4"/><circle cx="1775.7" cy="1102.5" r="7.4"/><circle cx="664.9" cy="1142.3" r="7.4"/><circle cx="1775.7" cy="1142.3" r="7.4"/><circle cx="667.4" cy="1134.5" r="7.4"/><circle cx="1778.2" cy="1134.5" r="7.4"/><circle cx="669.8" cy="1138.7" r="7.4"/><circle cx="1780.7" cy="1138.7" r="7.4"/><circle cx="672.3" cy="1099.1" r="7.4"/><circle cx="1783.1" cy="1099.1" r="7.4"/><circle cx="673.5" cy="1115.1" r="7.4"/><circle cx="1784.3" cy="1115.1" r="7.4"/><circle cx="675.4" cy="1067.6" r="7.4"/><circle cx="1786.3" cy="1067.6" r="7.4"/><circle cx="675.9" cy="1107.4" r="7.4"/><circle cx="1786.8" cy="1107.4" r="7.4"/><circle cx="675.9" cy="1135.2" r="7.4"/><circle cx="1786.8" cy="1135.2" r="7.4"/><circle cx="677.2" cy="1131.3" r="7.4"/><circle cx="1788.0" cy="1131.3" r="7.4"/><circle cx="682.1" cy="1151.5" r="7.4"/><circle cx="1792.9" cy="1151.5" r="7.4"/><circle cx="683.3" cy="1139.7" r="7.4"/><circle cx="1794.1" cy="1139.7" r="7.4"/><circle cx="684.5" cy="1104.0" r="7.4"/><circle cx="1795.4" cy="1104.0" r="7.4"/><circle cx="688.2" cy="1100.3" r="7.4"/><circle cx="1799.0" cy="1100.3" r="7.4"/><circle cx="688.2" cy="1112.3" r="7.4"/><circle cx="1799.0" cy="1112.3" r="7.4"/><circle cx="688.2" cy="1152.0" r="7.4"/><circle cx="1799.0" cy="1152.0" r="7.4"/><circle cx="689.4" cy="1148.1" r="7.4"/><circle cx="1800.3" cy="1148.1" r="7.4"/><circle cx="691.9" cy="1132.4" r="7.4"/><circle cx="1802.7" cy="1132.4" r="7.4"/><circle cx="694.3" cy="1108.7" r="7.4"/><circle cx="1805.2" cy="1108.7" r="7.4"/><circle cx="696.3" cy="1089.0" r="7.4"/><circle cx="1807.1" cy="1089.0" r="7.4"/><circle cx="698.0" cy="1077.2" r="7.4"/><circle cx="1808.8" cy="1077.2" r="7.4"/><circle cx="699.2" cy="1041.5" r="7.4"/><circle cx="1810.1" cy="1041.5" r="7.4"/><circle cx="699.2" cy="1144.8" r="7.4"/><circle cx="1810.1" cy="1144.8" r="7.4"/><circle cx="700.4" cy="1117.1" r="7.4"/><circle cx="1811.3" cy="1117.1" r="7.4"/><circle cx="700.4" cy="1160.8" r="7.4"/><circle cx="1811.3" cy="1160.8" r="7.4"/><circle cx="701.2" cy="1081.4" r="7.4"/><circle cx="1812.0" cy="1081.4" r="7.4"/><circle cx="704.1" cy="1089.5" r="7.4"/><circle cx="1815.0" cy="1089.5" r="7.4"/><circle cx="705.8" cy="1157.2" r="7.4"/><circle cx="1816.7" cy="1157.2" r="7.4"/><circle cx="706.6" cy="1097.6" r="7.4"/><circle cx="1817.4" cy="1097.6" r="7.4"/><circle cx="709.0" cy="1141.5" r="7.4"/><circle cx="1819.9" cy="1141.5" r="7.4"/><circle cx="710.2" cy="1101.9" r="7.4"/><circle cx="1821.1" cy="1101.9" r="7.4"/><circle cx="711.5" cy="1161.5" r="7.4"/><circle cx="1822.3" cy="1161.5" r="7.4"/><circle cx="712.2" cy="1062.2" r="7.4"/><circle cx="1823.1" cy="1062.2" r="7.4"/><circle cx="712.7" cy="1149.7" r="7.4"/><circle cx="1823.5" cy="1149.7" r="7.4"/><circle cx="713.4" cy="1173.6" r="7.4"/><circle cx="1824.3" cy="1173.6" r="7.4"/><circle cx="713.9" cy="1106.1" r="7.4"/><circle cx="1824.8" cy="1106.1" r="7.4"/><circle cx="715.2" cy="1130.0" r="7.4"/><circle cx="1826.0" cy="1130.0" r="7.4"/><circle cx="719.6" cy="1074.6" r="7.4"/><circle cx="1830.4" cy="1074.6" r="7.4"/><circle cx="719.6" cy="1078.6" r="7.4"/><circle cx="1830.4" cy="1078.6" r="7.4"/><circle cx="720.1" cy="1114.4" r="7.4"/><circle cx="1830.9" cy="1114.4" r="7.4"/><circle cx="722.5" cy="1134.4" r="7.4"/><circle cx="1833.3" cy="1134.4" r="7.4"/><circle cx="722.5" cy="1146.4" r="7.4"/><circle cx="1833.3" cy="1146.4" r="7.4"/><circle cx="727.4" cy="1138.7" r="7.4"/><circle cx="1838.3" cy="1138.7" r="7.4"/><circle cx="727.4" cy="1154.6" r="7.4"/><circle cx="1838.3" cy="1154.6" r="7.4"/><circle cx="728.1" cy="1095.0" r="7.4"/><circle cx="1839.0" cy="1095.0" r="7.4"/><circle cx="728.1" cy="1114.9" r="7.4"/><circle cx="1839.0" cy="1114.9" r="7.4"/><circle cx="730.6" cy="1071.4" r="7.4"/><circle cx="1841.4" cy="1071.4" r="7.4"/><circle cx="731.1" cy="1107.1" r="7.4"/><circle cx="1841.9" cy="1107.1" r="7.4"/><circle cx="731.1" cy="1170.7" r="7.4"/><circle cx="1841.9" cy="1170.7" r="7.4"/><circle cx="733.5" cy="1131.1" r="7.4"/><circle cx="1844.4" cy="1131.1" r="7.4"/><circle cx="736.0" cy="1079.6" r="7.4"/><circle cx="1846.8" cy="1079.6" r="7.4"/><circle cx="736.5" cy="1175.0" r="7.4"/><circle cx="1847.3" cy="1175.0" r="7.4"/><circle cx="738.4" cy="1135.4" r="7.4"/><circle cx="1849.3" cy="1135.4" r="7.4"/><circle cx="740.4" cy="1167.3" r="7.4"/><circle cx="1851.2" cy="1167.3" r="7.4"/><circle cx="744.1" cy="1076.1" r="7.4"/><circle cx="1854.9" cy="1076.1" r="7.4"/><circle cx="744.6" cy="1119.9" r="7.4"/><circle cx="1855.4" cy="1119.9" r="7.4"/><circle cx="747.0" cy="1159.8" r="7.4"/><circle cx="1857.9" cy="1159.8" r="7.4"/><circle cx="749.5" cy="1128.1" r="7.4"/><circle cx="1860.3" cy="1128.1" r="7.4"/><circle cx="751.2" cy="1108.3" r="7.4"/><circle cx="1862.0" cy="1108.3" r="7.4"/><circle cx="753.1" cy="1160.1" r="7.4"/><circle cx="1864.0" cy="1160.1" r="7.4"/><circle cx="759.3" cy="1037.2" r="7.4"/><circle cx="1870.1" cy="1037.2" r="7.4"/><circle cx="760.5" cy="1148.6" r="7.4"/><circle cx="1871.3" cy="1148.6" r="7.4"/><circle cx="761.7" cy="1132.8" r="7.4"/><circle cx="1872.6" cy="1132.8" r="7.4"/><circle cx="762.9" cy="1081.2" r="7.4"/><circle cx="1873.8" cy="1081.2" r="7.4"/><circle cx="767.4" cy="1105.2" r="7.4"/><circle cx="1878.2" cy="1105.2" r="7.4"/><circle cx="767.8" cy="1089.4" r="7.4"/><circle cx="1878.7" cy="1089.4" r="7.4"/><circle cx="767.8" cy="1168.9" r="7.4"/><circle cx="1878.7" cy="1168.9" r="7.4"/><circle cx="769.1" cy="1133.2" r="7.4"/><circle cx="1879.9" cy="1133.2" r="7.4"/><circle cx="770.3" cy="1081.6" r="7.4"/><circle cx="1881.1" cy="1081.6" r="7.4"/><circle cx="773.2" cy="1169.1" r="7.4"/><circle cx="1884.1" cy="1169.1" r="7.4"/><circle cx="774.0" cy="1145.3" r="7.4"/><circle cx="1884.8" cy="1145.3" r="7.4"/><circle cx="775.2" cy="1093.7" r="7.4"/><circle cx="1886.0" cy="1093.7" r="7.4"/><circle cx="776.4" cy="1161.4" r="7.4"/><circle cx="1887.3" cy="1161.4" r="7.4"/><circle cx="780.1" cy="1078.1" r="7.4"/><circle cx="1891.0" cy="1078.1" r="7.4"/><circle cx="780.1" cy="1102.0" r="7.4"/><circle cx="1891.0" cy="1102.0" r="7.4"/><circle cx="780.6" cy="1090.1" r="7.4"/><circle cx="1891.4" cy="1090.1" r="7.4"/><circle cx="781.3" cy="1145.7" r="7.4"/><circle cx="1892.2" cy="1145.7" r="7.4"/><circle cx="783.3" cy="1074.3" r="7.4"/><circle cx="1894.1" cy="1074.3" r="7.4"/><circle cx="785.0" cy="1098.2" r="7.4"/><circle cx="1895.9" cy="1098.2" r="7.4"/><circle cx="786.2" cy="1150.0" r="7.4"/><circle cx="1897.1" cy="1150.0" r="7.4"/><circle cx="787.4" cy="1086.4" r="7.4"/><circle cx="1898.3" cy="1086.4" r="7.4"/><circle cx="793.6" cy="1146.4" r="7.4"/><circle cx="1904.4" cy="1146.4" r="7.4"/><circle cx="794.8" cy="1154.4" r="7.4"/><circle cx="1905.6" cy="1154.4" r="7.4"/><circle cx="796.0" cy="1134.6" r="7.4"/><circle cx="1906.9" cy="1134.6" r="7.4"/><circle cx="797.3" cy="1130.6" r="7.4"/><circle cx="1908.1" cy="1130.6" r="7.4"/><circle cx="797.3" cy="1138.6" r="7.4"/><circle cx="1908.1" cy="1138.6" r="7.4"/><circle cx="799.2" cy="1106.9" r="7.4"/><circle cx="1910.1" cy="1106.9" r="7.4"/><circle cx="801.4" cy="1170.6" r="7.4"/><circle cx="1912.3" cy="1170.6" r="7.4"/><circle cx="802.2" cy="1099.1" r="7.4"/><circle cx="1913.0" cy="1099.1" r="7.4"/><circle cx="802.2" cy="1115.0" r="7.4"/><circle cx="1913.0" cy="1115.0" r="7.4"/><circle cx="802.2" cy="1142.8" r="7.4"/><circle cx="1913.0" cy="1142.8" r="7.4"/><circle cx="804.6" cy="1135.0" r="7.4"/><circle cx="1915.5" cy="1135.0" r="7.4"/><circle cx="805.8" cy="1091.3" r="7.4"/><circle cx="1916.7" cy="1091.3" r="7.4"/><circle cx="808.3" cy="1087.5" r="7.4"/><circle cx="1919.1" cy="1087.5" r="7.4"/><circle cx="812.0" cy="1147.3" r="7.4"/><circle cx="1922.8" cy="1147.3" r="7.4"/><circle cx="812.5" cy="1179.1" r="7.4"/><circle cx="1923.3" cy="1179.1" r="7.4"/><circle cx="813.2" cy="1099.6" r="7.4"/><circle cx="1924.0" cy="1099.6" r="7.4"/><circle cx="813.2" cy="1135.4" r="7.4"/><circle cx="1924.0" cy="1135.4" r="7.4"/><circle cx="815.6" cy="1095.8" r="7.4"/><circle cx="1926.5" cy="1095.8" r="7.4"/><circle cx="816.1" cy="1083.9" r="7.4"/><circle cx="1927.0" cy="1083.9" r="7.4"/><circle cx="816.9" cy="1119.7" r="7.4"/><circle cx="1927.7" cy="1119.7" r="7.4"/><circle cx="819.3" cy="1127.7" r="7.4"/><circle cx="1930.2" cy="1127.7" r="7.4"/><circle cx="819.3" cy="1155.6" r="7.4"/><circle cx="1930.2" cy="1155.6" r="7.4"/><circle cx="821.8" cy="1183.5" r="7.4"/><circle cx="1932.6" cy="1183.5" r="7.4"/><circle cx="823.0" cy="1112.0" r="7.4"/><circle cx="1933.8" cy="1112.0" r="7.4"/><circle cx="824.2" cy="1151.8" r="7.4"/><circle cx="1935.1" cy="1151.8" r="7.4"/><circle cx="825.4" cy="1092.3" r="7.4"/><circle cx="1936.3" cy="1092.3" r="7.4"/><circle cx="826.2" cy="1167.8" r="7.4"/><circle cx="1937.0" cy="1167.8" r="7.4"/><circle cx="827.9" cy="1144.0" r="7.4"/><circle cx="1938.7" cy="1144.0" r="7.4"/><circle cx="827.9" cy="1156.0" r="7.4"/><circle cx="1938.7" cy="1156.0" r="7.4"/><circle cx="830.3" cy="1136.2" r="7.4"/><circle cx="1941.2" cy="1136.2" r="7.4"/><circle cx="831.6" cy="1116.4" r="7.4"/><circle cx="1942.4" cy="1116.4" r="7.4"/><circle cx="832.1" cy="1084.6" r="7.4"/><circle cx="1942.9" cy="1084.6" r="7.4"/><circle cx="832.8" cy="1092.6" r="7.4"/><circle cx="1943.6" cy="1092.6" r="7.4"/><circle cx="834.0" cy="1180.1" r="7.4"/><circle cx="1944.9" cy="1180.1" r="7.4"/><circle cx="835.2" cy="1188.1" r="7.4"/><circle cx="1946.1" cy="1188.1" r="7.4"/><circle cx="836.5" cy="1132.5" r="7.4"/><circle cx="1947.3" cy="1132.5" r="7.4"/><circle cx="837.0" cy="1100.8" r="7.4"/><circle cx="1947.8" cy="1100.8" r="7.4"/><circle cx="839.7" cy="1069.1" r="7.4"/><circle cx="1950.5" cy="1069.1" r="7.4"/><circle cx="840.1" cy="1148.6" r="7.4"/><circle cx="1951.0" cy="1148.6" r="7.4"/><circle cx="841.4" cy="1077.1" r="7.4"/><circle cx="1952.2" cy="1077.1" r="7.4"/><circle cx="843.8" cy="1073.3" r="7.4"/><circle cx="1954.7" cy="1073.3" r="7.4"/><circle cx="843.8" cy="1140.8" r="7.4"/><circle cx="1954.7" cy="1140.8" r="7.4"/><circle cx="845.1" cy="1109.1" r="7.4"/><circle cx="1955.9" cy="1109.1" r="7.4"/><circle cx="846.3" cy="1069.4" r="7.4"/><circle cx="1957.1" cy="1069.4" r="7.4"/><circle cx="846.8" cy="1085.3" r="7.4"/><circle cx="1957.6" cy="1085.3" r="7.4"/><circle cx="847.5" cy="1148.9" r="7.4"/><circle cx="1958.3" cy="1148.9" r="7.4"/><circle cx="848.7" cy="1073.5" r="7.4"/><circle cx="1959.6" cy="1073.5" r="7.4"/><circle cx="848.7" cy="1081.4" r="7.4"/><circle cx="1959.6" cy="1081.4" r="7.4"/><circle cx="848.7" cy="1113.2" r="7.4"/><circle cx="1959.6" cy="1113.2" r="7.4"/><circle cx="848.7" cy="1145.0" r="7.4"/><circle cx="1959.6" cy="1145.0" r="7.4"/><circle cx="853.1" cy="1097.5" r="7.4"/><circle cx="1964.0" cy="1097.5" r="7.4"/><circle cx="853.6" cy="1105.5" r="7.4"/><circle cx="1964.5" cy="1105.5" r="7.4"/><circle cx="856.1" cy="1101.6" r="7.4"/><circle cx="1966.9" cy="1101.6" r="7.4"/><circle cx="858.5" cy="1153.4" r="7.4"/><circle cx="1969.4" cy="1153.4" r="7.4"/><circle cx="861.0" cy="1105.8" r="7.4"/><circle cx="1971.8" cy="1105.8" r="7.4"/><circle cx="861.0" cy="1133.7" r="7.4"/><circle cx="1971.8" cy="1133.7" r="7.4"/><circle cx="863.4" cy="1137.7" r="7.4"/><circle cx="1974.3" cy="1137.7" r="7.4"/><circle cx="863.7" cy="1129.8" r="7.4"/><circle cx="1974.5" cy="1129.8" r="7.4"/><circle cx="864.7" cy="1141.8" r="7.4"/><circle cx="1975.5" cy="1141.8" r="7.4"/><circle cx="865.4" cy="1070.3" r="7.4"/><circle cx="1976.2" cy="1070.3" r="7.4"/><circle cx="867.3" cy="1118.0" r="7.4"/><circle cx="1978.2" cy="1118.0" r="7.4"/><circle cx="867.3" cy="1145.9" r="7.4"/><circle cx="1978.2" cy="1145.9" r="7.4"/><circle cx="868.6" cy="1149.9" r="7.4"/><circle cx="1979.4" cy="1149.9" r="7.4"/><circle cx="872.3" cy="1118.3" r="7.4"/><circle cx="1983.1" cy="1118.3" r="7.4"/><circle cx="873.2" cy="1102.4" r="7.4"/><circle cx="1984.1" cy="1102.4" r="7.4"/><circle cx="873.2" cy="1130.2" r="7.4"/><circle cx="1984.1" cy="1130.2" r="7.4"/><circle cx="874.7" cy="1082.6" r="7.4"/><circle cx="1985.6" cy="1082.6" r="7.4"/><circle cx="875.7" cy="1170.1" r="7.4"/><circle cx="1986.5" cy="1170.1" r="7.4"/><circle cx="876.4" cy="1062.8" r="7.4"/><circle cx="1987.3" cy="1062.8" r="7.4"/><circle cx="878.1" cy="1098.7" r="7.4"/><circle cx="1989.0" cy="1098.7" r="7.4"/><circle cx="879.4" cy="1090.8" r="7.4"/><circle cx="1990.2" cy="1090.8" r="7.4"/><circle cx="880.1" cy="1078.9" r="7.4"/><circle cx="1991.0" cy="1078.9" r="7.4"/><circle cx="881.8" cy="1158.4" r="7.4"/><circle cx="1992.7" cy="1158.4" r="7.4"/><circle cx="882.1" cy="1126.7" r="7.4"/><circle cx="1992.9" cy="1126.7" r="7.4"/><circle cx="882.3" cy="1011.4" r="7.4"/><circle cx="1993.2" cy="1011.4" r="7.4"/><circle cx="884.3" cy="1170.5" r="7.4"/><circle cx="1995.1" cy="1170.5" r="7.4"/><circle cx="885.5" cy="1083.1" r="7.4"/><circle cx="1996.3" cy="1083.1" r="7.4"/><circle cx="885.5" cy="1118.9" r="7.4"/><circle cx="1996.3" cy="1118.9" r="7.4"/><circle cx="890.4" cy="1146.9" r="7.4"/><circle cx="2001.2" cy="1146.9" r="7.4"/><circle cx="890.4" cy="1166.8" r="7.4"/><circle cx="2001.2" cy="1166.8" r="7.4"/><circle cx="891.6" cy="1139.0" r="7.4"/><circle cx="2002.5" cy="1139.0" r="7.4"/><circle cx="894.1" cy="1151.0" r="7.4"/><circle cx="2004.9" cy="1151.0" r="7.4"/><circle cx="897.3" cy="1167.1" r="7.4"/><circle cx="2008.1" cy="1167.1" r="7.4"/><circle cx="898.0" cy="1131.3" r="7.4"/><circle cx="2008.8" cy="1131.3" r="7.4"/><circle cx="898.0" cy="1143.3" r="7.4"/><circle cx="2008.8" cy="1143.3" r="7.4"/><circle cx="899.0" cy="1111.5" r="7.4"/><circle cx="2009.8" cy="1111.5" r="7.4"/><circle cx="901.4" cy="1115.6" r="7.4"/><circle cx="2012.3" cy="1115.6" r="7.4"/><circle cx="901.7" cy="1135.5" r="7.4"/><circle cx="2012.5" cy="1135.5" r="7.4"/><circle cx="905.1" cy="1171.4" r="7.4"/><circle cx="2015.9" cy="1171.4" r="7.4"/><circle cx="905.3" cy="1127.7" r="7.4"/><circle cx="2016.2" cy="1127.7" r="7.4"/><circle cx="906.3" cy="1095.9" r="7.4"/><circle cx="2017.2" cy="1095.9" r="7.4"/><circle cx="907.2" cy="1107.9" r="7.4"/><circle cx="2018.0" cy="1107.9" r="7.4"/><circle cx="908.3" cy="1179.5" r="7.4"/><circle cx="2019.1" cy="1179.5" r="7.4"/><circle cx="908.8" cy="1100.0" r="7.4"/><circle cx="2019.6" cy="1100.0" r="7.4"/><circle cx="909.0" cy="1131.8" r="7.4"/><circle cx="2019.9" cy="1131.8" r="7.4"/><circle cx="910.3" cy="1139.8" r="7.4"/><circle cx="2021.1" cy="1139.8" r="7.4"/><circle cx="912.4" cy="1147.9" r="7.4"/><circle cx="2023.3" cy="1147.9" r="7.4"/><circle cx="912.4" cy="1191.6" r="7.4"/><circle cx="2023.3" cy="1191.6" r="7.4"/><circle cx="913.7" cy="1072.4" r="7.4"/><circle cx="2024.5" cy="1072.4" r="7.4"/><circle cx="914.4" cy="1163.9" r="7.4"/><circle cx="2025.3" cy="1163.9" r="7.4"/><circle cx="916.1" cy="1195.7" r="7.4"/><circle cx="2027.0" cy="1195.7" r="7.4"/><circle cx="917.6" cy="1136.2" r="7.4"/><circle cx="2028.4" cy="1136.2" r="7.4"/><circle cx="919.1" cy="1088.6" r="7.4"/><circle cx="2029.9" cy="1088.6" r="7.4"/><circle cx="919.8" cy="1132.3" r="7.4"/><circle cx="2030.7" cy="1132.3" r="7.4"/><circle cx="919.8" cy="1191.9" r="7.4"/><circle cx="2030.7" cy="1191.9" r="7.4"/><circle cx="921.0" cy="1064.8" r="7.4"/><circle cx="2031.9" cy="1064.8" r="7.4"/><circle cx="921.0" cy="1140.3" r="7.4"/><circle cx="2031.9" cy="1140.3" r="7.4"/><circle cx="921.0" cy="1172.1" r="7.4"/><circle cx="2031.9" cy="1172.1" r="7.4"/><circle cx="922.3" cy="1152.3" r="7.4"/><circle cx="2033.1" cy="1152.3" r="7.4"/><circle cx="923.5" cy="1053.0" r="7.4"/><circle cx="2034.3" cy="1053.0" r="7.4"/><circle cx="924.7" cy="1072.9" r="7.4"/><circle cx="2035.6" cy="1072.9" r="7.4"/><circle cx="924.7" cy="1116.6" r="7.4"/><circle cx="2035.6" cy="1116.6" r="7.4"/><circle cx="926.2" cy="1136.6" r="7.4"/><circle cx="2037.0" cy="1136.6" r="7.4"/><circle cx="927.4" cy="1132.6" r="7.4"/><circle cx="2038.3" cy="1132.6" r="7.4"/><circle cx="928.6" cy="1085.0" r="7.4"/><circle cx="2039.5" cy="1085.0" r="7.4"/><circle cx="929.6" cy="1100.9" r="7.4"/><circle cx="2040.5" cy="1100.9" r="7.4"/><circle cx="929.6" cy="1108.9" r="7.4"/><circle cx="2040.5" cy="1108.9" r="7.4"/><circle cx="930.8" cy="1061.3" r="7.4"/><circle cx="2041.7" cy="1061.3" r="7.4"/><circle cx="930.8" cy="1077.1" r="7.4"/><circle cx="2041.7" cy="1077.1" r="7.4"/><circle cx="932.1" cy="1053.4" r="7.4"/><circle cx="2042.9" cy="1053.4" r="7.4"/><circle cx="933.5" cy="1105.1" r="7.4"/><circle cx="2044.4" cy="1105.1" r="7.4"/><circle cx="934.5" cy="1097.2" r="7.4"/><circle cx="2045.4" cy="1097.2" r="7.4"/><circle cx="934.5" cy="1152.8" r="7.4"/><circle cx="2045.4" cy="1152.8" r="7.4"/><circle cx="936.0" cy="1129.0" r="7.4"/><circle cx="2046.8" cy="1129.0" r="7.4"/><circle cx="937.0" cy="1069.5" r="7.4"/><circle cx="2047.8" cy="1069.5" r="7.4"/><circle cx="938.2" cy="1085.4" r="7.4"/><circle cx="2049.0" cy="1085.4" r="7.4"/><circle cx="938.2" cy="1101.3" r="7.4"/><circle cx="2049.0" cy="1101.3" r="7.4"/><circle cx="938.2" cy="1145.0" r="7.4"/><circle cx="2049.0" cy="1145.0" r="7.4"/><circle cx="939.4" cy="1168.9" r="7.4"/><circle cx="2050.3" cy="1168.9" r="7.4"/><circle cx="939.4" cy="1172.9" r="7.4"/><circle cx="2050.3" cy="1172.9" r="7.4"/><circle cx="939.4" cy="1184.8" r="7.4"/><circle cx="2050.3" cy="1184.8" r="7.4"/><circle cx="940.6" cy="1093.5" r="7.4"/><circle cx="2051.5" cy="1093.5" r="7.4"/><circle cx="943.1" cy="1113.5" r="7.4"/><circle cx="2053.9" cy="1113.5" r="7.4"/><circle cx="944.3" cy="1185.0" r="7.4"/><circle cx="2055.2" cy="1185.0" r="7.4"/><circle cx="944.3" cy="1200.9" r="7.4"/><circle cx="2055.2" cy="1200.9" r="7.4"/><circle cx="945.5" cy="1173.2" r="7.4"/><circle cx="2056.4" cy="1173.2" r="7.4"/><circle cx="945.8" cy="1089.7" r="7.4"/><circle cx="2056.6" cy="1089.7" r="7.4"/><circle cx="948.0" cy="1161.4" r="7.4"/><circle cx="2058.8" cy="1161.4" r="7.4"/><circle cx="949.2" cy="1133.6" r="7.4"/><circle cx="2060.1" cy="1133.6" r="7.4"/><circle cx="949.2" cy="1197.2" r="7.4"/><circle cx="2060.1" cy="1197.2" r="7.4"/><circle cx="950.4" cy="1074.0" r="7.4"/><circle cx="2061.3" cy="1074.0" r="7.4"/><circle cx="950.4" cy="1153.5" r="7.4"/><circle cx="2061.3" cy="1153.5" r="7.4"/><circle cx="952.9" cy="1070.2" r="7.4"/><circle cx="2063.7" cy="1070.2" r="7.4"/><circle cx="952.9" cy="1165.5" r="7.4"/><circle cx="2063.7" cy="1165.5" r="7.4"/><circle cx="954.1" cy="1137.8" r="7.4"/><circle cx="2065.0" cy="1137.8" r="7.4"/><circle cx="954.1" cy="1141.8" r="7.4"/><circle cx="2065.0" cy="1141.8" r="7.4"/><circle cx="955.3" cy="1018.6" r="7.4"/><circle cx="2066.2" cy="1018.6" r="7.4"/><circle cx="955.3" cy="1102.1" r="7.4"/><circle cx="2066.2" cy="1102.1" r="7.4"/><circle cx="956.8" cy="1130.0" r="7.4"/><circle cx="2067.7" cy="1130.0" r="7.4"/><circle cx="957.3" cy="1034.6" r="7.4"/><circle cx="2068.2" cy="1034.6" r="7.4"/><circle cx="959.0" cy="1110.2" r="7.4"/><circle cx="2069.9" cy="1110.2" r="7.4"/><circle cx="959.0" cy="1134.0" r="7.4"/><circle cx="2069.9" cy="1134.0" r="7.4"/><circle cx="960.5" cy="1114.2" r="7.4"/><circle cx="2071.3" cy="1114.2" r="7.4"/><circle cx="963.4" cy="1177.9" r="7.4"/><circle cx="2074.3" cy="1177.9" r="7.4"/><circle cx="963.9" cy="1070.7" r="7.4"/><circle cx="2074.8" cy="1070.7" r="7.4"/><circle cx="963.9" cy="1142.2" r="7.4"/><circle cx="2074.8" cy="1142.2" r="7.4"/><circle cx="965.1" cy="1031.0" r="7.4"/><circle cx="2076.0" cy="1031.0" r="7.4"/><circle cx="965.1" cy="1094.6" r="7.4"/><circle cx="2076.0" cy="1094.6" r="7.4"/><circle cx="966.4" cy="1122.4" r="7.4"/><circle cx="2077.2" cy="1122.4" r="7.4"/><circle cx="966.4" cy="1162.2" r="7.4"/><circle cx="2077.2" cy="1162.2" r="7.4"/><circle cx="967.6" cy="1098.6" r="7.4"/><circle cx="2078.5" cy="1098.6" r="7.4"/><circle cx="967.8" cy="1114.5" r="7.4"/><circle cx="2078.7" cy="1114.5" r="7.4"/><circle cx="969.3" cy="1074.9" r="7.4"/><circle cx="2080.2" cy="1074.9" r="7.4"/><circle cx="970.0" cy="1158.4" r="7.4"/><circle cx="2080.9" cy="1158.4" r="7.4"/><circle cx="972.0" cy="1090.9" r="7.4"/><circle cx="2082.9" cy="1090.9" r="7.4"/><circle cx="973.7" cy="1102.9" r="7.4"/><circle cx="2084.6" cy="1102.9" r="7.4"/><circle cx="974.6" cy="1154.6" r="7.4"/><circle cx="2085.4" cy="1154.6" r="7.4"/><circle cx="974.9" cy="1142.7" r="7.4"/><circle cx="2085.8" cy="1142.7" r="7.4"/><circle cx="976.2" cy="1114.9" r="7.4"/><circle cx="2087.0" cy="1114.9" r="7.4"/><circle cx="977.6" cy="1134.8" r="7.4"/><circle cx="2088.5" cy="1134.8" r="7.4"/><circle cx="979.9" cy="1162.8" r="7.4"/><circle cx="2090.7" cy="1162.8" r="7.4"/><circle cx="981.1" cy="1107.2" r="7.4"/><circle cx="2091.9" cy="1107.2" r="7.4"/><circle cx="982.5" cy="1131.1" r="7.4"/><circle cx="2093.4" cy="1131.1" r="7.4"/><circle cx="984.4" cy="1095.4" r="7.4"/><circle cx="2095.2" cy="1095.4" r="7.4"/><circle cx="986.0" cy="1063.7" r="7.4"/><circle cx="2096.8" cy="1063.7" r="7.4"/><circle cx="986.0" cy="1119.3" r="7.4"/><circle cx="2096.8" cy="1119.3" r="7.4"/><circle cx="986.0" cy="1139.2" r="7.4"/><circle cx="2096.8" cy="1139.2" r="7.4"/><circle cx="987.5" cy="1135.3" r="7.4"/><circle cx="2098.3" cy="1135.3" r="7.4"/><circle cx="987.5" cy="1147.2" r="7.4"/><circle cx="2098.3" cy="1147.2" r="7.4"/><circle cx="988.4" cy="1083.6" r="7.4"/><circle cx="2099.3" cy="1083.6" r="7.4"/><circle cx="988.4" cy="1163.1" r="7.4"/><circle cx="2099.3" cy="1163.1" r="7.4"/><circle cx="989.7" cy="1067.8" r="7.4"/><circle cx="2100.5" cy="1067.8" r="7.4"/><circle cx="989.7" cy="1155.2" r="7.4"/><circle cx="2100.5" cy="1155.2" r="7.4"/><circle cx="992.1" cy="1111.6" r="7.4"/><circle cx="2103.0" cy="1111.6" r="7.4"/><circle cx="992.1" cy="1151.4" r="7.4"/><circle cx="2103.0" cy="1151.4" r="7.4"/><circle cx="992.4" cy="1115.6" r="7.4"/><circle cx="2103.2" cy="1115.6" r="7.4"/><circle cx="994.2" cy="1103.8" r="7.4"/><circle cx="2105.0" cy="1103.8" r="7.4"/><circle cx="998.5" cy="1135.7" r="7.4"/><circle cx="2109.3" cy="1135.7" r="7.4"/><circle cx="999.7" cy="1131.8" r="7.4"/><circle cx="2110.6" cy="1131.8" r="7.4"/><circle cx="1000.7" cy="1092.1" r="7.4"/><circle cx="2111.5" cy="1092.1" r="7.4"/><circle cx="1000.7" cy="1155.7" r="7.4"/><circle cx="2111.5" cy="1155.7" r="7.4"/><circle cx="1000.9" cy="1143.8" r="7.4"/><circle cx="2111.8" cy="1143.8" r="7.4"/><circle cx="1001.9" cy="1167.7" r="7.4"/><circle cx="2112.8" cy="1167.7" r="7.4"/><circle cx="1003.1" cy="1108.1" r="7.4"/><circle cx="2114.0" cy="1108.1" r="7.4"/><circle cx="1004.6" cy="1096.3" r="7.4"/><circle cx="2115.5" cy="1096.3" r="7.4"/><circle cx="1005.1" cy="1068.5" r="7.4"/><circle cx="2115.9" cy="1068.5" r="7.4"/><circle cx="1005.6" cy="1104.3" r="7.4"/><circle cx="2116.4" cy="1104.3" r="7.4"/><circle cx="1005.8" cy="1136.1" r="7.4"/><circle cx="2116.7" cy="1136.1" r="7.4"/><circle cx="1008.0" cy="1116.3" r="7.4"/><circle cx="2118.9" cy="1116.3" r="7.4"/><circle cx="1008.3" cy="1148.1" r="7.4"/><circle cx="2119.1" cy="1148.1" r="7.4"/><circle cx="1010.7" cy="1100.5" r="7.4"/><circle cx="2121.6" cy="1100.5" r="7.4"/><circle cx="1010.7" cy="1132.3" r="7.4"/><circle cx="2121.6" cy="1132.3" r="7.4"/><circle cx="1012.0" cy="1144.3" r="7.4"/><circle cx="2122.8" cy="1144.3" r="7.4"/><circle cx="1013.2" cy="1104.6" r="7.4"/><circle cx="2124.0" cy="1104.6" r="7.4"/><circle cx="1014.2" cy="1076.8" r="7.4"/><circle cx="2125.0" cy="1076.8" r="7.4"/><circle cx="1014.2" cy="1080.8" r="7.4"/><circle cx="2125.0" cy="1080.8" r="7.4"/><circle cx="1016.6" cy="1108.7" r="7.4"/><circle cx="2127.5" cy="1108.7" r="7.4"/><circle cx="1016.9" cy="1140.5" r="7.4"/><circle cx="2127.7" cy="1140.5" r="7.4"/><circle cx="1017.4" cy="1065.0" r="7.4"/><circle cx="2128.2" cy="1065.0" r="7.4"/><circle cx="1017.8" cy="1120.7" r="7.4"/><circle cx="2128.7" cy="1120.7" r="7.4"/><circle cx="1019.1" cy="1092.9" r="7.4"/><circle cx="2129.9" cy="1092.9" r="7.4"/><circle cx="1021.8" cy="1089.0" r="7.4"/><circle cx="2132.6" cy="1089.0" r="7.4"/><circle cx="1022.7" cy="1081.1" r="7.4"/><circle cx="2133.6" cy="1081.1" r="7.4"/><circle cx="1022.7" cy="1112.9" r="7.4"/><circle cx="2133.6" cy="1112.9" r="7.4"/><circle cx="1023.0" cy="1116.9" r="7.4"/><circle cx="2133.8" cy="1116.9" r="7.4"/><circle cx="1024.2" cy="1101.0" r="7.4"/><circle cx="2135.1" cy="1101.0" r="7.4"/><circle cx="1026.4" cy="1156.8" r="7.4"/><circle cx="2137.3" cy="1156.8" r="7.4"/><circle cx="1026.4" cy="1176.6" r="7.4"/><circle cx="2137.3" cy="1176.6" r="7.4"/><circle cx="1026.4" cy="1180.6" r="7.4"/><circle cx="2137.3" cy="1180.6" r="7.4"/><circle cx="1026.7" cy="1132.9" r="7.4"/><circle cx="2137.5" cy="1132.9" r="7.4"/><circle cx="1028.9" cy="1105.2" r="7.4"/><circle cx="2139.7" cy="1105.2" r="7.4"/><circle cx="1031.3" cy="1153.0" r="7.4"/><circle cx="2142.2" cy="1153.0" r="7.4"/><circle cx="1031.6" cy="1137.1" r="7.4"/><circle cx="2142.4" cy="1137.1" r="7.4"/><circle cx="1032.5" cy="1081.5" r="7.4"/><circle cx="2143.4" cy="1081.5" r="7.4"/><circle cx="1032.5" cy="1157.0" r="7.4"/><circle cx="2143.4" cy="1157.0" r="7.4"/><circle cx="1033.8" cy="1145.1" r="7.4"/><circle cx="2144.6" cy="1145.1" r="7.4"/><circle cx="1036.5" cy="1097.5" r="7.4"/><circle cx="2147.3" cy="1097.5" r="7.4"/><circle cx="1037.5" cy="1093.6" r="7.4"/><circle cx="2148.3" cy="1093.6" r="7.4"/><circle cx="1039.9" cy="1077.8" r="7.4"/><circle cx="2150.7" cy="1077.8" r="7.4"/><circle cx="1039.9" cy="1113.6" r="7.4"/><circle cx="2150.7" cy="1113.6" r="7.4"/><circle cx="1042.4" cy="1089.8" r="7.4"/><circle cx="2153.2" cy="1089.8" r="7.4"/><circle cx="1042.4" cy="1101.7" r="7.4"/><circle cx="2153.2" cy="1101.7" r="7.4"/><circle cx="1042.4" cy="1105.7" r="7.4"/><circle cx="2153.2" cy="1105.7" r="7.4"/><circle cx="1042.4" cy="1141.5" r="7.4"/><circle cx="2153.2" cy="1141.5" r="7.4"/><circle cx="1043.6" cy="1058.1" r="7.4"/><circle cx="2154.4" cy="1058.1" r="7.4"/><circle cx="1043.6" cy="1085.9" r="7.4"/><circle cx="2154.4" cy="1085.9" r="7.4"/><circle cx="1044.8" cy="1074.0" r="7.4"/><circle cx="2155.7" cy="1074.0" r="7.4"/><circle cx="1044.9" cy="1133.6" r="7.4"/><circle cx="2155.7" cy="1133.6" r="7.4"/><circle cx="1047.3" cy="1094.0" r="7.4"/><circle cx="2158.1" cy="1094.0" r="7.4"/><circle cx="1047.4" cy="1129.7" r="7.4"/><circle cx="2158.2" cy="1129.7" r="7.4"/><circle cx="1047.5" cy="1098.0" r="7.4"/><circle cx="2158.3" cy="1098.0" r="7.4"/><circle cx="1051.0" cy="1137.8" r="7.4"/><circle cx="2161.9" cy="1137.8" r="7.4"/><circle cx="1051.0" cy="1145.8" r="7.4"/><circle cx="2161.9" cy="1145.8" r="7.4"/><circle cx="1051.2" cy="1090.1" r="7.4"/><circle cx="2162.0" cy="1090.1" r="7.4"/><circle cx="1052.4" cy="1118.0" r="7.4"/><circle cx="2163.3" cy="1118.0" r="7.4"/><circle cx="1054.6" cy="1086.3" r="7.4"/><circle cx="2165.5" cy="1086.3" r="7.4"/><circle cx="1054.7" cy="1141.9" r="7.4"/><circle cx="2165.6" cy="1141.9" r="7.4"/><circle cx="1054.8" cy="1149.9" r="7.4"/><circle cx="2165.7" cy="1149.9" r="7.4"/><circle cx="1057.1" cy="1070.5" r="7.4"/><circle cx="2167.9" cy="1070.5" r="7.4"/><circle cx="1057.2" cy="1134.0" r="7.4"/><circle cx="2168.0" cy="1134.0" r="7.4"/><circle cx="1058.3" cy="1102.3" r="7.4"/><circle cx="2169.1" cy="1102.3" r="7.4"/><circle cx="1058.4" cy="1130.1" r="7.4"/><circle cx="2169.2" cy="1130.1" r="7.4"/><circle cx="1058.5" cy="1114.2" r="7.4"/><circle cx="2169.4" cy="1114.2" r="7.4"/><circle cx="1058.5" cy="1154.0" r="7.4"/><circle cx="2169.4" cy="1154.0" r="7.4"/><circle cx="1063.3" cy="1142.2" r="7.4"/><circle cx="2174.1" cy="1142.2" r="7.4"/><circle cx="1063.7" cy="1094.5" r="7.4"/><circle cx="2174.5" cy="1094.5" r="7.4"/><circle cx="1067.0" cy="1130.4" r="7.4"/><circle cx="2177.8" cy="1130.4" r="7.4"/><circle cx="1067.4" cy="1078.7" r="7.4"/><circle cx="2178.2" cy="1078.7" r="7.4"/><circle cx="1069.8" cy="1098.7" r="7.4"/><circle cx="2180.7" cy="1098.7" r="7.4"/><circle cx="1070.6" cy="1110.6" r="7.4"/><circle cx="2181.5" cy="1110.6" r="7.4"/><circle cx="1070.6" cy="1150.3" r="7.4"/><circle cx="2181.5" cy="1150.3" r="7.4"/><circle cx="1071.9" cy="1138.4" r="7.4"/><circle cx="2182.7" cy="1138.4" r="7.4"/><circle cx="1074.7" cy="1102.8" r="7.4"/><circle cx="2185.6" cy="1102.8" r="7.4"/><circle cx="1075.5" cy="1118.7" r="7.4"/><circle cx="2186.4" cy="1118.7" r="7.4"/><circle cx="1076.8" cy="1134.6" r="7.4"/><circle cx="2187.6" cy="1134.6" r="7.4"/><circle cx="1077.2" cy="1082.9" r="7.4"/><circle cx="2188.0" cy="1082.9" r="7.4"/><circle cx="1078.4" cy="1086.9" r="7.4"/><circle cx="2189.2" cy="1086.9" r="7.4"/><circle cx="1078.4" cy="1098.9" r="7.4"/><circle cx="2189.2" cy="1098.9" r="7.4"/><circle cx="1080.3" cy="1170.4" r="7.4"/><circle cx="2191.2" cy="1170.4" r="7.4"/><circle cx="1081.7" cy="1130.7" r="7.4"/><circle cx="2192.5" cy="1130.7" r="7.4"/><circle cx="1082.6" cy="1023.4" r="7.4"/><circle cx="2193.4" cy="1023.4" r="7.4"/><circle cx="1083.3" cy="1091.0" r="7.4"/><circle cx="2194.1" cy="1091.0" r="7.4"/><circle cx="1084.5" cy="1075.1" r="7.4"/><circle cx="2195.4" cy="1075.1" r="7.4"/><circle cx="1085.3" cy="1138.7" r="7.4"/><circle cx="2196.2" cy="1138.7" r="7.4"/><circle cx="1086.6" cy="1134.8" r="7.4"/><circle cx="2197.4" cy="1134.8" r="7.4"/><circle cx="1086.6" cy="1142.7" r="7.4"/><circle cx="2197.4" cy="1142.7" r="7.4"/><circle cx="1087.0" cy="1079.2" r="7.4"/><circle cx="2197.8" cy="1079.2" r="7.4"/><circle cx="1088.2" cy="1103.0" r="7.4"/><circle cx="2199.0" cy="1103.0" r="7.4"/><circle cx="1089.0" cy="1146.7" r="7.4"/><circle cx="2199.9" cy="1146.7" r="7.4"/><circle cx="1091.5" cy="1158.7" r="7.4"/><circle cx="2202.3" cy="1158.7" r="7.4"/><circle cx="1091.9" cy="1075.3" r="7.4"/><circle cx="2202.7" cy="1075.3" r="7.4"/><circle cx="1093.9" cy="1154.8" r="7.4"/><circle cx="2204.8" cy="1154.8" r="7.4"/><circle cx="1093.9" cy="1166.7" r="7.4"/><circle cx="2204.8" cy="1166.7" r="7.4"/><circle cx="1095.2" cy="1142.8" r="7.4"/><circle cx="2206.0" cy="1142.8" r="7.4"/><circle cx="1095.5" cy="1103.1" r="7.4"/><circle cx="2206.4" cy="1103.1" r="7.4"/><circle cx="1096.8" cy="1170.7" r="7.4"/><circle cx="2207.6" cy="1170.7" r="7.4"/><circle cx="1096.8" cy="1174.7" r="7.4"/><circle cx="2207.6" cy="1174.7" r="7.4"/><circle cx="1097.6" cy="1130.9" r="7.4"/><circle cx="2208.4" cy="1130.9" r="7.4"/><circle cx="1098.8" cy="1134.9" r="7.4"/><circle cx="2209.7" cy="1134.9" r="7.4"/><circle cx="1098.8" cy="1150.8" r="7.4"/><circle cx="2209.7" cy="1150.8" r="7.4"/><circle cx="1098.8" cy="1162.7" r="7.4"/><circle cx="2209.7" cy="1162.7" r="7.4"/><circle cx="1099.2" cy="1095.2" r="7.4"/><circle cx="2210.1" cy="1095.2" r="7.4"/><circle cx="1100.4" cy="1158.8" r="7.4"/><circle cx="2211.3" cy="1158.8" r="7.4"/><circle cx="1102.5" cy="1115.1" r="7.4"/><circle cx="2213.4" cy="1115.1" r="7.4"/><circle cx="1102.9" cy="1178.7" r="7.4"/><circle cx="2213.7" cy="1178.7" r="7.4"/><circle cx="1103.7" cy="1138.9" r="7.4"/><circle cx="2214.6" cy="1138.9" r="7.4"/><circle cx="1103.7" cy="1154.8" r="7.4"/><circle cx="2214.6" cy="1154.8" r="7.4"/><circle cx="1103.7" cy="1166.7" r="7.4"/><circle cx="2214.6" cy="1166.7" r="7.4"/><circle cx="1103.7" cy="1182.6" r="7.4"/><circle cx="2214.6" cy="1182.6" r="7.4"/><circle cx="1104.9" cy="1142.9" r="7.4"/><circle cx="2215.8" cy="1142.9" r="7.4"/><circle cx="1105.3" cy="1194.6" r="7.4"/><circle cx="2216.2" cy="1194.6" r="7.4"/><circle cx="1106.2" cy="1174.7" r="7.4"/><circle cx="2217.0" cy="1174.7" r="7.4"/><circle cx="1108.6" cy="1134.9" r="7.4"/><circle cx="2219.5" cy="1134.9" r="7.4"/><circle cx="1108.6" cy="1162.8" r="7.4"/><circle cx="2219.5" cy="1162.8" r="7.4"/><circle cx="1108.6" cy="1170.7" r="7.4"/><circle cx="2219.5" cy="1170.7" r="7.4"/><circle cx="1110.2" cy="1051.5" r="7.4"/><circle cx="2221.1" cy="1051.5" r="7.4"/><circle cx="1110.2" cy="1178.6" r="7.4"/><circle cx="2221.1" cy="1178.6" r="7.4"/><circle cx="1110.2" cy="1194.5" r="7.4"/><circle cx="2221.1" cy="1194.5" r="7.4"/><circle cx="1111.5" cy="1107.1" r="7.4"/><circle cx="2222.3" cy="1107.1" r="7.4"/><circle cx="1112.2" cy="1075.3" r="7.4"/><circle cx="2223.1" cy="1075.3" r="7.4"/><circle cx="1112.7" cy="1166.7" r="7.4"/><circle cx="2223.5" cy="1166.7" r="7.4"/><circle cx="1113.5" cy="1142.8" r="7.4"/><circle cx="2224.4" cy="1142.8" r="7.4"/><circle cx="1113.5" cy="1146.8" r="7.4"/><circle cx="2224.4" cy="1146.8" r="7.4"/><circle cx="1113.9" cy="1115.0" r="7.4"/><circle cx="2224.8" cy="1115.0" r="7.4"/><circle cx="1115.1" cy="1103.1" r="7.4"/><circle cx="2226.0" cy="1103.1" r="7.4"/><circle cx="1116.0" cy="1154.7" r="7.4"/><circle cx="2226.8" cy="1154.7" r="7.4"/><circle cx="1118.3" cy="1186.5" r="7.4"/><circle cx="2229.2" cy="1186.5" r="7.4"/><circle cx="1118.4" cy="1138.8" r="7.4"/><circle cx="2229.3" cy="1138.8" r="7.4"/><circle cx="1120.0" cy="1114.9" r="7.4"/><circle cx="2230.9" cy="1114.9" r="7.4"/><circle cx="1120.9" cy="1130.8" r="7.4"/><circle cx="2231.7" cy="1130.8" r="7.4"/><circle cx="1121.3" cy="1103.0" r="7.4"/><circle cx="2232.1" cy="1103.0" r="7.4"/><circle cx="1122.1" cy="1174.5" r="7.4"/><circle cx="2233.0" cy="1174.5" r="7.4"/><circle cx="1123.2" cy="1079.1" r="7.4"/><circle cx="2234.1" cy="1079.1" r="7.4"/><circle cx="1123.3" cy="1134.7" r="7.4"/><circle cx="2234.2" cy="1134.7" r="7.4"/><circle cx="1124.6" cy="1142.6" r="7.4"/><circle cx="2235.4" cy="1142.6" r="7.4"/><circle cx="1125.4" cy="1194.3" r="7.4"/><circle cx="2236.3" cy="1194.3" r="7.4"/><circle cx="1126.2" cy="1051.2" r="7.4"/><circle cx="2237.0" cy="1051.2" r="7.4"/><circle cx="1127.0" cy="1158.4" r="7.4"/><circle cx="2237.9" cy="1158.4" r="7.4"/><circle cx="1128.2" cy="1138.5" r="7.4"/><circle cx="2239.1" cy="1138.5" r="7.4"/><circle cx="1130.7" cy="1130.5" r="7.4"/><circle cx="2241.5" cy="1130.5" r="7.4"/><circle cx="1130.7" cy="1146.4" r="7.4"/><circle cx="2241.5" cy="1146.4" r="7.4"/><circle cx="1130.7" cy="1150.4" r="7.4"/><circle cx="2241.5" cy="1150.4" r="7.4"/><circle cx="1131.9" cy="1114.6" r="7.4"/><circle cx="2242.8" cy="1114.6" r="7.4"/><circle cx="1131.9" cy="1162.2" r="7.4"/><circle cx="2242.8" cy="1162.2" r="7.4"/><circle cx="1132.3" cy="1090.7" r="7.4"/><circle cx="2243.2" cy="1090.7" r="7.4"/><circle cx="1133.0" cy="1050.9" r="7.4"/><circle cx="2243.9" cy="1050.9" r="7.4"/><circle cx="1133.1" cy="1134.4" r="7.4"/><circle cx="2244.0" cy="1134.4" r="7.4"/><circle cx="1133.5" cy="1174.1" r="7.4"/><circle cx="2244.4" cy="1174.1" r="7.4"/><circle cx="1135.5" cy="1042.9" r="7.4"/><circle cx="2246.3" cy="1042.9" r="7.4"/><circle cx="1136.0" cy="1158.1" r="7.4"/><circle cx="2246.8" cy="1158.1" r="7.4"/><circle cx="1136.8" cy="1142.1" r="7.4"/><circle cx="2247.7" cy="1142.1" r="7.4"/><circle cx="1136.8" cy="1154.1" r="7.4"/><circle cx="2247.7" cy="1154.1" r="7.4"/><circle cx="1138.0" cy="1118.2" r="7.4"/><circle cx="2248.9" cy="1118.2" r="7.4"/><circle cx="1139.7" cy="1173.8" r="7.4"/><circle cx="2250.5" cy="1173.8" r="7.4"/><circle cx="1140.5" cy="1149.9" r="7.4"/><circle cx="2251.3" cy="1149.9" r="7.4"/><circle cx="1140.9" cy="1070.4" r="7.4"/><circle cx="2251.7" cy="1070.4" r="7.4"/><circle cx="1140.9" cy="1161.8" r="7.4"/><circle cx="2251.7" cy="1161.8" r="7.4"/><circle cx="1141.4" cy="1169.7" r="7.4"/><circle cx="2252.2" cy="1169.7" r="7.4"/><circle cx="1141.7" cy="1129.9" r="7.4"/><circle cx="2252.6" cy="1129.9" r="7.4"/><circle cx="1144.1" cy="1066.2" r="7.4"/><circle cx="2254.9" cy="1066.2" r="7.4"/><circle cx="1144.2" cy="1133.7" r="7.4"/><circle cx="2255.0" cy="1133.7" r="7.4"/><circle cx="1144.2" cy="1141.7" r="7.4"/><circle cx="2255.0" cy="1141.7" r="7.4"/><circle cx="1144.6" cy="1157.6" r="7.4"/><circle cx="2255.4" cy="1157.6" r="7.4"/><circle cx="1146.6" cy="1153.4" r="7.4"/><circle cx="2257.5" cy="1153.4" r="7.4"/><circle cx="1147.0" cy="1177.2" r="7.4"/><circle cx="2257.9" cy="1177.2" r="7.4"/><circle cx="1149.1" cy="1137.3" r="7.4"/><circle cx="2259.9" cy="1137.3" r="7.4"/><circle cx="1149.1" cy="1149.3" r="7.4"/><circle cx="2259.9" cy="1149.3" r="7.4"/><circle cx="1150.2" cy="1101.5" r="7.4"/><circle cx="2261.0" cy="1101.5" r="7.4"/><circle cx="1150.3" cy="1109.4" r="7.4"/><circle cx="2261.1" cy="1109.4" r="7.4"/><circle cx="1150.3" cy="1129.3" r="7.4"/><circle cx="2261.1" cy="1129.3" r="7.4"/><circle cx="1151.9" cy="1073.5" r="7.4"/><circle cx="2262.8" cy="1073.5" r="7.4"/><circle cx="1152.7" cy="1113.2" r="7.4"/><circle cx="2263.6" cy="1113.2" r="7.4"/><circle cx="1152.7" cy="1144.9" r="7.4"/><circle cx="2263.6" cy="1144.9" r="7.4"/><circle cx="1155.1" cy="1081.1" r="7.4"/><circle cx="2265.9" cy="1081.1" r="7.4"/><circle cx="1156.4" cy="1132.7" r="7.4"/><circle cx="2267.3" cy="1132.7" r="7.4"/><circle cx="1156.8" cy="1077.0" r="7.4"/><circle cx="2267.7" cy="1077.0" r="7.4"/><circle cx="1157.6" cy="1140.5" r="7.4"/><circle cx="2268.5" cy="1140.5" r="7.4"/><circle cx="1159.3" cy="1108.5" r="7.4"/><circle cx="2270.1" cy="1108.5" r="7.4"/><circle cx="1160.1" cy="1136.2" r="7.4"/><circle cx="2271.0" cy="1136.2" r="7.4"/><circle cx="1161.7" cy="1072.4" r="7.4"/><circle cx="2272.6" cy="1072.4" r="7.4"/><circle cx="1162.9" cy="1048.4" r="7.4"/><circle cx="2273.8" cy="1048.4" r="7.4"/><circle cx="1165.0" cy="1143.5" r="7.4"/><circle cx="2275.9" cy="1143.5" r="7.4"/><circle cx="1165.4" cy="1115.6" r="7.4"/><circle cx="2276.2" cy="1115.6" r="7.4"/><circle cx="1167.4" cy="1127.3" r="7.4"/><circle cx="2278.3" cy="1127.3" r="7.4"/><circle cx="1167.8" cy="1095.4" r="7.4"/><circle cx="2278.7" cy="1095.4" r="7.4"/><circle cx="1167.8" cy="1107.3" r="7.4"/><circle cx="2278.7" cy="1107.3" r="7.4"/><circle cx="1172.0" cy="1086.8" r="7.4"/><circle cx="2282.9" cy="1086.8" r="7.4"/><circle cx="1172.7" cy="1102.6" r="7.4"/><circle cx="2283.6" cy="1102.6" r="7.4"/><circle cx="1174.0" cy="1114.3" r="7.4"/><circle cx="2284.8" cy="1114.3" r="7.4"/><circle cx="1174.0" cy="1189.8" r="7.4"/><circle cx="2284.8" cy="1189.8" r="7.4"/><circle cx="1174.8" cy="1110.1" r="7.4"/><circle cx="2285.6" cy="1110.1" r="7.4"/><circle cx="1178.9" cy="1061.7" r="7.4"/><circle cx="2289.7" cy="1061.7" r="7.4"/><circle cx="1179.1" cy="1145.1" r="7.4"/><circle cx="2289.9" cy="1145.1" r="7.4"/><circle cx="1180.1" cy="1129.0" r="7.4"/><circle cx="2290.9" cy="1129.0" r="7.4"/><circle cx="1180.9" cy="1132.8" r="7.4"/><circle cx="2291.8" cy="1132.8" r="7.4"/><circle cx="1181.3" cy="1089.0" r="7.4"/><circle cx="2292.2" cy="1089.0" r="7.4"/><circle cx="1181.3" cy="1100.9" r="7.4"/><circle cx="2292.2" cy="1100.9" r="7.4"/><circle cx="1181.3" cy="1184.3" r="7.4"/><circle cx="2292.2" cy="1184.3" r="7.4"/><circle cx="1182.6" cy="1092.7" r="7.4"/><circle cx="2293.4" cy="1092.7" r="7.4"/><circle cx="1182.6" cy="1108.6" r="7.4"/><circle cx="2293.4" cy="1108.6" r="7.4"/><circle cx="1182.6" cy="1136.4" r="7.4"/><circle cx="2293.4" cy="1136.4" r="7.4"/><circle cx="1187.5" cy="1059.7" r="7.4"/><circle cx="2298.3" cy="1059.7" r="7.4"/><circle cx="1188.7" cy="1071.3" r="7.4"/><circle cx="2299.5" cy="1071.3" r="7.4"/><circle cx="1189.9" cy="1090.9" r="7.4"/><circle cx="2300.8" cy="1090.9" r="7.4"/><circle cx="1192.4" cy="1161.7" r="7.4"/><circle cx="2303.2" cy="1161.7" r="7.4"/><circle cx="1193.2" cy="1113.8" r="7.4"/><circle cx="2304.0" cy="1113.8" r="7.4"/><circle cx="1194.3" cy="1069.7" r="7.4"/><circle cx="2305.2" cy="1069.7" r="7.4"/><circle cx="1194.3" cy="1081.7" r="7.4"/><circle cx="2305.2" cy="1081.7" r="7.4"/><circle cx="1196.0" cy="1073.2" r="7.4"/><circle cx="2306.9" cy="1073.2" r="7.4"/><circle cx="1196.0" cy="1097.0" r="7.4"/><circle cx="2306.9" cy="1097.0" r="7.4"/><circle cx="1199.3" cy="1107.9" r="7.4"/><circle cx="2310.2" cy="1107.9" r="7.4"/><circle cx="1199.7" cy="1091.8" r="7.4"/><circle cx="2310.6" cy="1091.8" r="7.4"/><circle cx="1202.2" cy="1075.1" r="7.4"/><circle cx="2313.0" cy="1075.1" r="7.4"/><circle cx="1202.2" cy="1138.7" r="7.4"/><circle cx="2313.0" cy="1138.7" r="7.4"/><circle cx="1202.2" cy="1154.6" r="7.4"/><circle cx="2313.0" cy="1154.6" r="7.4"/><circle cx="1204.6" cy="1062.3" r="7.4"/><circle cx="2315.5" cy="1062.3" r="7.4"/><circle cx="1204.6" cy="1098.0" r="7.4"/><circle cx="2315.5" cy="1098.0" r="7.4"/><circle cx="1204.6" cy="1117.9" r="7.4"/><circle cx="2315.5" cy="1117.9" r="7.4"/><circle cx="1207.9" cy="1128.5" r="7.4"/><circle cx="2318.7" cy="1128.5" r="7.4"/><circle cx="1208.3" cy="1056.8" r="7.4"/><circle cx="2319.1" cy="1056.8" r="7.4"/><circle cx="1208.3" cy="1152.2" r="7.4"/><circle cx="2319.1" cy="1152.2" r="7.4"/><circle cx="1209.0" cy="1080.4" r="7.4"/><circle cx="2319.9" cy="1080.4" r="7.4"/><circle cx="1209.5" cy="1143.7" r="7.4"/><circle cx="2320.4" cy="1143.7" r="7.4"/><circle cx="1211.2" cy="1158.9" r="7.4"/><circle cx="2322.1" cy="1158.9" r="7.4"/><circle cx="1211.6" cy="1103.1" r="7.4"/><circle cx="2322.4" cy="1103.1" r="7.4"/><circle cx="1214.0" cy="1129.8" r="7.4"/><circle cx="2324.9" cy="1129.8" r="7.4"/><circle cx="1214.4" cy="1093.9" r="7.4"/><circle cx="2325.3" cy="1093.9" r="7.4"/><circle cx="1216.4" cy="1033.3" r="7.4"/><circle cx="2327.2" cy="1033.3" r="7.4"/><circle cx="1218.1" cy="1107.9" r="7.4"/><circle cx="2328.9" cy="1107.9" r="7.4"/><circle cx="1220.5" cy="1142.4" r="7.4"/><circle cx="2331.4" cy="1142.4" r="7.4"/><circle cx="1220.5" cy="1170.2" r="7.4"/><circle cx="2331.4" cy="1170.2" r="7.4"/><circle cx="1221.8" cy="1094.1" r="7.4"/><circle cx="2332.6" cy="1094.1" r="7.4"/><circle cx="1223.0" cy="1161.0" r="7.4"/><circle cx="2333.8" cy="1161.0" r="7.4"/><circle cx="1224.2" cy="1172.2" r="7.4"/><circle cx="2335.1" cy="1172.2" r="7.4"/><circle cx="1225.0" cy="1068.4" r="7.4"/><circle cx="2335.8" cy="1068.4" r="7.4"/><circle cx="1225.1" cy="1155.8" r="7.4"/><circle cx="2335.9" cy="1155.8" r="7.4"/><circle cx="1226.3" cy="1095.5" r="7.4"/><circle cx="2337.1" cy="1095.5" r="7.4"/><circle cx="1228.7" cy="1149.6" r="7.4"/><circle cx="2339.6" cy="1149.6" r="7.4"/><circle cx="1231.1" cy="1052.7" r="7.4"/><circle cx="2341.9" cy="1052.7" r="7.4"/><circle cx="1233.6" cy="1102.6" r="7.4"/><circle cx="2344.5" cy="1102.6" r="7.4"/><circle cx="1234.9" cy="1141.5" r="7.4"/><circle cx="2345.7" cy="1141.5" r="7.4"/><circle cx="1235.2" cy="1061.7" r="7.4"/><circle cx="2346.1" cy="1061.7" r="7.4"/><circle cx="1235.2" cy="1137.2" r="7.4"/><circle cx="2346.1" cy="1137.2" r="7.4"/><circle cx="1235.2" cy="1153.1" r="7.4"/><circle cx="2346.1" cy="1153.1" r="7.4"/><circle cx="1236.0" cy="1104.9" r="7.4"/><circle cx="2346.8" cy="1104.9" r="7.4"/><circle cx="1236.1" cy="1092.9" r="7.4"/><circle cx="2346.9" cy="1092.9" r="7.4"/><circle cx="1238.9" cy="1154.4" r="7.4"/><circle cx="2349.8" cy="1154.4" r="7.4"/><circle cx="1240.2" cy="1161.4" r="7.4"/><circle cx="2351.0" cy="1161.4" r="7.4"/><circle cx="1241.4" cy="1049.2" r="7.4"/><circle cx="2352.2" cy="1049.2" r="7.4"/><circle cx="1241.4" cy="1084.9" r="7.4"/><circle cx="2352.2" cy="1084.9" r="7.4"/><circle cx="1241.9" cy="1175.9" r="7.4"/><circle cx="2352.7" cy="1175.9" r="7.4"/><circle cx="1242.6" cy="1111.8" r="7.4"/><circle cx="2353.4" cy="1111.8" r="7.4"/><circle cx="1242.6" cy="1135.6" r="7.4"/><circle cx="2353.4" cy="1135.6" r="7.4"/><circle cx="1245.0" cy="1058.1" r="7.4"/><circle cx="2355.9" cy="1058.1" r="7.4"/><circle cx="1245.0" cy="1089.8" r="7.4"/><circle cx="2355.9" cy="1089.8" r="7.4"/><circle cx="1247.5" cy="1048.0" r="7.4"/><circle cx="2358.4" cy="1048.0" r="7.4"/><circle cx="1247.5" cy="1155.3" r="7.4"/><circle cx="2358.4" cy="1155.3" r="7.4"/><circle cx="1249.2" cy="1181.6" r="7.4"/><circle cx="2360.1" cy="1181.6" r="7.4"/><circle cx="1249.9" cy="1165.0" r="7.4"/><circle cx="2360.8" cy="1165.0" r="7.4"/><circle cx="1253.6" cy="1097.9" r="7.4"/><circle cx="2364.5" cy="1097.9" r="7.4"/><circle cx="1253.6" cy="1165.5" r="7.4"/><circle cx="2364.5" cy="1165.5" r="7.4"/><circle cx="1253.6" cy="1181.4" r="7.4"/><circle cx="2364.5" cy="1181.4" r="7.4"/><circle cx="1257.3" cy="1138.0" r="7.4"/><circle cx="2368.2" cy="1138.0" r="7.4"/><circle cx="1257.3" cy="1149.9" r="7.4"/><circle cx="2368.2" cy="1149.9" r="7.4"/><circle cx="1258.5" cy="1144.6" r="7.4"/><circle cx="2369.4" cy="1144.6" r="7.4"/><circle cx="1259.8" cy="1175.1" r="7.4"/><circle cx="2370.6" cy="1175.1" r="7.4"/><circle cx="1261.3" cy="1137.7" r="7.4"/><circle cx="2372.1" cy="1137.7" r="7.4"/><circle cx="1263.4" cy="1107.6" r="7.4"/><circle cx="2374.3" cy="1107.6" r="7.4"/><circle cx="1263.4" cy="1147.3" r="7.4"/><circle cx="2374.3" cy="1147.3" r="7.4"/><circle cx="1263.4" cy="1155.3" r="7.4"/><circle cx="2374.3" cy="1155.3" r="7.4"/><circle cx="1264.7" cy="1102.2" r="7.4"/><circle cx="2375.5" cy="1102.2" r="7.4"/><circle cx="1265.9" cy="1092.9" r="7.4"/><circle cx="2376.7" cy="1092.9" r="7.4"/><circle cx="1265.9" cy="1148.5" r="7.4"/><circle cx="2376.7" cy="1148.5" r="7.4"/><circle cx="1266.2" cy="1140.2" r="7.4"/><circle cx="2377.0" cy="1140.2" r="7.4"/><circle cx="1268.6" cy="1133.4" r="7.4"/><circle cx="2379.5" cy="1133.4" r="7.4"/><circle cx="1269.6" cy="1108.5" r="7.4"/><circle cx="2380.4" cy="1108.5" r="7.4"/><circle cx="1270.8" cy="1095.1" r="7.4"/><circle cx="2381.6" cy="1095.1" r="7.4"/><circle cx="1271.3" cy="1158.1" r="7.4"/><circle cx="2382.1" cy="1158.1" r="7.4"/><circle cx="1272.0" cy="1165.1" r="7.4"/><circle cx="2382.9" cy="1165.1" r="7.4"/><circle cx="1273.2" cy="1084.1" r="7.4"/><circle cx="2384.1" cy="1084.1" r="7.4"/><circle cx="1273.5" cy="1135.4" r="7.4"/><circle cx="2384.4" cy="1135.4" r="7.4"/><circle cx="1276.9" cy="1143.1" r="7.4"/><circle cx="2387.8" cy="1143.1" r="7.4"/><circle cx="1278.1" cy="1145.5" r="7.4"/><circle cx="2389.0" cy="1145.5" r="7.4"/><circle cx="1278.4" cy="1137.2" r="7.4"/><circle cx="2389.3" cy="1137.2" r="7.4"/><circle cx="1279.4" cy="1080.4" r="7.4"/><circle cx="2390.2" cy="1080.4" r="7.4"/><circle cx="1280.6" cy="1094.7" r="7.4"/><circle cx="2391.4" cy="1094.7" r="7.4"/><circle cx="1283.0" cy="1103.4" r="7.4"/><circle cx="2393.9" cy="1103.4" r="7.4"/><circle cx="1283.0" cy="1111.4" r="7.4"/><circle cx="2393.9" cy="1111.4" r="7.4"/><circle cx="1283.0" cy="1151.1" r="7.4"/><circle cx="2393.9" cy="1151.1" r="7.4"/><circle cx="1284.6" cy="1133.2" r="7.4"/><circle cx="2395.4" cy="1133.2" r="7.4"/><circle cx="1285.0" cy="1156.5" r="7.4"/><circle cx="2395.8" cy="1156.5" r="7.4"/><circle cx="1285.5" cy="1096.2" r="7.4"/><circle cx="2396.3" cy="1096.2" r="7.4"/><circle cx="1285.8" cy="1135.6" r="7.4"/><circle cx="2396.6" cy="1135.6" r="7.4"/><circle cx="1286.2" cy="1210.5" r="7.4"/><circle cx="2397.1" cy="1210.5" r="7.4"/><circle cx="1288.2" cy="1136.4" r="7.4"/><circle cx="2399.1" cy="1136.4" r="7.4"/><circle cx="1288.4" cy="1167.9" r="7.4"/><circle cx="2399.3" cy="1167.9" r="7.4"/><circle cx="1290.4" cy="1197.1" r="7.4"/><circle cx="2401.2" cy="1197.1" r="7.4"/><circle cx="1292.8" cy="1142.3" r="7.4"/><circle cx="2403.7" cy="1142.3" r="7.4"/><circle cx="1292.8" cy="1154.2" r="7.4"/><circle cx="2403.7" cy="1154.2" r="7.4"/><circle cx="1296.5" cy="1081.9" r="7.4"/><circle cx="2407.4" cy="1081.9" r="7.4"/><circle cx="1296.5" cy="1089.8" r="7.4"/><circle cx="2407.4" cy="1089.8" r="7.4"/><circle cx="1296.5" cy="1141.5" r="7.4"/><circle cx="2407.4" cy="1141.5" r="7.4"/><circle cx="1299.0" cy="1055.0" r="7.4"/><circle cx="2409.8" cy="1055.0" r="7.4"/><circle cx="1299.0" cy="1094.7" r="7.4"/><circle cx="2409.8" cy="1094.7" r="7.4"/><circle cx="1299.0" cy="1142.4" r="7.4"/><circle cx="2409.8" cy="1142.4" r="7.4"/><circle cx="1300.2" cy="1101.2" r="7.4"/><circle cx="2411.0" cy="1101.2" r="7.4"/><circle cx="1302.6" cy="1054.5" r="7.4"/><circle cx="2413.5" cy="1054.5" r="7.4"/><circle cx="1302.6" cy="1082.4" r="7.4"/><circle cx="2413.5" cy="1082.4" r="7.4"/><circle cx="1302.6" cy="1086.3" r="7.4"/><circle cx="2413.5" cy="1086.3" r="7.4"/><circle cx="1302.6" cy="1094.3" r="7.4"/><circle cx="2413.5" cy="1094.3" r="7.4"/><circle cx="1305.1" cy="1075.6" r="7.4"/><circle cx="2416.0" cy="1075.6" r="7.4"/><circle cx="1305.1" cy="1115.3" r="7.4"/><circle cx="2416.0" cy="1115.3" r="7.4"/><circle cx="1305.1" cy="1135.2" r="7.4"/><circle cx="2416.0" cy="1135.2" r="7.4"/><circle cx="1306.3" cy="1102.1" r="7.4"/><circle cx="2417.2" cy="1102.1" r="7.4"/><circle cx="1306.3" cy="1137.9" r="7.4"/><circle cx="2417.2" cy="1137.9" r="7.4"/><circle cx="1308.8" cy="1147.2" r="7.4"/><circle cx="2419.6" cy="1147.2" r="7.4"/><circle cx="1309.5" cy="1142.5" r="7.4"/><circle cx="2420.4" cy="1142.5" r="7.4"/><circle cx="1311.2" cy="1089.3" r="7.4"/><circle cx="2422.1" cy="1089.3" r="7.4"/><circle cx="1311.2" cy="1097.2" r="7.4"/><circle cx="2422.1" cy="1097.2" r="7.4"/><circle cx="1311.2" cy="1101.2" r="7.4"/><circle cx="2422.1" cy="1101.2" r="7.4"/><circle cx="1311.2" cy="1117.1" r="7.4"/><circle cx="2422.1" cy="1117.1" r="7.4"/><circle cx="1313.7" cy="1130.9" r="7.4"/><circle cx="2424.5" cy="1130.9" r="7.4"/><circle cx="1314.9" cy="1141.9" r="7.4"/><circle cx="2425.7" cy="1141.9" r="7.4"/><circle cx="1314.9" cy="1173.7" r="7.4"/><circle cx="2425.7" cy="1173.7" r="7.4"/><circle cx="1316.1" cy="1164.9" r="7.4"/><circle cx="2427.0" cy="1164.9" r="7.4"/><circle cx="1317.4" cy="1084.6" r="7.4"/><circle cx="2428.2" cy="1084.6" r="7.4"/><circle cx="1318.6" cy="1155.4" r="7.4"/><circle cx="2429.4" cy="1155.4" r="7.4"/><circle cx="1321.0" cy="1146.3" r="7.4"/><circle cx="2431.9" cy="1146.3" r="7.4"/><circle cx="1321.0" cy="1158.2" r="7.4"/><circle cx="2431.9" cy="1158.2" r="7.4"/><circle cx="1322.3" cy="1098.2" r="7.4"/><circle cx="2433.1" cy="1098.2" r="7.4"/><circle cx="1322.3" cy="1114.1" r="7.4"/><circle cx="2433.1" cy="1114.1" r="7.4"/><circle cx="1322.3" cy="1177.6" r="7.4"/><circle cx="2433.1" cy="1177.6" r="7.4"/><circle cx="1322.6" cy="1102.0" r="7.4"/><circle cx="2433.4" cy="1102.0" r="7.4"/><circle cx="1325.9" cy="1161.0" r="7.4"/><circle cx="2436.8" cy="1161.0" r="7.4"/><circle cx="1325.9" cy="1169.0" r="7.4"/><circle cx="2436.8" cy="1169.0" r="7.4"/><circle cx="1326.7" cy="1069.6" r="7.4"/><circle cx="2437.5" cy="1069.6" r="7.4"/><circle cx="1327.2" cy="1141.1" r="7.4"/><circle cx="2438.0" cy="1141.1" r="7.4"/><circle cx="1328.4" cy="1061.7" r="7.4"/><circle cx="2439.2" cy="1061.7" r="7.4"/><circle cx="1329.6" cy="1145.4" r="7.4"/><circle cx="2440.5" cy="1145.4" r="7.4"/><circle cx="1329.9" cy="1097.8" r="7.4"/><circle cx="2440.8" cy="1097.8" r="7.4"/><circle cx="1330.8" cy="1106.0" r="7.4"/><circle cx="2441.7" cy="1106.0" r="7.4"/><circle cx="1333.3" cy="1087.2" r="7.4"/><circle cx="2444.1" cy="1087.2" r="7.4"/><circle cx="1334.0" cy="1095.6" r="7.4"/><circle cx="2444.9" cy="1095.6" r="7.4"/><circle cx="1334.8" cy="1100.0" r="7.4"/><circle cx="2445.7" cy="1100.0" r="7.4"/><circle cx="1335.7" cy="1132.5" r="7.4"/><circle cx="2446.6" cy="1132.5" r="7.4"/><circle cx="1335.7" cy="1140.5" r="7.4"/><circle cx="2446.6" cy="1140.5" r="7.4"/><circle cx="1336.0" cy="1104.9" r="7.4"/><circle cx="2446.9" cy="1104.9" r="7.4"/><circle cx="1337.2" cy="1094.0" r="7.4"/><circle cx="2448.1" cy="1094.0" r="7.4"/><circle cx="1338.2" cy="1130.7" r="7.4"/><circle cx="2449.0" cy="1130.7" r="7.4"/><circle cx="1340.6" cy="1157.3" r="7.4"/><circle cx="2451.5" cy="1157.3" r="7.4"/><circle cx="1341.9" cy="1143.0" r="7.4"/><circle cx="2452.7" cy="1143.0" r="7.4"/><circle cx="1348.0" cy="1161.1" r="7.4"/><circle cx="2458.8" cy="1161.1" r="7.4"/><circle cx="1348.0" cy="1165.1" r="7.4"/><circle cx="2458.8" cy="1165.1" r="7.4"/><circle cx="1351.7" cy="1069.7" r="7.4"/><circle cx="2462.5" cy="1069.7" r="7.4"/><circle cx="1353.6" cy="1157.9" r="7.4"/><circle cx="2464.5" cy="1157.9" r="7.4"/><circle cx="1357.3" cy="1052.4" r="7.4"/><circle cx="2468.2" cy="1052.4" r="7.4"/><circle cx="1357.8" cy="1077.7" r="7.4"/><circle cx="2468.6" cy="1077.7" r="7.4"/><circle cx="1357.8" cy="1105.5" r="7.4"/><circle cx="2468.6" cy="1105.5" r="7.4"/><circle cx="1358.3" cy="1031.4" r="7.4"/><circle cx="2469.1" cy="1031.4" r="7.4"/><circle cx="1361.5" cy="1104.6" r="7.4"/><circle cx="2472.3" cy="1104.6" r="7.4"/><circle cx="1363.9" cy="1148.3" r="7.4"/><circle cx="2474.8" cy="1148.3" r="7.4"/><circle cx="1366.4" cy="1148.7" r="7.4"/><circle cx="2477.2" cy="1148.7" r="7.4"/><circle cx="1370.1" cy="1157.6" r="7.4"/><circle cx="2480.9" cy="1157.6" r="7.4"/><circle cx="1371.3" cy="1142.1" r="7.4"/><circle cx="2482.1" cy="1142.1" r="7.4"/><circle cx="1372.5" cy="1174.3" r="7.4"/><circle cx="2483.3" cy="1174.3" r="7.4"/><circle cx="1374.5" cy="1189.4" r="7.4"/><circle cx="2485.3" cy="1189.4" r="7.4"/><circle cx="1375.0" cy="1087.9" r="7.4"/><circle cx="2485.8" cy="1087.9" r="7.4"/><circle cx="1375.0" cy="1103.8" r="7.4"/><circle cx="2485.8" cy="1103.8" r="7.4"/><circle cx="1375.7" cy="1078.7" r="7.4"/><circle cx="2486.5" cy="1078.7" r="7.4"/><circle cx="1376.2" cy="1088.4" r="7.4"/><circle cx="2487.0" cy="1088.4" r="7.4"/><circle cx="1376.2" cy="1148.0" r="7.4"/><circle cx="2487.0" cy="1148.0" r="7.4"/><circle cx="1377.4" cy="1172.4" r="7.4"/><circle cx="2488.3" cy="1172.4" r="7.4"/><circle cx="1377.4" cy="1188.3" r="7.4"/><circle cx="2488.3" cy="1188.3" r="7.4"/><circle cx="1378.1" cy="1079.7" r="7.4"/><circle cx="2489.0" cy="1079.7" r="7.4"/><circle cx="1379.9" cy="1077.9" r="7.4"/><circle cx="2490.7" cy="1077.9" r="7.4"/><circle cx="1381.1" cy="1149.8" r="7.4"/><circle cx="2491.9" cy="1149.8" r="7.4"/><circle cx="1382.3" cy="1158.2" r="7.4"/><circle cx="2493.2" cy="1158.2" r="7.4"/><circle cx="1383.5" cy="1134.6" r="7.4"/><circle cx="2494.4" cy="1134.6" r="7.4"/><circle cx="1313.4" cy="1119.2" r="7.4"/><circle cx="2424.2" cy="1119.2" r="7.4"/><circle cx="1009.9" cy="1124.3" r="7.4"/><circle cx="2120.7" cy="1124.3" r="7.4"/><circle cx="1071.0" cy="1126.5" r="7.4"/><circle cx="2181.8" cy="1126.5" r="7.4"/><circle cx="1273.5" cy="1127.6" r="7.4"/><circle cx="2384.3" cy="1127.6" r="7.4"/><circle cx="968.7" cy="1114.6" r="7.4"/><circle cx="2079.5" cy="1114.6" r="7.4"/><circle cx="1140.7" cy="1122.0" r="7.4"/><circle cx="2251.6" cy="1122.0" r="7.4"/><circle cx="1201.8" cy="1122.9" r="7.4"/><circle cx="2312.7" cy="1122.9" r="7.4"/><circle cx="537.2" cy="1124.1" r="7.4"/><circle cx="1648.0" cy="1124.1" r="7.4"/><circle cx="621.0" cy="1118.4" r="7.4"/><circle cx="1731.9" cy="1118.4" r="7.4"/><circle cx="606.3" cy="1120.9" r="7.4"/><circle cx="1717.2" cy="1120.9" r="7.4"/><circle cx="1248.9" cy="1114.2" r="7.4"/><circle cx="2359.8" cy="1114.2" r="7.4"/><circle cx="1288.8" cy="1115.7" r="7.4"/><circle cx="2399.7" cy="1115.7" r="7.4"/><circle cx="890.7" cy="1123.1" r="7.4"/><circle cx="2001.5" cy="1123.1" r="7.4"/><circle cx="1191.2" cy="1118.3" r="7.4"/><circle cx="2302.0" cy="1118.3" r="7.4"/><circle cx="426.3" cy="1116.6" r="7.4"/><circle cx="1537.2" cy="1116.6" r="7.4"/><circle cx="1165.2" cy="1119.6" r="7.4"/><circle cx="2276.1" cy="1119.6" r="7.4"/><circle cx="420.9" cy="1118.0" r="7.4"/><circle cx="1531.7" cy="1118.0" r="7.4"/><circle cx="850.7" cy="1117.3" r="7.4"/><circle cx="1961.5" cy="1117.3" r="7.4"/><circle cx="1182.1" cy="1128.6" r="7.4"/><circle cx="2292.9" cy="1128.6" r="7.4"/><circle cx="675.2" cy="1119.2" r="7.4"/><circle cx="1786.1" cy="1119.2" r="7.4"/><circle cx="591.6" cy="1123.2" r="7.4"/><circle cx="1702.5" cy="1123.2" r="7.4"/><circle cx="1105.9" cy="1115.1" r="7.4"/><circle cx="2216.8" cy="1115.1" r="7.4"/><circle cx="564.3" cy="1119.9" r="7.4"/><circle cx="1675.1" cy="1119.9" r="7.4"/><circle cx="828.3" cy="1128.2" r="7.4"/><circle cx="1939.2" cy="1128.2" r="7.4"/><circle cx="867.4" cy="1126.0" r="7.4"/><circle cx="1978.2" cy="1126.0" r="7.4"/><circle cx="897.9" cy="1123.4" r="7.4"/><circle cx="2008.8" cy="1123.4" r="7.4"/><circle cx="948.0" cy="1121.6" r="7.4"/><circle cx="2058.9" cy="1121.6" r="7.4"/><circle cx="905.3" cy="1115.8" r="7.4"/><circle cx="2016.2" cy="1115.8" r="7.4"/><circle cx="1177.1" cy="1117.7" r="7.4"/><circle cx="2288.0" cy="1117.7" r="7.4"/><circle cx="1083.8" cy="1118.8" r="7.4"/><circle cx="2194.7" cy="1118.8" r="7.4"/><circle cx="845.4" cy="1117.0" r="7.4"/><circle cx="1956.2" cy="1117.0" r="7.4"/><circle cx="518.6" cy="1125.4" r="7.4"/><circle cx="1629.5" cy="1125.4" r="7.4"/><circle cx="1220.7" cy="1118.5" r="7.4"/><circle cx="2331.6" cy="1118.5" r="7.4"/><circle cx="452.7" cy="1118.3" r="7.4"/><circle cx="1563.5" cy="1118.3" r="7.4"/><circle cx="1230.8" cy="1116.5" r="7.4"/><circle cx="2341.6" cy="1116.5" r="7.4"/><circle cx="1001.4" cy="1127.9" r="7.4"/><circle cx="2112.2" cy="1127.9" r="7.4"/><circle cx="434.0" cy="1123.3" r="7.4"/><circle cx="1544.8" cy="1123.3" r="7.4"/><circle cx="912.6" cy="1116.1" r="7.4"/><circle cx="2023.5" cy="1116.1" r="7.4"/><circle cx="1291.2" cy="1128.5" r="7.4"/><circle cx="2402.0" cy="1128.5" r="7.4"/><circle cx="1192.6" cy="1125.9" r="7.4"/><circle cx="2303.5" cy="1125.9" r="7.4"/><circle cx="1018.6" cy="1124.7" r="7.4"/><circle cx="2129.4" cy="1124.7" r="7.4"/><circle cx="822.6" cy="1123.9" r="7.4"/><circle cx="1933.4" cy="1123.9" r="7.4"/><circle cx="585.5" cy="1126.5" r="7.4"/><circle cx="1696.3" cy="1126.5" r="7.4"/><circle cx="888.9" cy="1115.0" r="7.4"/><circle cx="1999.8" cy="1115.0" r="7.4"/><circle cx="731.8" cy="1119.1" r="7.4"/><circle cx="1842.7" cy="1119.1" r="7.4"/><circle cx="556.8" cy="1122.8" r="7.4"/><circle cx="1667.6" cy="1122.8" r="7.4"/><circle cx="390.3" cy="1126.4" r="7.4"/><circle cx="1501.1" cy="1126.4" r="7.4"/><circle cx="486.2" cy="1124.9" r="7.4"/><circle cx="1597.1" cy="1124.9" r="7.4"/><circle cx="1077.0" cy="1122.7" r="7.4"/><circle cx="2187.8" cy="1122.7" r="7.4"/><circle cx="1254.4" cy="1117.0" r="7.4"/><circle cx="2365.3" cy="1117.0" r="7.4"/><circle cx="505.8" cy="1115.6" r="7.4"/><circle cx="1616.7" cy="1115.6" r="7.4"/><circle cx="1103.6" cy="1127.0" r="7.4"/><circle cx="2214.4" cy="1127.0" r="7.4"/><circle cx="710.6" cy="1129.7" r="7.4"/><circle cx="1821.5" cy="1129.7" r="7.4"/><circle cx="880.9" cy="1118.6" r="7.4"/><circle cx="1991.7" cy="1118.6" r="7.4"/><circle cx="1047.6" cy="1117.8" r="7.4"/><circle cx="2158.5" cy="1117.8" r="7.4"/><circle cx="927.7" cy="1116.8" r="7.4"/><circle cx="2038.6" cy="1116.8" r="7.4"/><circle cx="903.1" cy="1123.6" r="7.4"/><circle cx="2013.9" cy="1123.6" r="7.4"/><circle cx="1307.8" cy="1128.4" r="7.4"/><circle cx="2418.6" cy="1128.4" r="7.4"/><circle cx="1224.8" cy="1128.1" r="7.4"/><circle cx="2335.6" cy="1128.1" r="7.4"/><circle cx="1099.1" cy="1119.0" r="7.4"/><circle cx="2209.9" cy="1119.0" r="7.4"/><circle cx="1024.0" cy="1120.9" r="7.4"/><circle cx="2134.9" cy="1120.9" r="7.4"/><circle cx="1115.7" cy="1126.9" r="7.4"/><circle cx="2226.6" cy="1126.9" r="7.4"/><circle cx="861.0" cy="1121.7" r="7.4"/><circle cx="1971.9" cy="1121.7" r="7.4"/><circle cx="387.4" cy="1116.9" r="7.4"/><circle cx="1498.3" cy="1116.9" r="7.4"/><circle cx="559.0" cy="1115.2" r="7.4"/><circle cx="1669.9" cy="1115.2" r="7.4"/><circle cx="930.4" cy="1128.8" r="7.4"/><circle cx="2041.3" cy="1128.8" r="7.4"/><circle cx="1240.3" cy="1121.6" r="7.4"/><circle cx="2351.1" cy="1121.6" r="7.4"/><circle cx="1031.2" cy="1129.1" r="7.4"/><circle cx="2142.0" cy="1129.1" r="7.4"/><circle cx="988.9" cy="1115.5" r="7.4"/><circle cx="2099.7" cy="1115.5" r="7.4"/><circle cx="409.4" cy="1118.1" r="7.4"/><circle cx="1520.2" cy="1118.1" r="7.4"/><circle cx="740.0" cy="1127.6" r="7.4"/><circle cx="1850.9" cy="1127.6" r="7.4"/><circle cx="988.1" cy="1123.4" r="7.4"/><circle cx="2098.9" cy="1123.4" r="7.4"/><circle cx="648.4" cy="1125.0" r="7.4"/><circle cx="1759.3" cy="1125.0" r="7.4"/><circle cx="531.6" cy="1123.3" r="7.4"/><circle cx="1642.4" cy="1123.3" r="7.4"/><circle cx="727.6" cy="1126.8" r="7.4"/><circle cx="1838.5" cy="1126.8" r="7.4"/><circle cx="768.7" cy="1125.2" r="7.4"/><circle cx="1879.6" cy="1125.2" r="7.4"/><circle cx="726.6" cy="1118.8" r="7.4"/><circle cx="1837.5" cy="1118.8" r="7.4"/><circle cx="967.8" cy="1122.5" r="7.4"/><circle cx="2078.7" cy="1122.5" r="7.4"/><circle cx="749.6" cy="1128.1" r="7.4"/><circle cx="1860.4" cy="1128.1" r="7.4"/><circle cx="825.9" cy="1116.1" r="7.4"/><circle cx="1936.8" cy="1116.1" r="7.4"/><circle cx="940.9" cy="1117.3" r="7.4"/><circle cx="2051.7" cy="1117.3" r="7.4"/><circle cx="1060.3" cy="1114.3" r="7.4"/><circle cx="2171.2" cy="1114.3" r="7.4"/><circle cx="1327.9" cy="1121.3" r="7.4"/><circle cx="2438.8" cy="1121.3" r="7.4"/><circle cx="702.1" cy="1125.2" r="7.4"/><circle cx="1813.0" cy="1125.2" r="7.4"/><circle cx="776.4" cy="1121.6" r="7.4"/><circle cx="1887.2" cy="1121.6" r="7.4"/><circle cx="621.0" cy="1126.4" r="7.4"/><circle cx="1731.9" cy="1126.4" r="7.4"/><circle cx="1212.3" cy="1118.7" r="7.4"/><circle cx="2323.1" cy="1118.7" r="7.4"/><circle cx="874.4" cy="1118.4" r="7.4"/><circle cx="1985.3" cy="1118.4" r="7.4"/><circle cx="1280.2" cy="1119.1" r="7.4"/><circle cx="2391.0" cy="1119.1" r="7.4"/><circle cx="954.1" cy="1129.8" r="7.4"/><circle cx="2065.0" cy="1129.8" r="7.4"/><circle cx="600.4" cy="1128.2" r="7.4"/><circle cx="1711.2" cy="1128.2" r="7.4"/><circle cx="441.1" cy="1126.6" r="7.4"/><circle cx="1552.0" cy="1126.6" r="7.4"/><circle cx="492.6" cy="1117.8" r="7.4"/><circle cx="1603.5" cy="1117.8" r="7.4"/><circle cx="1126.4" cy="1126.7" r="7.4"/><circle cx="2237.2" cy="1126.7" r="7.4"/><circle cx="1303.1" cy="1117.6" r="7.4"/><circle cx="2414.0" cy="1117.6" r="7.4"/><circle cx="940.3" cy="1125.3" r="7.4"/><circle cx="2051.2" cy="1125.3" r="7.4"/><circle cx="479.0" cy="1124.1" r="7.4"/><circle cx="1589.9" cy="1124.1" r="7.4"/><circle cx="1261.0" cy="1118.2" r="7.4"/><circle cx="2371.9" cy="1118.2" r="7.4"/><circle cx="959.0" cy="1118.1" r="7.4"/><circle cx="2069.8" cy="1118.1" r="7.4"/><circle cx="1132.1" cy="1122.5" r="7.4"/><circle cx="2242.9" cy="1122.5" r="7.4"/><circle cx="650.2" cy="1117.2" r="7.4"/><circle cx="1761.1" cy="1117.2" r="7.4"/><circle cx="1127.0" cy="1118.7" r="7.4"/><circle cx="2237.9" cy="1118.7" r="7.4"/><circle cx="717.7" cy="1122.2" r="7.4"/><circle cx="1828.6" cy="1122.2" r="7.4"/><circle cx="1170.2" cy="1126.8" r="7.4"/><circle cx="2281.0" cy="1126.8" r="7.4"/><circle cx="420.5" cy="1126.0" r="7.4"/><circle cx="1531.3" cy="1126.0" r="7.4"/><circle cx="785.8" cy="1118.1" r="7.4"/><circle cx="1896.6" cy="1118.1" r="7.4"/><circle cx="407.8" cy="1126.8" r="7.4"/><circle cx="1518.6" cy="1126.8" r="7.4"/><circle cx="804.7" cy="1127.0" r="7.4"/><circle cx="1915.6" cy="1127.0" r="7.4"/><circle cx="370.7" cy="1123.8" r="7.4"/><circle cx="1481.5" cy="1123.8" r="7.4"/><circle cx="813.1" cy="1119.5" r="7.4"/><circle cx="1924.0" cy="1119.5" r="7.4"/><circle cx="1246.7" cy="1128.2" r="7.4"/><circle cx="2357.5" cy="1128.2" r="7.4"/><circle cx="1066.0" cy="1114.4" r="7.4"/><circle cx="2176.9" cy="1114.4" r="7.4"/><circle cx="685.3" cy="1120.0" r="7.4"/><circle cx="1796.2" cy="1120.0" r="7.4"/><circle cx="976.1" cy="1126.8" r="7.4"/><circle cx="2087.0" cy="1126.8" r="7.4"/><circle cx="594.3" cy="1115.6" r="7.4"/><circle cx="1705.2" cy="1115.6" r="7.4"/><circle cx="702.1" cy="1117.2" r="7.4"/><circle cx="1813.0" cy="1117.2" r="7.4"/><circle cx="916.8" cy="1124.2" r="7.4"/><circle cx="2027.6" cy="1124.2" r="7.4"/><circle cx="1153.1" cy="1125.0" r="7.4"/><circle cx="2264.0" cy="1125.0" r="7.4"/><circle cx="1281.9" cy="1124.8" r="7.4"/><circle cx="2392.8" cy="1124.8" r="7.4"/><circle cx="633.4" cy="1123.6" r="7.4"/><circle cx="1744.2" cy="1123.6" r="7.4"/><circle cx="1120.1" cy="1118.9" r="7.4"/><circle cx="2230.9" cy="1118.9" r="7.4"/><circle cx="1032.6" cy="1117.3" r="7.4"/><circle cx="2143.4" cy="1117.3" r="7.4"/><circle cx="793.9" cy="1126.5" r="7.4"/><circle cx="1904.7" cy="1126.5" r="7.4"/><circle cx="1318.4" cy="1119.7" r="7.4"/><circle cx="2429.3" cy="1119.7" r="7.4"/><circle cx="1284.9" cy="1128.8" r="7.4"/><circle cx="2395.7" cy="1128.8" r="7.4"/><circle cx="710.3" cy="1121.7" r="7.4"/><circle cx="1821.2" cy="1121.7" r="7.4"/><circle cx="755.5" cy="1128.4" r="7.4"/><circle cx="1866.4" cy="1128.4" r="7.4"/><circle cx="686.7" cy="1128.0" r="7.4"/><circle cx="1797.6" cy="1128.0" r="7.4"/><circle cx="631.2" cy="1115.5" r="7.4"/><circle cx="1742.0" cy="1115.5" r="7.4"/><circle cx="1318.9" cy="1127.4" r="7.4"/><circle cx="2429.7" cy="1127.4" r="7.4"/><circle cx="436.5" cy="1115.1" r="7.4"/><circle cx="1547.3" cy="1115.1" r="7.4"/><circle cx="380.6" cy="1119.8" r="7.4"/><circle cx="1491.4" cy="1119.8" r="7.4"/><circle cx="526.5" cy="1118.6" r="7.4"/><circle cx="1637.3" cy="1118.6" r="7.4"/><circle cx="499.7" cy="1126.7" r="7.4"/><circle cx="1610.5" cy="1126.7" r="7.4"/><circle cx="451.9" cy="1126.3" r="7.4"/><circle cx="1562.7" cy="1126.3" r="7.4"/><circle cx="1270.2" cy="1119.6" r="7.4"/><circle cx="2381.1" cy="1119.6" r="7.4"/><circle cx="805.0" cy="1119.1" r="7.4"/><circle cx="1915.8" cy="1119.1" r="7.4"/><circle cx="782.1" cy="1125.9" r="7.4"/><circle cx="1892.9" cy="1125.9" r="7.4"/><circle cx="365.4" cy="1119.3" r="7.4"/><circle cx="1476.2" cy="1119.3" r="7.4"/><circle cx="462.0" cy="1126.6" r="7.4"/><circle cx="1572.8" cy="1126.6" r="7.4"/><circle cx="1156.3" cy="1116.8" r="7.4"/><circle cx="2267.1" cy="1116.8" r="7.4"/><circle cx="1060.1" cy="1126.2" r="7.4"/><circle cx="2171.0" cy="1126.2" r="7.4"/><circle cx="1296.6" cy="1117.5" r="7.4"/><circle cx="2407.5" cy="1117.5" r="7.4"/><circle cx="665.4" cy="1118.5" r="7.4"/><circle cx="1776.2" cy="1118.5" r="7.4"/><circle cx="459.7" cy="1118.5" r="7.4"/><circle cx="1570.5" cy="1118.5" r="7.4"/><circle cx="982.7" cy="1119.2" r="7.4"/><circle cx="2093.5" cy="1119.2" r="7.4"/><circle cx="415.1" cy="1115.8" r="7.4"/><circle cx="1526.0" cy="1115.8" r="7.4"/><circle cx="841.8" cy="1124.8" r="7.4"/><circle cx="1952.6" cy="1124.8" r="7.4"/><circle cx="1042.3" cy="1121.6" r="7.4"/><circle cx="2153.1" cy="1121.6" r="7.4"/><circle cx="851.5" cy="1125.3" r="7.4"/><circle cx="1962.4" cy="1125.3" r="7.4"/><circle cx="475.7" cy="1115.8" r="7.4"/><circle cx="1586.5" cy="1115.8" r="7.4"/><circle cx="1110.2" cy="1127.0" r="7.4"/><circle cx="2221.1" cy="1127.0" r="7.4"/><circle cx="1089.8" cy="1115.0" r="7.4"/><circle cx="2200.6" cy="1115.0" r="7.4"/><circle cx="1213.4" cy="1126.1" r="7.4"/><circle cx="2324.2" cy="1126.1" r="7.4"/><circle cx="921.9" cy="1124.4" r="7.4"/><circle cx="2032.7" cy="1124.4" r="7.4"/><circle cx="568.0" cy="1128.3" r="7.4"/><circle cx="1678.9" cy="1128.3" r="7.4"/><circle cx="1090.0" cy="1122.9" r="7.4"/><circle cx="2200.9" cy="1122.9" r="7.4"/><circle cx="953.3" cy="1121.9" r="7.4"/><circle cx="2064.2" cy="1121.9" r="7.4"/><circle cx="974.3" cy="1118.8" r="7.4"/><circle cx="2085.2" cy="1118.8" r="7.4"/><circle cx="383.4" cy="1128.8" r="7.4"/><circle cx="1494.2" cy="1128.8" r="7.4"/><circle cx="628.2" cy="1127.1" r="7.4"/><circle cx="1739.0" cy="1127.1" r="7.4"/><circle cx="1310.1" cy="1114.2" r="7.4"/><circle cx="2420.9" cy="1114.2" r="7.4"/><circle cx="1183.7" cy="1116.3" r="7.4"/><circle cx="2294.6" cy="1116.3" r="7.4"/><circle cx="546.2" cy="1117.4" r="7.4"/><circle cx="1657.1" cy="1117.4" r="7.4"/><circle cx="673.0" cy="1127.0" r="7.4"/><circle cx="1783.8" cy="1127.0" r="7.4"/><circle cx="640.6" cy="1120.3" r="7.4"/><circle cx="1751.5" cy="1120.3" r="7.4"/><circle cx="1014.6" cy="1116.5" r="7.4"/><circle cx="2125.4" cy="1116.5" r="7.4"/><circle cx="1162.1" cy="1128.0" r="7.4"/><circle cx="2272.9" cy="1128.0" r="7.4"/><circle cx="1047.7" cy="1125.8" r="7.4"/><circle cx="2158.6" cy="1125.8" r="7.4"/><circle cx="1237.6" cy="1115.6" r="7.4"/><circle cx="2348.5" cy="1115.6" r="7.4"/><circle cx="492.5" cy="1125.7" r="7.4"/><circle cx="1603.3" cy="1125.7" r="7.4"/><circle cx="572.4" cy="1116.9" r="7.4"/><circle cx="1683.2" cy="1116.9" r="7.4"/><circle cx="995.6" cy="1119.7" r="7.4"/><circle cx="2106.4" cy="1119.7" r="7.4"/><circle cx="655.9" cy="1117.7" r="7.4"/><circle cx="1766.7" cy="1117.7" r="7.4"/><circle cx="1241.0" cy="1128.9" r="7.4"/><circle cx="2351.8" cy="1128.9" r="7.4"/><circle cx="521.0" cy="1117.8" r="7.4"/><circle cx="1631.8" cy="1117.8" r="7.4"/><circle cx="400.0" cy="1127.2" r="7.4"/><circle cx="1510.8" cy="1127.2" r="7.4"/><circle cx="611.4" cy="1125.4" r="7.4"/><circle cx="1722.3" cy="1125.4" r="7.4"/><circle cx="515.9" cy="1117.0" r="7.4"/><circle cx="1626.7" cy="1117.0" r="7.4"/><circle cx="660.6" cy="1126.0" r="7.4"/><circle cx="1771.4" cy="1126.0" r="7.4"/><circle cx="1375.0" cy="1135.6" r="7.4"/><circle cx="2485.8" cy="1135.6" r="7.4"/><circle cx="361.3" cy="1125.4" r="7.4"/><circle cx="1472.2" cy="1125.4" r="7.4"/><circle cx="326.3" cy="1126.7" r="7.4"/><circle cx="1437.2" cy="1126.7" r="7.4"/><circle cx="1365.1" cy="1116.4" r="7.4"/><circle cx="2475.9" cy="1116.4" r="7.4"/><circle cx="1376.3" cy="1116.6" r="7.4"/><circle cx="2487.1" cy="1116.6" r="7.4"/><circle cx="285.1" cy="1133.1" r="7.4"/><circle cx="1396.0" cy="1133.1" r="7.4"/><circle cx="317.0" cy="1120.6" r="7.4"/><circle cx="1427.8" cy="1120.6" r="7.4"/><circle cx="1360.6" cy="1117.7" r="7.4"/><circle cx="2471.4" cy="1117.7" r="7.4"/><circle cx="1346.9" cy="1119.2" r="7.4"/><circle cx="2457.7" cy="1119.2" r="7.4"/><circle cx="1366.9" cy="1134.7" r="7.4"/><circle cx="2477.8" cy="1134.7" r="7.4"/><circle cx="340.1" cy="1125.2" r="7.4"/><circle cx="1451.0" cy="1125.2" r="7.4"/><circle cx="1360.3" cy="1132.9" r="7.4"/><circle cx="2471.2" cy="1132.9" r="7.4"/><circle cx="1375.7" cy="1126.5" r="7.4"/><circle cx="2486.6" cy="1126.5" r="7.4"/><circle cx="1379.7" cy="1105.3" r="7.4"/><circle cx="2490.6" cy="1105.3" r="7.4"/><circle cx="291.8" cy="1116.1" r="7.4"/><circle cx="1402.6" cy="1116.1" r="7.4"/><circle cx="282.0" cy="1136.7" r="7.4"/><circle cx="1392.9" cy="1136.7" r="7.4"/><circle cx="318.1" cy="1127.7" r="7.4"/><circle cx="1429.0" cy="1127.7" r="7.4"/><circle cx="278.1" cy="1140.6" r="7.4"/><circle cx="1388.9" cy="1140.6" r="7.4"/><circle cx="1346.3" cy="1130.1" r="7.4"/><circle cx="2457.1" cy="1130.1" r="7.4"/><circle cx="334.3" cy="1119.0" r="7.4"/><circle cx="1445.1" cy="1119.0" r="7.4"/><circle cx="1361.4" cy="1112.4" r="7.4"/><circle cx="2472.2" cy="1112.4" r="7.4"/><circle cx="1348.8" cy="1115.0" r="7.4"/><circle cx="2459.6" cy="1115.0" r="7.4"/><circle cx="280.0" cy="1138.8" r="7.4"/><circle cx="1390.9" cy="1138.8" r="7.4"/><circle cx="297.9" cy="1117.5" r="7.4"/><circle cx="1408.7" cy="1117.5" r="7.4"/><circle cx="277.8" cy="1116.0" r="7.4"/><circle cx="1388.7" cy="1116.0" r="7.4"/><circle cx="1383.7" cy="1127.2" r="7.4"/><circle cx="2494.5" cy="1127.2" r="7.4"/><circle cx="343.5" cy="1111.4" r="7.4"/><circle cx="1454.4" cy="1111.4" r="7.4"/><circle cx="334.0" cy="1127.4" r="7.4"/><circle cx="1444.8" cy="1127.4" r="7.4"/><circle cx="286.2" cy="1108.1" r="7.4"/><circle cx="1397.1" cy="1108.1" r="7.4"/><circle cx="357.6" cy="1119.3" r="7.4"/><circle cx="1468.5" cy="1119.3" r="7.4"/><circle cx="342.7" cy="1132.7" r="7.4"/><circle cx="1453.5" cy="1132.7" r="7.4"/><circle cx="1357.2" cy="1115.7" r="7.4"/><circle cx="2468.0" cy="1115.7" r="7.4"/><circle cx="1378.2" cy="1111.6" r="7.4"/><circle cx="2489.0" cy="1111.6" r="7.4"/><circle cx="309.5" cy="1119.7" r="7.4"/><circle cx="1420.3" cy="1119.7" r="7.4"/><circle cx="1356.2" cy="1128.8" r="7.4"/><circle cx="2467.0" cy="1128.8" r="7.4"/><circle cx="1369.7" cy="1108.6" r="7.4"/><circle cx="2480.5" cy="1108.6" r="7.4"/><circle cx="1337.1" cy="1125.7" r="7.4"/><circle cx="2448.0" cy="1125.7" r="7.4"/><circle cx="295.0" cy="1129.5" r="7.4"/><circle cx="1405.8" cy="1129.5" r="7.4"/><circle cx="1340.9" cy="1117.9" r="7.4"/><circle cx="2451.8" cy="1117.9" r="7.4"/><circle cx="1369.8" cy="1100.9" r="7.4"/><circle cx="2480.6" cy="1100.9" r="7.4"/><circle cx="290.1" cy="1132.6" r="7.4"/><circle cx="1400.9" cy="1132.6" r="7.4"/><circle cx="287.8" cy="1119.8" r="7.4"/><circle cx="1398.7" cy="1119.8" r="7.4"/><circle cx="279.9" cy="1106.4" r="7.4"/><circle cx="1390.7" cy="1106.4" r="7.4"/><circle cx="1350.2" cy="1106.1" r="7.4"/><circle cx="2461.0" cy="1106.1" r="7.4"/><circle cx="1367.7" cy="1113.5" r="7.4"/><circle cx="2478.6" cy="1113.5" r="7.4"/><circle cx="353.6" cy="1117.9" r="7.4"/><circle cx="1464.5" cy="1117.9" r="7.4"/><circle cx="1362.6" cy="1100.3" r="7.4"/><circle cx="2473.4" cy="1100.3" r="7.4"/><circle cx="348.5" cy="1126.7" r="7.4"/><circle cx="1459.3" cy="1126.7" r="7.4"/></g>
<g clip-path="url(#ct)"><path d="M272.6,444.1 L274.0,433.6 L275.4,423.3 L276.8,413.3 L278.2,403.5 L279.6,394.0 L280.9,384.9 L282.3,376.1 L283.7,367.7 L285.1,359.6 L286.5,352.0 L287.9,344.8 L289.3,338.1 L290.7,331.8 L292.0,326.0 L293.4,320.6 L294.8,315.7 L296.2,311.3 L297.6,307.4 L299.0,303.9 L300.4,300.9 L301.8,298.5 L303.1,296.4 L304.5,294.9 L305.9,293.8 L307.3,293.1 L308.7,292.9 L310.1,293.1 L311.5,293.7 L312.9,294.6 L314.2,296.0 L315.6,297.7 L317.0,299.8 L318.4,302.2 L319.8,304.9 L321.2,307.9 L322.6,311.1 L324.0,314.6 L325.4,318.4 L326.7,322.4 L328.1,326.5 L329.5,330.9 L330.9,335.4 L332.3,340.0 L333.7,344.8 L335.1,349.7 L336.5,354.7 L337.8,359.8 L339.2,364.9 L340.6,370.1 L342.0,375.4 L343.4,380.6 L344.8,385.9 L346.2,391.2 L347.6,396.5 L348.9,401.7 L350.3,407.0 L351.7,412.2 L353.1,417.3 L354.5,422.4 L355.9,427.5 L357.3,432.4 L358.7,437.4 L360.1,442.2 L361.4,446.9 L362.8,451.6 L364.2,456.2 L365.6,460.6 L367.0,465.0 L368.4,469.3 L369.8,473.5 L371.2,477.5 L372.5,481.5 L373.9,485.4 L375.3,489.1 L376.7,492.8 L378.1,496.3 L379.5,499.8 L380.9,503.1 L382.3,506.3 L383.6,509.4 L385.0,512.5 L386.4,515.4 L387.8,518.2 L389.2,520.9 L390.6,523.5 L392.0,526.0 L393.4,528.4 L394.7,530.7 L396.1,532.9 L397.5,535.0 L398.9,537.1 L400.3,539.0 L401.7,540.9 L403.1,542.7 L404.5,544.4 L405.9,546.0 L407.2,547.5 L408.6,549.0 L410.0,550.4 L411.4,551.7 L412.8,552.9 L414.2,554.1 L415.6,555.2 L417.0,556.3 L418.3,557.2 L419.7,558.2 L421.1,559.0 L422.5,559.8 L423.9,560.6 L425.3,561.3 L426.7,562.0 L428.1,562.6 L429.4,563.1 L430.8,563.6 L432.2,564.1 L433.6,564.5 L435.0,564.9 L436.4,565.2 L437.8,565.5 L439.2,565.8 L440.6,566.0 L441.9,566.2 L443.3,566.4 L444.7,566.5 L446.1,566.6 L447.5,566.7 L448.9,566.8 L450.3,566.8 L451.7,566.8 L453.0,566.8 L454.4,566.7 L455.8,566.6 L457.2,566.5 L458.6,566.4 L460.0,566.3 L461.4,566.1 L462.8,566.0 L464.1,565.8 L465.5,565.6 L466.9,565.3 L468.3,565.1 L469.7,564.9 L471.1,564.6 L472.5,564.3 L473.9,564.0 L475.3,563.7 L476.6,563.4 L478.0,563.1 L479.4,562.8 L480.8,562.4 L482.2,562.1 L483.6,561.7 L485.0,561.4 L486.4,561.0 L487.7,560.6 L489.1,560.3 L490.5,559.9 L491.9,559.5 L493.3,559.1 L494.7,558.7 L496.1,558.3 L497.5,557.9 L498.8,557.4 L500.2,557.0 L501.6,556.6 L503.0,556.2 L504.4,555.7 L505.8,555.3 L507.2,554.9 L508.6,554.5 L509.9,554.0 L511.3,553.6 L512.7,553.1 L514.1,552.7 L515.5,552.3 L516.9,551.8 L518.3,551.4 L519.7,550.9 L521.1,550.5 L522.4,550.1 L523.8,549.6 L525.2,549.2 L526.6,548.7 L528.0,548.3 L529.4,547.9 L530.8,547.4 L532.2,547.0 L533.5,546.5 L534.9,546.1 L536.3,545.7 L537.7,545.2 L539.1,544.8 L540.5,544.4 L541.9,543.9 L543.3,543.5 L544.6,543.1 L546.0,542.7 L547.4,542.2 L548.8,541.8 L550.2,541.4 L551.6,541.0 L553.0,540.6 L554.4,540.1 L555.8,539.7 L557.1,539.3 L558.5,538.9 L559.9,538.5 L561.3,538.1 L562.7,537.7 L564.1,537.3 L565.5,536.9 L566.9,536.5 L568.2,536.1 L569.6,535.7 L571.0,535.3 L572.4,534.9 L573.8,534.6 L575.2,534.2 L576.6,533.8 L578.0,533.4 L579.3,533.0 L580.7,532.7 L582.1,532.3 L583.5,531.9 L584.9,531.6 L586.3,531.2 L587.7,530.8 L589.1,530.5 L590.4,530.1 L591.8,529.8 L593.2,529.4 L594.6,529.1 L596.0,528.7 L597.4,528.4 L598.8,528.0 L600.2,527.7 L601.6,527.4 L602.9,527.0 L604.3,526.7 L605.7,526.4 L607.1,526.0 L608.5,525.7 L609.9,525.4 L611.3,525.1 L612.7,524.7 L614.0,524.4 L615.4,524.1 L616.8,523.8 L618.2,523.5 L619.6,523.2 L621.0,522.9 L622.4,522.6 L623.8,522.3 L625.1,522.0 L626.5,521.7 L627.9,521.4 L629.3,521.1 L630.7,520.8 L632.1,520.5 L633.5,520.2 L634.9,519.9 L636.3,519.6 L637.6,519.3 L639.0,519.1 L640.4,518.8 L641.8,518.5 L643.2,518.2 L644.6,518.0 L646.0,517.7 L647.4,517.4 L648.7,517.2 L650.1,516.9 L651.5,516.6 L652.9,516.4 L654.3,516.1 L655.7,515.8 L657.1,515.6 L658.5,515.3 L659.8,515.1 L661.2,514.8 L662.6,514.6 L664.0,514.3 L665.4,514.1 L666.8,513.8 L668.2,513.6 L669.6,513.4 L670.9,513.1 L672.3,512.9 L673.7,512.6 L675.1,512.4 L676.5,512.2 L677.9,511.9 L679.3,511.7 L680.7,511.5 L682.1,511.3 L683.4,511.0 L684.8,510.8 L686.2,510.6 L687.6,510.4 L689.0,510.1 L690.4,509.9 L691.8,509.7 L693.2,509.5 L694.5,509.3 L695.9,509.0 L697.3,508.8 L698.7,508.6 L700.1,508.4 L701.5,508.2 L702.9,508.0 L704.3,507.8 L705.6,507.6 L707.0,507.4 L708.4,507.2 L709.8,507.0 L711.2,506.8 L712.6,506.6 L714.0,506.4 L715.4,506.2 L716.8,506.0 L718.1,505.8 L719.5,505.6 L720.9,505.4 L722.3,505.2 L723.7,505.0 L725.1,504.8 L726.5,504.6 L727.9,504.4 L729.2,504.3 L730.6,504.1 L732.0,503.9 L733.4,503.7 L734.8,503.5 L736.2,503.3 L737.6,503.2 L739.0,503.0 L740.3,502.8 L741.7,502.6 L743.1,502.4 L744.5,502.3 L745.9,502.1 L747.3,501.9 L748.7,501.7 L750.1,501.6 L751.5,501.4 L752.8,501.2 L754.2,501.0 L755.6,500.9 L757.0,500.7 L758.4,500.5 L759.8,500.4 L761.2,500.2 L762.6,500.0 L763.9,499.9 L765.3,499.7 L766.7,499.5 L768.1,499.4 L769.5,499.2 L770.9,499.0 L772.3,498.9 L773.7,498.7 L775.0,498.6 L776.4,498.4 L777.8,498.2 L779.2,498.1 L780.6,497.9 L782.0,497.8 L783.4,497.6 L784.8,497.4 L786.1,497.3 L787.5,497.1 L788.9,497.0 L790.3,496.8 L791.7,496.7 L793.1,496.5 L794.5,496.4 L795.9,496.2 L797.3,496.0 L798.6,495.9 L800.0,495.7 L801.4,495.6 L802.8,495.4 L804.2,495.3 L805.6,495.1 L807.0,495.0 L808.4,494.8 L809.7,494.7 L811.1,494.5 L812.5,494.4 L813.9,494.3 L815.3,494.1 L816.7,494.0 L818.1,493.8 L819.5,493.7 L820.8,493.5 L822.2,493.4 L823.6,493.2 L825.0,493.1 L826.4,492.9 L827.8,492.8 L829.2,492.7 L830.6,492.5 L832.0,492.4 L833.3,492.2 L834.7,492.1 L836.1,491.9 L837.5,491.8 L838.9,491.7 L840.3,491.5 L841.7,491.4 L843.1,491.2 L844.4,491.1 L845.8,491.0 L847.2,490.8 L848.6,490.7 L850.0,490.5 L851.4,490.4 L852.8,490.3 L854.2,490.1 L855.5,490.0 L856.9,489.8 L858.3,489.7 L859.7,489.6 L861.1,489.4 L862.5,489.3 L863.9,489.1 L865.3,489.0 L866.6,488.9 L868.0,488.7 L869.4,488.6 L870.8,488.5 L872.2,488.3 L873.6,488.2 L875.0,488.0 L876.4,487.9 L877.8,487.8 L879.1,487.6 L880.5,487.5 L881.9,487.4 L883.3,487.2 L884.7,487.1 L886.1,487.0 L887.5,486.8 L888.9,486.7 L890.2,486.6 L891.6,486.4 L893.0,486.3 L894.4,486.1 L895.8,486.0 L897.2,485.9 L898.6,485.7 L900.0,485.6 L901.3,485.5 L902.7,485.3 L904.1,485.2 L905.5,485.1 L906.9,484.9 L908.3,484.8 L909.7,484.7 L911.1,484.5 L912.5,484.4 L913.8,484.3 L915.2,484.1 L916.6,484.0 L918.0,483.9 L919.4,483.7 L920.8,483.6 L922.2,483.4 L923.6,483.3 L924.9,483.2 L926.3,483.0 L927.7,482.9 L929.1,482.8 L930.5,482.6 L931.9,482.5 L933.3,482.4 L934.7,482.2 L936.0,482.1 L937.4,482.0 L938.8,481.8 L940.2,481.7 L941.6,481.6 L943.0,481.4 L944.4,481.3 L945.8,481.2 L947.1,481.0 L948.5,480.9 L949.9,480.8 L951.3,480.6 L952.7,480.5 L954.1,480.4 L955.5,480.2 L956.9,480.1 L958.3,480.0 L959.6,479.8 L961.0,479.7 L962.4,479.6 L963.8,479.4 L965.2,479.3 L966.6,479.1 L968.0,479.0 L969.4,478.9 L970.7,478.7 L972.1,478.6 L973.5,478.5 L974.9,478.3 L976.3,478.2 L977.7,478.1 L979.1,477.9 L980.5,477.8 L981.8,477.7 L983.2,477.6 L984.6,477.4 L986.0,477.3 L987.4,477.2 L988.8,477.0 L990.2,476.9 L991.6,476.8 L993.0,476.6 L994.3,476.5 L995.7,476.4 L997.1,476.2 L998.5,476.1 L999.9,476.0 L1001.3,475.8 L1002.7,475.7 L1004.1,475.6 L1005.4,475.5 L1006.8,475.3 L1008.2,475.2 L1009.6,475.1 L1011.0,474.9 L1012.4,474.8 L1013.8,474.7 L1015.2,474.6 L1016.5,474.4 L1017.9,474.3 L1019.3,474.2 L1020.7,474.1 L1022.1,473.9 L1023.5,473.8 L1024.9,473.7 L1026.3,473.6 L1027.6,473.5 L1029.0,473.3 L1030.4,473.2 L1031.8,473.1 L1033.2,473.0 L1034.6,472.9 L1036.0,472.7 L1037.4,472.6 L1038.8,472.5 L1040.1,472.4 L1041.5,472.3 L1042.9,472.2 L1044.3,472.1 L1045.7,472.0 L1047.1,471.8 L1048.5,471.7 L1049.9,471.6 L1051.2,471.5 L1052.6,471.4 L1054.0,471.3 L1055.4,471.2 L1056.8,471.1 L1058.2,471.0 L1059.6,470.9 L1061.0,470.8 L1062.3,470.7 L1063.7,470.7 L1065.1,470.6 L1066.5,470.5 L1067.9,470.4 L1069.3,470.3 L1070.7,470.2 L1072.1,470.1 L1073.5,470.1 L1074.8,470.0 L1076.2,469.9 L1077.6,469.9 L1079.0,469.8 L1080.4,469.7 L1081.8,469.7 L1083.2,469.6 L1084.6,469.5 L1085.9,469.5 L1087.3,469.4 L1088.7,469.4 L1090.1,469.4 L1091.5,469.3 L1092.9,469.3 L1094.3,469.2 L1095.7,469.2 L1097.0,469.2 L1098.4,469.2 L1099.8,469.2 L1101.2,469.1 L1102.6,469.1 L1104.0,469.1 L1105.4,469.1 L1106.8,469.1 L1108.2,469.1 L1109.5,469.2 L1110.9,469.2 L1112.3,469.2 L1113.7,469.2 L1115.1,469.3 L1116.5,469.3 L1117.9,469.4 L1119.3,469.4 L1120.6,469.5 L1122.0,469.6 L1123.4,469.6 L1124.8,469.7 L1126.2,469.8 L1127.6,469.9 L1129.0,470.0 L1130.4,470.1 L1131.7,470.3 L1133.1,470.4 L1134.5,470.5 L1135.9,470.7 L1137.3,470.8 L1138.7,471.0 L1140.1,471.2 L1141.5,471.4 L1142.8,471.6 L1144.2,471.8 L1145.6,472.0 L1147.0,472.2 L1148.4,472.5 L1149.8,472.7 L1151.2,473.0 L1152.6,473.3 L1154.0,473.6 L1155.3,473.9 L1156.7,474.2 L1158.1,474.6 L1159.5,474.9 L1160.9,475.3 L1162.3,475.7 L1163.7,476.1 L1165.1,476.5 L1166.4,476.9 L1167.8,477.4 L1169.2,477.9 L1170.6,478.4 L1172.0,478.9 L1173.4,479.4 L1174.8,479.9 L1176.2,480.5 L1177.5,481.1 L1178.9,481.7 L1180.3,482.4 L1181.7,483.0 L1183.1,483.7 L1184.5,484.4 L1185.9,485.1 L1187.3,485.9 L1188.7,486.7 L1190.0,487.5 L1191.4,488.3 L1192.8,489.2 L1194.2,490.1 L1195.6,491.0 L1197.0,492.0 L1198.4,493.0 L1199.8,494.0 L1201.1,495.1 L1202.5,496.2 L1203.9,497.3 L1205.3,498.4 L1206.7,499.6 L1208.1,500.9 L1209.5,502.2 L1210.9,503.5 L1212.2,504.8 L1213.6,506.2 L1215.0,507.7 L1216.4,509.1 L1217.8,510.7 L1219.2,512.2 L1220.6,513.9 L1222.0,515.5 L1223.3,517.2 L1224.7,519.0 L1226.1,520.8 L1227.5,522.6 L1228.9,524.6 L1230.3,526.5 L1231.7,528.5 L1233.1,530.6 L1234.5,532.7 L1235.8,534.9 L1237.2,537.1 L1238.6,539.4 L1240.0,541.8 L1241.4,544.2 L1242.8,546.6 L1244.2,549.2 L1245.6,551.7 L1246.9,554.4 L1248.3,557.1 L1249.7,559.8 L1251.1,562.7 L1252.5,565.6 L1253.9,568.5 L1255.3,571.5 L1256.7,574.6 L1258.0,577.7 L1259.4,580.9 L1260.8,584.2 L1262.2,587.5 L1263.6,590.9 L1265.0,594.3 L1266.4,597.8 L1267.8,601.3 L1269.2,604.9 L1270.5,608.5 L1271.9,612.2 L1273.3,616.0 L1274.7,619.7 L1276.1,623.6 L1277.5,627.4 L1278.9,631.3 L1280.3,635.2 L1281.6,639.2 L1283.0,643.2 L1284.4,647.2 L1285.8,651.2 L1287.2,655.2 L1288.6,659.2 L1290.0,663.2 L1291.4,667.2 L1292.7,671.2 L1294.1,675.1 L1295.5,679.0 L1296.9,682.9 L1298.3,686.7 L1299.7,690.5 L1301.1,694.2 L1302.5,697.8 L1303.8,701.3 L1305.2,704.7 L1306.6,708.0 L1308.0,711.2 L1309.4,714.2 L1310.8,717.1 L1312.2,719.8 L1313.6,722.4 L1315.0,724.7 L1316.3,726.9 L1317.7,728.8 L1319.1,730.5 L1320.5,732.0 L1321.9,733.2 L1323.3,734.1 L1324.7,734.7 L1326.1,735.0 L1327.4,735.0 L1328.8,734.7 L1330.2,734.0 L1331.6,733.0 L1333.0,731.6 L1334.4,729.9 L1335.8,727.7 L1337.2,725.2 L1338.5,722.3 L1339.9,718.9 L1341.3,715.1 L1342.7,710.9 L1344.1,706.3 L1345.5,701.3 L1346.9,695.8 L1348.3,689.9 L1349.7,683.6 L1351.0,676.9 L1352.4,669.8 L1353.8,662.3 L1355.2,654.4 L1356.6,646.1 L1358.0,637.5 L1359.4,628.5 L1360.8,619.2 L1362.1,609.6 L1363.5,599.8 L1364.9,589.6 L1366.3,579.3 L1367.7,568.7 L1369.1,558.0 L1370.5,547.1 L1371.9,536.1 L1373.2,525.0 L1374.6,513.9 L1376.0,502.8 L1377.4,491.6 L1378.8,480.6 L1380.2,469.6 L1381.6,458.7 L1383.0,447.9 L1384.3,437.3 L1385.7,427.0 L1387.1,416.8 L1388.5,407.0 L1389.9,397.4 L1391.3,388.1 L1392.7,379.2 L1394.1,370.7 L1395.5,362.5 L1396.8,354.7 L1398.2,347.4 L1399.6,340.5 L1401.0,334.0 L1402.4,328.0 L1403.8,322.5 L1405.2,317.4 L1406.6,312.8 L1407.9,308.7 L1409.3,305.1 L1410.7,302.0 L1412.1,299.3 L1413.5,297.1 L1414.9,295.4 L1416.3,294.1 L1417.7,293.3 L1419.0,292.9 L1420.4,292.9 L1421.8,293.4 L1423.2,294.2 L1424.6,295.5 L1426.0,297.1 L1427.4,299.0 L1428.8,301.3 L1430.2,303.9 L1431.5,306.8 L1432.9,309.9 L1434.3,313.3 L1435.7,317.0 L1437.1,320.9 L1438.5,325.0 L1439.9,329.3 L1441.3,333.7 L1442.6,338.3 L1444.0,343.1 L1445.4,347.9 L1446.8,352.9 L1448.2,357.9 L1449.6,363.1 L1451.0,368.3 L1452.4,373.5 L1453.7,378.7 L1455.1,384.0 L1456.5,389.3 L1457.9,394.6 L1459.3,399.9 L1460.7,405.1 L1462.1,410.3 L1463.5,415.5 L1464.9,420.6 L1466.2,425.7 L1467.6,430.7 L1469.0,435.6 L1470.4,440.5 L1471.8,445.2 L1473.2,449.9 L1474.6,454.5 L1476.0,459.0 L1477.3,463.4 L1478.7,467.8 L1480.1,472.0 L1481.5,476.1 L1482.9,480.1 L1484.3,484.0 L1485.7,487.8 L1487.1,491.5 L1488.4,495.1 L1489.8,498.6 L1491.2,501.9 L1492.6,505.2 L1494.0,508.3 L1495.4,511.4 L1496.8,514.3 L1498.2,517.2 L1499.5,519.9 L1500.9,522.6 L1502.3,525.1 L1503.7,527.5 L1505.1,529.9 L1506.5,532.1 L1507.9,534.3 L1509.3,536.4 L1510.7,538.3 L1512.0,540.2 L1513.4,542.0 L1514.8,543.8 L1516.2,545.4 L1517.6,547.0 L1519.0,548.5 L1520.4,549.9 L1521.8,551.2 L1523.1,552.5 L1524.5,553.7 L1525.9,554.8 L1527.3,555.9 L1528.7,556.9 L1530.1,557.8 L1531.5,558.7 L1532.9,559.6 L1534.2,560.3 L1535.6,561.1 L1537.0,561.7 L1538.4,562.3 L1539.8,562.9 L1541.2,563.4 L1542.6,563.9 L1544.0,564.4 L1545.4,564.8 L1546.7,565.1 L1548.1,565.4 L1549.5,565.7 L1550.9,566.0 L1552.3,566.2 L1553.7,566.3 L1555.1,566.5 L1556.5,566.6 L1557.8,566.7 L1559.2,566.8 L1560.6,566.8 L1562.0,566.8 L1563.4,566.8 L1564.8,566.7 L1566.2,566.7 L1567.6,566.6 L1568.9,566.5 L1570.3,566.3 L1571.7,566.2 L1573.1,566.0 L1574.5,565.8 L1575.9,565.6 L1577.3,565.4 L1578.7,565.2 L1580.0,565.0 L1581.4,564.7 L1582.8,564.4 L1584.2,564.1 L1585.6,563.8 L1587.0,563.5 L1588.4,563.2 L1589.8,562.9 L1591.2,562.6 L1592.5,562.2 L1593.9,561.9 L1595.3,561.5 L1596.7,561.1 L1598.1,560.8 L1599.5,560.4 L1600.9,560.0 L1602.3,559.6 L1603.6,559.2 L1605.0,558.8 L1606.4,558.4 L1607.8,558.0 L1609.2,557.6 L1610.6,557.2 L1612.0,556.8 L1613.4,556.3 L1614.7,555.9 L1616.1,555.5 L1617.5,555.0 L1618.9,554.6 L1620.3,554.2 L1621.7,553.7 L1623.1,553.3 L1624.5,552.9 L1625.9,552.4 L1627.2,552.0 L1628.6,551.5 L1630.0,551.1 L1631.4,550.7 L1632.8,550.2 L1634.2,549.8 L1635.6,549.3 L1637.0,548.9 L1638.3,548.4 L1639.7,548.0 L1641.1,547.6 L1642.5,547.1 L1643.9,546.7 L1645.3,546.3 L1646.7,545.8 L1648.1,545.4 L1649.4,545.0 L1650.8,544.5 L1652.2,544.1 L1653.6,543.7 L1655.0,543.2 L1656.4,542.8 L1657.8,542.4 L1659.2,542.0 L1660.5,541.5 L1661.9,541.1 L1663.3,540.7 L1664.7,540.3 L1666.1,539.9 L1667.5,539.5 L1668.9,539.1 L1670.3,538.6 L1671.7,538.2 L1673.0,537.8 L1674.4,537.4 L1675.8,537.0 L1677.2,536.6 L1678.6,536.2 L1680.0,535.9 L1681.4,535.5 L1682.8,535.1 L1684.1,534.7 L1685.5,534.3 L1686.9,533.9 L1688.3,533.6 L1689.7,533.2 L1691.1,532.8 L1692.5,532.4 L1693.9,532.1 L1695.2,531.7 L1696.6,531.3 L1698.0,531.0 L1699.4,530.6 L1700.8,530.3 L1702.2,529.9 L1703.6,529.5 L1705.0,529.2 L1706.4,528.8 L1707.7,528.5 L1709.1,528.2 L1710.5,527.8 L1711.9,527.5 L1713.3,527.1 L1714.7,526.8 L1716.1,526.5 L1717.5,526.1 L1718.8,525.8 L1720.2,525.5 L1721.6,525.2 L1723.0,524.9 L1724.4,524.5 L1725.8,524.2 L1727.2,523.9 L1728.6,523.6 L1729.9,523.3 L1731.3,523.0 L1732.7,522.7 L1734.1,522.4 L1735.5,522.1 L1736.9,521.8 L1738.3,521.5 L1739.7,521.2 L1741.1,520.9 L1742.4,520.6 L1743.8,520.3 L1745.2,520.0 L1746.6,519.7 L1748.0,519.4 L1749.4,519.2 L1750.8,518.9 L1752.2,518.6 L1753.5,518.3 L1754.9,518.1 L1756.3,517.8 L1757.7,517.5 L1759.1,517.3 L1760.5,517.0 L1761.9,516.7 L1763.3,516.5 L1764.6,516.2 L1766.0,515.9 L1767.4,515.7 L1768.8,515.4 L1770.2,515.2 L1771.6,514.9 L1773.0,514.7 L1774.4,514.4 L1775.7,514.2 L1777.1,513.9 L1778.5,513.7 L1779.9,513.4 L1781.3,513.2 L1782.7,513.0 L1784.1,512.7 L1785.5,512.5 L1786.9,512.3 L1788.2,512.0 L1789.6,511.8 L1791.0,511.6 L1792.4,511.3 L1793.8,511.1 L1795.2,510.9 L1796.6,510.7 L1798.0,510.4 L1799.3,510.2 L1800.7,510.0 L1802.1,509.8 L1803.5,509.6 L1804.9,509.3 L1806.3,509.1 L1807.7,508.9 L1809.1,508.7 L1810.4,508.5 L1811.8,508.3 L1813.2,508.1 L1814.6,507.9 L1816.0,507.7 L1817.4,507.5 L1818.8,507.2 L1820.2,507.0 L1821.6,506.8 L1822.9,506.6 L1824.3,506.4 L1825.7,506.2 L1827.1,506.1 L1828.5,505.9 L1829.9,505.7 L1831.3,505.5 L1832.7,505.3 L1834.0,505.1 L1835.4,504.9 L1836.8,504.7 L1838.2,504.5 L1839.6,504.3 L1841.0,504.1 L1842.4,504.0 L1843.8,503.8 L1845.1,503.6 L1846.5,503.4 L1847.9,503.2 L1849.3,503.0 L1850.7,502.9 L1852.1,502.7 L1853.5,502.5 L1854.9,502.3 L1856.2,502.1 L1857.6,502.0 L1859.0,501.8 L1860.4,501.6 L1861.8,501.4 L1863.2,501.3 L1864.6,501.1 L1866.0,500.9 L1867.4,500.8 L1868.7,500.6 L1870.1,500.4 L1871.5,500.3 L1872.9,500.1 L1874.3,499.9 L1875.7,499.8 L1877.1,499.6 L1878.5,499.4 L1879.8,499.3 L1881.2,499.1 L1882.6,498.9 L1884.0,498.8 L1885.4,498.6 L1886.8,498.4 L1888.2,498.3 L1889.6,498.1 L1890.9,498.0 L1892.3,497.8 L1893.7,497.7 L1895.1,497.5 L1896.5,497.3 L1897.9,497.2 L1899.3,497.0 L1900.7,496.9 L1902.1,496.7 L1903.4,496.6 L1904.8,496.4 L1906.2,496.3 L1907.6,496.1 L1909.0,496.0 L1910.4,495.8 L1911.8,495.6 L1913.2,495.5 L1914.5,495.3 L1915.9,495.2 L1917.3,495.0 L1918.7,494.9 L1920.1,494.7 L1921.5,494.6 L1922.9,494.5 L1924.3,494.3 L1925.6,494.2 L1927.0,494.0 L1928.4,493.9 L1929.8,493.7 L1931.2,493.6 L1932.6,493.4 L1934.0,493.3 L1935.4,493.1 L1936.7,493.0 L1938.1,492.8 L1939.5,492.7 L1940.9,492.6 L1942.3,492.4 L1943.7,492.3 L1945.1,492.1 L1946.5,492.0 L1947.9,491.8 L1949.2,491.7 L1950.6,491.6 L1952.0,491.4 L1953.4,491.3 L1954.8,491.1 L1956.2,491.0 L1957.6,490.9 L1959.0,490.7 L1960.3,490.6 L1961.7,490.4 L1963.1,490.3 L1964.5,490.2 L1965.9,490.0 L1967.3,489.9 L1968.7,489.7 L1970.1,489.6 L1971.4,489.5 L1972.8,489.3 L1974.2,489.2 L1975.6,489.1 L1977.0,488.9 L1978.4,488.8 L1979.8,488.6 L1981.2,488.5 L1982.6,488.4 L1983.9,488.2 L1985.3,488.1 L1986.7,488.0 L1988.1,487.8 L1989.5,487.7 L1990.9,487.6 L1992.3,487.4 L1993.7,487.3 L1995.0,487.1 L1996.4,487.0 L1997.8,486.9 L1999.2,486.7 L2000.6,486.6 L2002.0,486.5 L2003.4,486.3 L2004.8,486.2 L2006.1,486.1 L2007.5,485.9 L2008.9,485.8 L2010.3,485.7 L2011.7,485.5 L2013.1,485.4 L2014.5,485.2 L2015.9,485.1 L2017.2,485.0 L2018.6,484.8 L2020.0,484.7 L2021.4,484.6 L2022.8,484.4 L2024.2,484.3 L2025.6,484.2 L2027.0,484.0 L2028.4,483.9 L2029.7,483.8 L2031.1,483.6 L2032.5,483.5 L2033.9,483.4 L2035.3,483.2 L2036.7,483.1 L2038.1,483.0 L2039.5,482.8 L2040.8,482.7 L2042.2,482.6 L2043.6,482.4 L2045.0,482.3 L2046.4,482.1 L2047.8,482.0 L2049.2,481.9 L2050.6,481.7 L2051.9,481.6 L2053.3,481.5 L2054.7,481.3 L2056.1,481.2 L2057.5,481.1 L2058.9,480.9 L2060.3,480.8 L2061.7,480.7 L2063.1,480.5 L2064.4,480.4 L2065.8,480.3 L2067.2,480.1 L2068.6,480.0 L2070.0,479.9 L2071.4,479.7 L2072.8,479.6 L2074.2,479.5 L2075.5,479.3 L2076.9,479.2 L2078.3,479.1 L2079.7,478.9 L2081.1,478.8 L2082.5,478.7 L2083.9,478.5 L2085.3,478.4 L2086.6,478.3 L2088.0,478.1 L2089.4,478.0 L2090.8,477.9 L2092.2,477.7 L2093.6,477.6 L2095.0,477.5 L2096.4,477.3 L2097.8,477.2 L2099.1,477.1 L2100.5,476.9 L2101.9,476.8 L2103.3,476.7 L2104.7,476.5 L2106.1,476.4 L2107.5,476.3 L2108.9,476.2 L2110.2,476.0 L2111.6,475.9 L2113.0,475.8 L2114.4,475.6 L2115.8,475.5 L2117.2,475.4 L2118.6,475.2 L2120.0,475.1 L2121.3,475.0 L2122.7,474.9 L2124.1,474.7 L2125.5,474.6 L2126.9,474.5 L2128.3,474.4 L2129.7,474.2 L2131.1,474.1 L2132.4,474.0 L2133.8,473.9 L2135.2,473.7 L2136.6,473.6 L2138.0,473.5 L2139.4,473.4 L2140.8,473.3 L2142.2,473.1 L2143.6,473.0 L2144.9,472.9 L2146.3,472.8 L2147.7,472.7 L2149.1,472.6 L2150.5,472.4 L2151.9,472.3 L2153.3,472.2 L2154.7,472.1 L2156.0,472.0 L2157.4,471.9 L2158.8,471.8 L2160.2,471.7 L2161.6,471.6 L2163.0,471.5 L2164.4,471.4 L2165.8,471.3 L2167.1,471.2 L2168.5,471.1 L2169.9,471.0 L2171.3,470.9 L2172.7,470.8 L2174.1,470.7 L2175.5,470.6 L2176.9,470.5 L2178.3,470.4 L2179.6,470.3 L2181.0,470.3 L2182.4,470.2 L2183.8,470.1 L2185.2,470.0 L2186.6,469.9 L2188.0,469.9 L2189.4,469.8 L2190.7,469.7 L2192.1,469.7 L2193.5,469.6 L2194.9,469.6 L2196.3,469.5 L2197.7,469.5 L2199.1,469.4 L2200.5,469.4 L2201.8,469.3 L2203.2,469.3 L2204.6,469.3 L2206.0,469.2 L2207.4,469.2 L2208.8,469.2 L2210.2,469.2 L2211.6,469.1 L2212.9,469.1 L2214.3,469.1 L2215.7,469.1 L2217.1,469.1 L2218.5,469.1 L2219.9,469.2 L2221.3,469.2 L2222.7,469.2 L2224.1,469.2 L2225.4,469.3 L2226.8,469.3 L2228.2,469.4 L2229.6,469.4 L2231.0,469.5 L2232.4,469.5 L2233.8,469.6 L2235.2,469.7 L2236.5,469.8 L2237.9,469.9 L2239.3,470.0 L2240.7,470.1 L2242.1,470.2 L2243.5,470.3 L2244.9,470.5 L2246.3,470.6 L2247.6,470.8 L2249.0,470.9 L2250.4,471.1 L2251.8,471.3 L2253.2,471.5 L2254.6,471.7 L2256.0,471.9 L2257.4,472.2 L2258.8,472.4 L2260.1,472.7 L2261.5,472.9 L2262.9,473.2 L2264.3,473.5 L2265.7,473.8 L2267.1,474.1 L2268.5,474.5 L2269.9,474.8 L2271.2,475.2 L2272.6,475.5 L2274.0,475.9 L2275.4,476.3 L2276.8,476.8 L2278.2,477.2 L2279.6,477.7 L2281.0,478.2 L2282.3,478.7 L2283.7,479.2 L2285.1,479.7 L2286.5,480.3 L2287.9,480.9 L2289.3,481.5 L2290.7,482.1 L2292.1,482.8 L2293.4,483.4 L2294.8,484.1 L2296.2,484.9 L2297.6,485.6 L2299.0,486.4 L2300.4,487.2 L2301.8,488.0 L2303.2,488.9 L2304.6,489.8 L2305.9,490.7 L2307.3,491.6 L2308.7,492.6 L2310.1,493.6 L2311.5,494.7 L2312.9,495.8 L2314.3,496.9 L2315.7,498.0 L2317.0,499.2 L2318.4,500.4 L2319.8,501.7 L2321.2,503.0 L2322.6,504.3 L2324.0,505.7 L2325.4,507.1 L2326.8,508.6 L2328.1,510.1 L2329.5,511.7 L2330.9,513.3 L2332.3,514.9 L2333.7,516.6 L2335.1,518.3 L2336.5,520.1 L2337.9,522.0 L2339.3,523.9 L2340.6,525.8 L2342.0,527.8 L2343.4,529.8 L2344.8,531.9 L2346.2,534.1 L2347.6,536.3 L2349.0,538.6 L2350.4,540.9 L2351.7,543.3 L2353.1,545.7 L2354.5,548.2 L2355.9,550.8 L2357.3,553.4 L2358.7,556.1 L2360.1,558.8 L2361.5,561.7 L2362.8,564.5 L2364.2,567.4 L2365.6,570.4 L2367.0,573.5 L2368.4,576.6 L2369.8,579.8 L2371.2,583.0 L2372.6,586.3 L2374.0,589.6 L2375.3,593.0 L2376.7,596.5 L2378.1,600.0 L2379.5,603.6 L2380.9,607.2 L2382.3,610.9 L2383.7,614.6 L2385.1,618.4 L2386.4,622.2 L2387.8,626.0 L2389.2,629.9 L2390.6,633.8 L2392.0,637.8 L2393.4,641.7 L2394.8,645.7 L2396.2,649.7 L2397.5,653.7 L2398.9,657.7 L2400.3,661.8 L2401.7,665.8 L2403.1,669.7 L2404.5,673.7 L2405.9,677.6 L2407.3,681.5 L2408.6,685.4 L2410.0,689.1 L2411.4,692.9 L2412.8,696.5 L2414.2,700.0 L2415.6,703.5 L2417.0,706.8 L2418.4,710.1 L2419.8,713.2 L2421.1,716.1 L2422.5,718.9 L2423.9,721.5 L2425.3,723.9 L2426.7,726.1 L2428.1,728.1 L2429.5,729.9 L2430.9,731.5 L2432.2,732.8 L2433.6,733.8 L2435.0,734.5 L2436.4,734.9 L2437.8,735.1 L2439.2,734.9 L2440.6,734.3 L2442.0,733.4 L2443.3,732.2 L2444.7,730.6 L2446.1,728.6 L2447.5,726.2 L2448.9,723.4 L2450.3,720.2 L2451.7,716.5 L2453.1,712.5 L2454.5,708.0 L2455.8,703.1 L2457.2,697.8 L2458.6,692.1 L2460.0,686.0 L2461.4,679.4 L2462.8,672.4 L2464.2,665.0 L2465.6,657.3 L2466.9,649.1 L2468.3,640.6 L2469.7,631.8 L2471.1,622.6 L2472.5,613.1 L2473.9,603.3 L2475.3,593.3 L2476.7,583.0 L2478.0,572.5 L2479.4,561.9 L2480.8,551.0 L2482.2,540.1 L2483.6,529.0 L2485.0,517.9 L2486.4,506.8 L2487.8,495.6 L2489.1,484.5 L2490.5,473.5 L2491.9,462.6 L2493.3,451.8 L2494.7,441.1 L2496.1,430.7" fill="none" stroke="#ff0000" stroke-width="18.2" stroke-linejoin="round" stroke-linecap="butt"/></g>
<g clip-path="url(#cb)"><line x1="273.5" y1="1122.2" x2="2495.2" y2="1122.2" stroke="#ff0000" stroke-width="5.56" stroke-dasharray="19.6 8.6"/></g>
<rect x="273.5" y="78.7" width="2221.7" height="864.6999999999999" fill="none" stroke="#000" stroke-width="2.8"/>
<rect x="273.5" y="972.6" width="2221.7" height="287.9" fill="none" stroke="#000" stroke-width="2.8"/>
<path d="M273.50,944.80v20 M273.50,1261.90v20 M551.21,944.80v20 M551.21,1261.90v20 M828.92,944.80v20 M828.92,1261.90v20 M1106.64,944.80v20 M1106.64,1261.90v20 M1384.35,944.80v20 M1384.35,1261.90v20 M1662.06,944.80v20 M1662.06,1261.90v20 M1939.77,944.80v20 M1939.77,1261.90v20 M2217.49,944.80v20 M2217.49,1261.90v20 M2495.20,944.80v20 M2495.20,1261.90v20 M272.10,104.06h-20 M272.10,278.76h-20 M272.10,453.46h-20 M272.10,628.16h-20 M272.10,802.86h-20 M272.10,1022.85h-20 M272.10,1122.20h-20 M272.10,1221.55h-20" stroke="#000" stroke-width="2.8" fill="none"/>
<g font-family="'Liberation Serif', 'Times New Roman', serif" fill="#000">
<text transform="translate(272.6,1328.7) scale(1,1.02)" font-size="50" text-anchor="middle">0.00</text>
<text transform="translate(550.3,1328.7) scale(1,1.02)" font-size="50" text-anchor="middle">0.25</text>
<text transform="translate(828.0,1328.7) scale(1,1.02)" font-size="50" text-anchor="middle">0.50</text>
<text transform="translate(1105.7,1328.7) scale(1,1.02)" font-size="50" text-anchor="middle">0.75</text>
<text transform="translate(1383.4,1328.7) scale(1,1.02)" font-size="50" text-anchor="middle">1.00</text>
<text transform="translate(1661.2,1328.7) scale(1,1.02)" font-size="50" text-anchor="middle">1.25</text>
<text transform="translate(1938.9,1328.7) scale(1,1.02)" font-size="50" text-anchor="middle">1.50</text>
<text transform="translate(2216.6,1328.7) scale(1,1.02)" font-size="50" text-anchor="middle">1.75</text>
<text transform="translate(2494.3,1328.7) scale(1,1.02)" font-size="50" text-anchor="middle">2.00</text>
<text transform="translate(239.7,122.1) scale(0.993,1.02)" font-size="50" text-anchor="end">15.08</text>
<text transform="translate(239.7,296.8) scale(0.993,1.02)" font-size="50" text-anchor="end">15.10</text>
<text transform="translate(239.7,471.5) scale(0.993,1.02)" font-size="50" text-anchor="end">15.12</text>
<text transform="translate(239.7,646.2) scale(0.993,1.02)" font-size="50" text-anchor="end">15.14</text>
<text transform="translate(239.7,820.9) scale(0.993,1.02)" font-size="50" text-anchor="end">15.16</text>
<text transform="translate(236.8,1040.8) scale(0.985,1.02)" font-size="50" text-anchor="end">0.025</text>
<text transform="translate(236.8,1140.2) scale(0.985,1.02)" font-size="50" text-anchor="end">0.000</text>
<text transform="translate(236.8,1239.5) scale(0.985,1.02)" font-size="50" text-anchor="end">0.025</text>
<text transform="translate(92.4,1045.2) scale(1.213,1)" font-size="50" stroke="#000" stroke-width="0.7">−</text>
<text x="1384.0" y="1391.2" font-size="53.5" text-anchor="middle">Orbital phase</text>
<text transform="translate(97.3,509.9) rotate(-90)" font-size="53.7" text-anchor="middle"><tspan font-style="italic">I</tspan>-band magnitude</text>
<text transform="translate(64.1,1115.5) rotate(-90)" font-size="54" text-anchor="middle">Δ<tspan font-style="italic">I</tspan> (mag)</text>
<text transform="translate(543.78,56.7) scale(1.03,1)" font-size="43" font-style="italic">P</text>
<text transform="translate(573.78,56.7) scale(1.31,1)" font-size="43" stroke="#000" stroke-width="1.3">=</text>
<text transform="translate(608.99,56.7) scale(1.0025,1.02)" font-size="43">615.8402</text>
<text transform="translate(779.82,56.7) scale(1.03,1)" font-size="43">d,</text>
<text transform="translate(822.02,56.7) scale(1.03,1)" font-size="43" font-style="italic">e</text>
<text transform="translate(847.38,56.7) scale(1.31,1)" font-size="43" stroke="#000" stroke-width="1.3">=</text>
<text transform="translate(883.11,56.7) scale(0.9942,1.02)" font-size="43">0.405,</text>
<text transform="translate(1000.76,56.7) scale(1.03,1)" font-size="43" font-style="italic">i</text>
<text transform="translate(1017.68,56.7) scale(1.31,1)" font-size="43" stroke="#000" stroke-width="1.3">=</text>
<text transform="translate(1054.28,56.7) scale(1.0083,1.02)" font-size="43">63.24°,</text>
<text transform="translate(1188.72,56.7) scale(1.03,1)" font-size="43" font-style="italic">ω</text>
<text transform="translate(1223.48,56.7) scale(1.31,1)" font-size="43" stroke="#000" stroke-width="1.3">=</text>
<text transform="translate(1260.1,56.7) scale(0.9993,1.02)" font-size="43">146.10°,</text>
<text transform="translate(1415.66,56.7) scale(1.03,1)" font-size="43" font-style="italic">T</text>
<text transform="translate(1439.19,61.7) scale(1.03,1.02)" font-size="29">0</text>
<text transform="translate(1460.78,56.7) scale(1.31,1)" font-size="43" stroke="#000" stroke-width="1.3">=</text>
<text transform="translate(1498.51,56.7) scale(0.9917,1.02)" font-size="43">9214.2070</text>
<text transform="translate(1689.69,56.7) scale(1.0064,1)" font-size="43">HJD',</text>
<text transform="translate(1795.72,56.7) scale(1.03,1)" font-size="43" font-style="italic">S</text>
<text transform="translate(1822.53,56.7) scale(1.31,1)" font-size="43" stroke="#000" stroke-width="1.3">=</text>
<text transform="translate(1857.98,56.7) scale(1.0089,1.02)" font-size="43">0.00522,</text>
<text transform="translate(2019.08,56.7) scale(1.03,1)" font-size="43" font-style="italic">C</text>
<text transform="translate(2052.53,56.7) scale(1.31,1)" font-size="43" stroke="#000" stroke-width="1.3">=</text>
<text transform="translate(2088.24,56.7) scale(0.9822,1.02)" font-size="43">0.00091</text>
</g></svg></body></html>
